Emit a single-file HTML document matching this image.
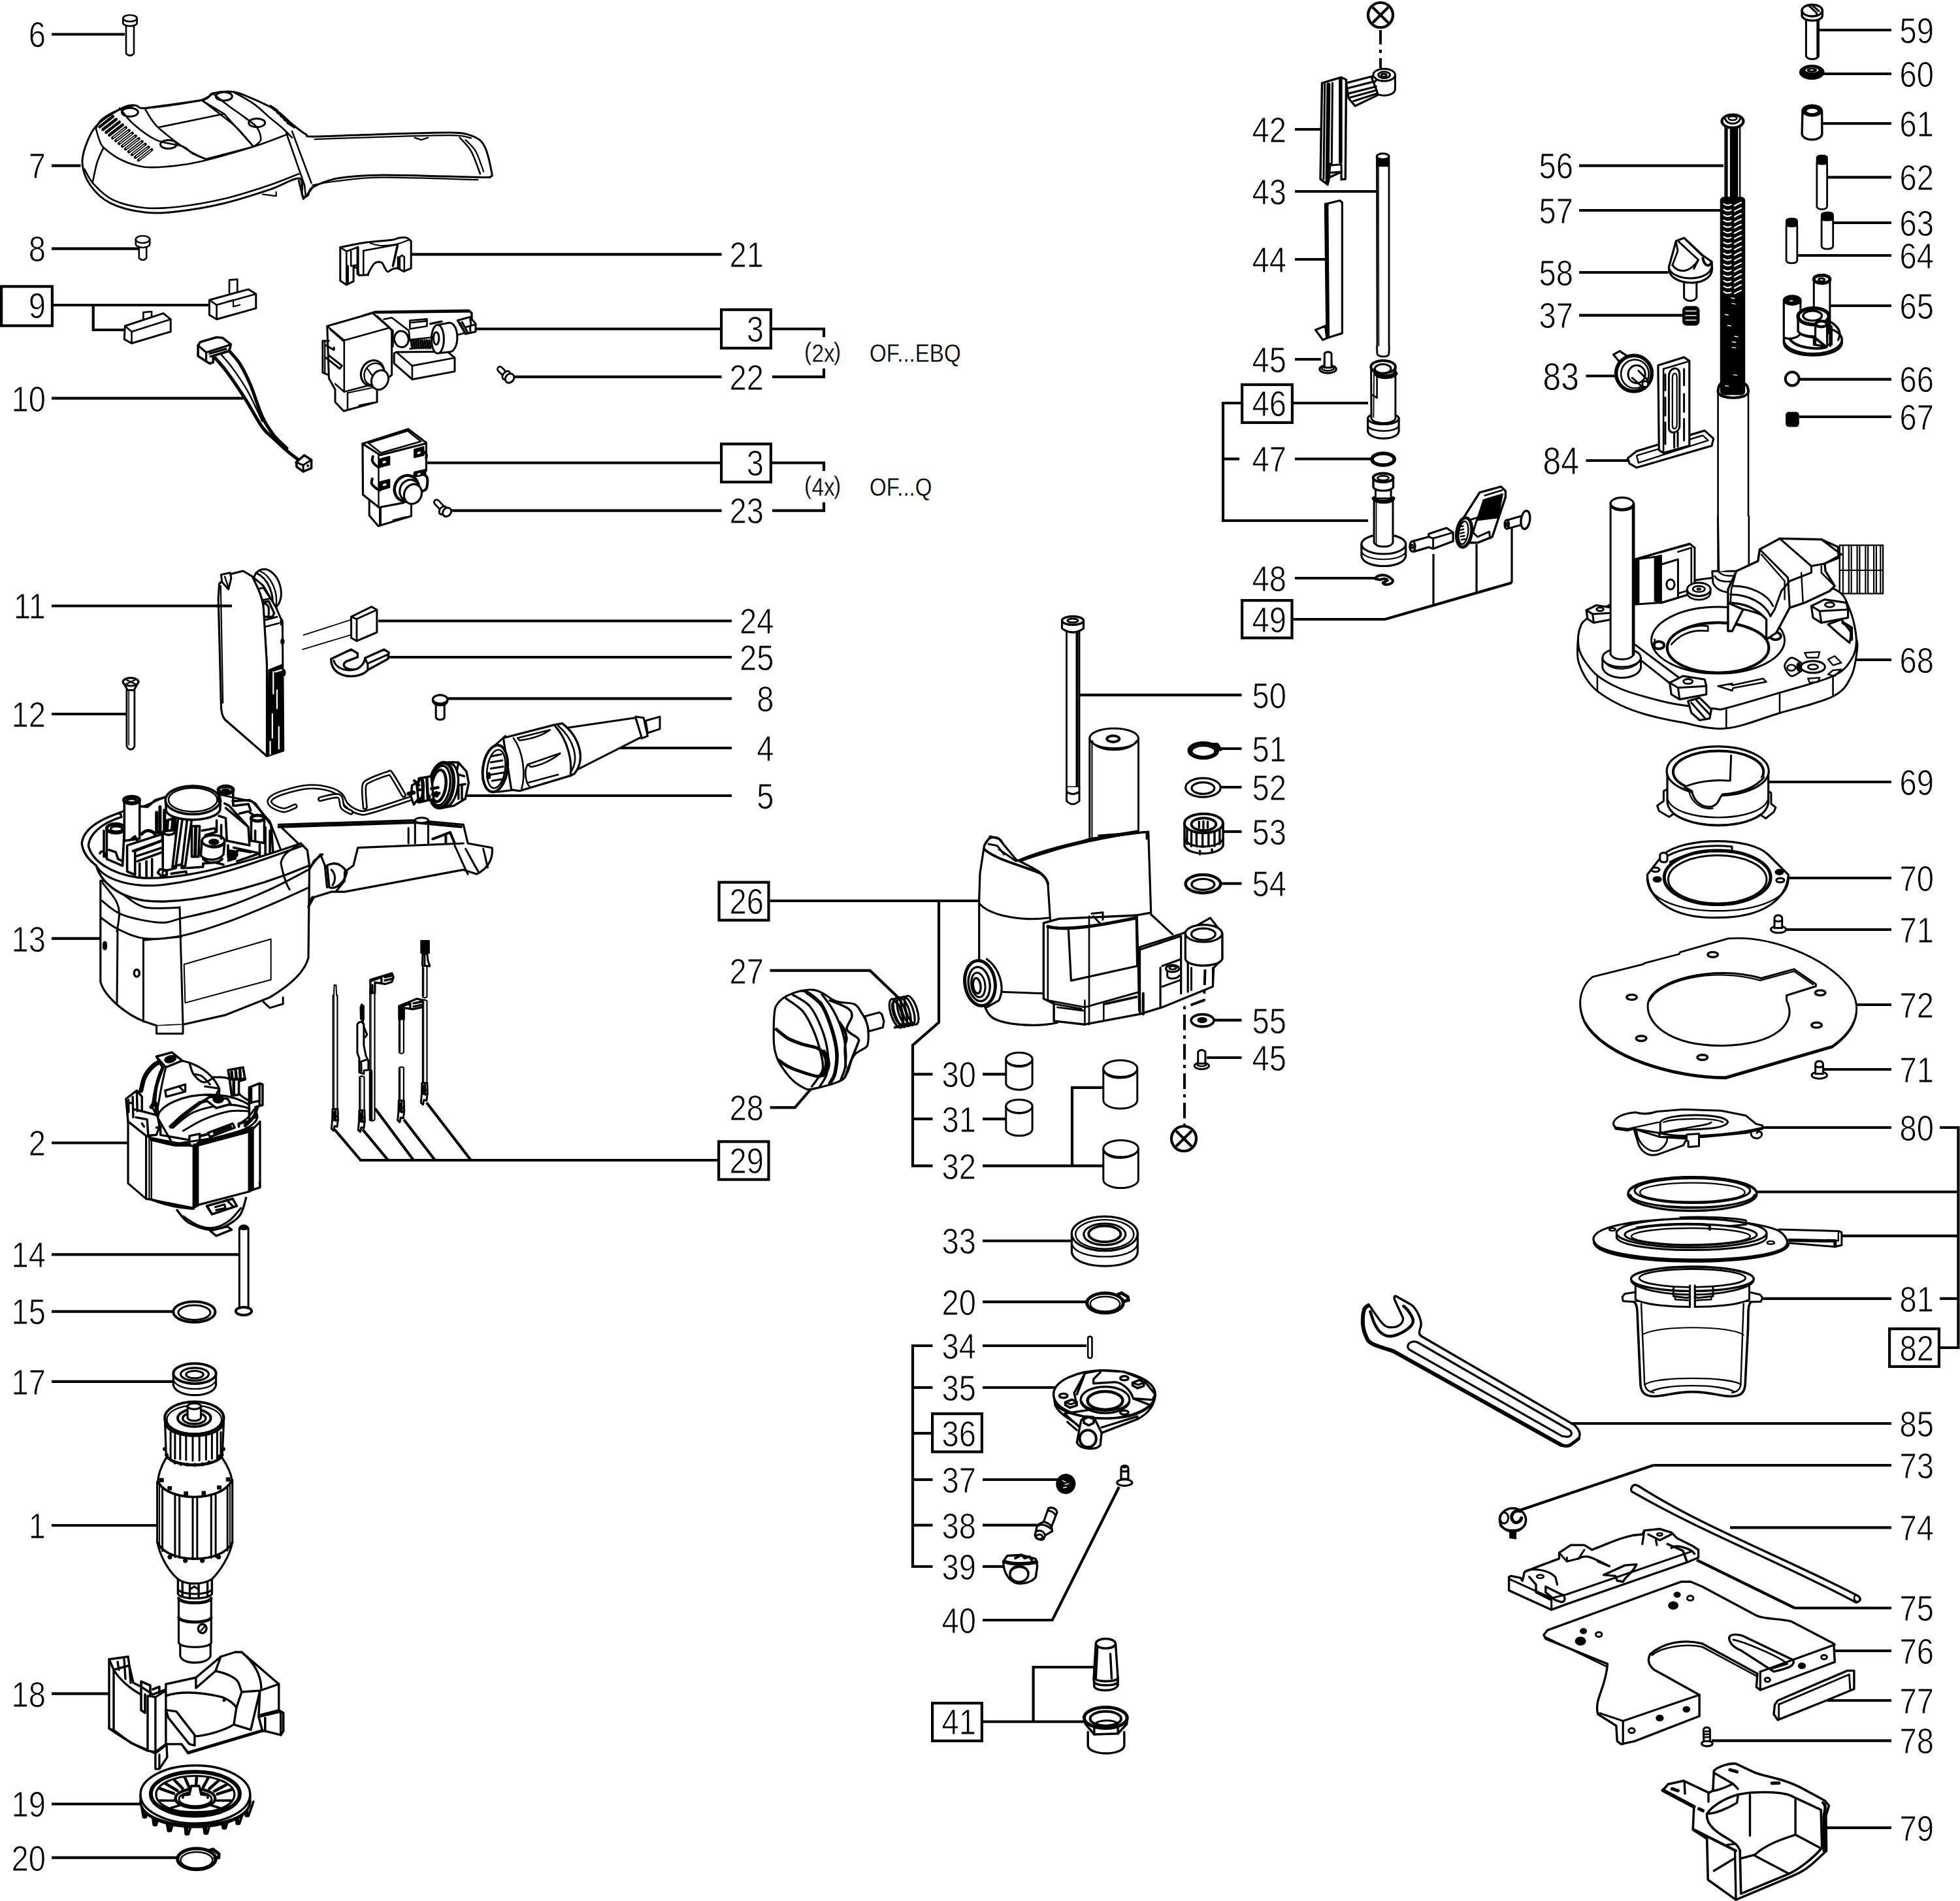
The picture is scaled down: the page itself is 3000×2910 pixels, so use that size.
<!DOCTYPE html>
<html lang="en"><head><meta charset="utf-8"><title>Exploded parts diagram</title>
<style>html,body{margin:0;padding:0;background:#fff}svg{display:block}</style></head>
<body><svg width="3000" height="2910" viewBox="0 0 3000 2910">
<rect width="3000" height="2910" fill="#fff"/>
<g id="leaders" stroke="#000" fill="none">
<line x1="79" y1="52.5" x2="191" y2="52.5" stroke-width="4.2" stroke-linecap="butt"/>
<line x1="79" y1="253.6" x2="123.5" y2="253.6" stroke-width="4.2" stroke-linecap="butt"/>
<line x1="79" y1="380.6" x2="212.8" y2="380.6" stroke-width="4.2" stroke-linecap="butt"/>
<line x1="79" y1="609.7" x2="372.4" y2="609.7" stroke-width="4.2" stroke-linecap="butt"/>
<line x1="79" y1="927.5" x2="354.6" y2="927.5" stroke-width="4.2" stroke-linecap="butt"/>
<line x1="79" y1="1093" x2="196" y2="1093" stroke-width="4.2" stroke-linecap="butt"/>
<line x1="79" y1="1436.7" x2="153" y2="1436.7" stroke-width="4.2" stroke-linecap="butt"/>
<line x1="79" y1="1749.5" x2="196" y2="1749.5" stroke-width="4.2" stroke-linecap="butt"/>
<line x1="79" y1="1920.4" x2="366" y2="1920.4" stroke-width="4.2" stroke-linecap="butt"/>
<line x1="79" y1="2007.6" x2="265" y2="2007.6" stroke-width="4.2" stroke-linecap="butt"/>
<line x1="79" y1="2114.8" x2="265" y2="2114.8" stroke-width="4.2" stroke-linecap="butt"/>
<line x1="79" y1="2335" x2="242" y2="2335" stroke-width="4.2" stroke-linecap="butt"/>
<line x1="79" y1="2592.7" x2="167" y2="2592.7" stroke-width="4.2" stroke-linecap="butt"/>
<line x1="79" y1="2761.5" x2="216.8" y2="2761.5" stroke-width="4.2" stroke-linecap="butt"/>
<line x1="79" y1="2843.7" x2="273" y2="2843.7" stroke-width="4.2" stroke-linecap="butt"/>
<rect x="2.1" y="438.5" width="77.8" height="60.1" stroke-width="4.2" fill="none" rx="0"/>
<line x1="82" y1="467" x2="319" y2="467" stroke-width="4.2" stroke-linecap="butt"/>
<path d="M142.7 467 L142.7 505 L190.6 505" stroke-width="4.2" fill="none" stroke-linejoin="miter"/>
<line x1="630" y1="389.3" x2="1104.6" y2="389.3" stroke-width="4.2" stroke-linecap="butt"/>
<rect x="1104.1" y="474.1" width="75.8" height="58.8" stroke-width="4.2" fill="none" rx="0"/>
<line x1="727" y1="503.5" x2="1102" y2="503.5" stroke-width="4.2" stroke-linecap="butt"/>
<path d="M1182 503.5 L1261 503.5 L1261 516" stroke-width="4.2" fill="none" stroke-linejoin="miter"/>
<path d="M1261 564 L1261 576.8 L1182 576.8" stroke-width="4.2" fill="none" stroke-linejoin="miter"/>
<line x1="788" y1="576.8" x2="1104.6" y2="576.8" stroke-width="4.2" stroke-linecap="butt"/>
<rect x="1104.1" y="679.6" width="75.8" height="58.3" stroke-width="4.2" fill="none" rx="0"/>
<line x1="653" y1="708.5" x2="1102" y2="708.5" stroke-width="4.2" stroke-linecap="butt"/>
<path d="M1182 708.5 L1261 708.5 L1261 721" stroke-width="4.2" fill="none" stroke-linejoin="miter"/>
<path d="M1261 769 L1261 781.6 L1182 781.6" stroke-width="4.2" fill="none" stroke-linejoin="miter"/>
<line x1="691" y1="781.6" x2="1104.6" y2="781.6" stroke-width="4.2" stroke-linecap="butt"/>
<line x1="579" y1="950.5" x2="1120" y2="950.5" stroke-width="4.2" stroke-linecap="butt"/>
<line x1="594" y1="1006" x2="1120" y2="1006" stroke-width="4.2" stroke-linecap="butt"/>
<line x1="683.7" y1="1069.4" x2="1120" y2="1069.4" stroke-width="4.2" stroke-linecap="butt"/>
<line x1="944" y1="1145" x2="1120" y2="1145" stroke-width="4.2" stroke-linecap="butt"/>
<line x1="711.7" y1="1218" x2="1120" y2="1218" stroke-width="4.2" stroke-linecap="butt"/>
<rect x="1100.6" y="1350.6" width="75.9" height="58" stroke-width="4.2" fill="none" rx="0"/>
<line x1="1178.6" y1="1379" x2="1497.4" y2="1379" stroke-width="4.2" stroke-linecap="butt"/>
<path d="M1437 1379 L1437 1565 L1397 1600 L1397 1784.7 L1427.5 1784.7" stroke-width="4.2" fill="none" stroke-linejoin="miter"/>
<line x1="1397" y1="1644.4" x2="1427.5" y2="1644.4" stroke-width="4.2" stroke-linecap="butt"/>
<line x1="1397" y1="1712.8" x2="1427.5" y2="1712.8" stroke-width="4.2" stroke-linecap="butt"/>
<path d="M1178.6 1485.7 L1331.6 1485.7 L1377.5 1529.6" stroke-width="4.2" fill="none" stroke-linejoin="miter"/>
<path d="M1178.6 1695.4 L1216.8 1695.4 L1242 1666" stroke-width="4.2" fill="none" stroke-linejoin="miter"/>
<rect x="1100.1" y="1747.5" width="76.4" height="58.1" stroke-width="4.2" fill="none" rx="0"/>
<line x1="550" y1="1776" x2="1098" y2="1776" stroke-width="4.2" stroke-linecap="butt"/>
<line x1="512" y1="1728.8" x2="552" y2="1776" stroke-width="4.2" stroke-linecap="butt"/>
<line x1="555" y1="1728.8" x2="594" y2="1776" stroke-width="4.2" stroke-linecap="butt"/>
<line x1="574" y1="1696.8" x2="633" y2="1776" stroke-width="4.2" stroke-linecap="butt"/>
<line x1="618" y1="1713.8" x2="665.9" y2="1776" stroke-width="4.2" stroke-linecap="butt"/>
<line x1="652.9" y1="1687.8" x2="720.8" y2="1776" stroke-width="4.2" stroke-linecap="butt"/>
<line x1="1504" y1="1644.4" x2="1540" y2="1644.4" stroke-width="4.2" stroke-linecap="butt"/>
<line x1="1504" y1="1712.8" x2="1540" y2="1712.8" stroke-width="4.2" stroke-linecap="butt"/>
<line x1="1504" y1="1784.7" x2="1688.8" y2="1784.7" stroke-width="4.2" stroke-linecap="butt"/>
<line x1="1504" y1="1899.5" x2="1640" y2="1899.5" stroke-width="4.2" stroke-linecap="butt"/>
<line x1="1504" y1="1992.8" x2="1663" y2="1992.8" stroke-width="4.2" stroke-linecap="butt"/>
<line x1="1504" y1="2060" x2="1663" y2="2060" stroke-width="4.2" stroke-linecap="butt"/>
<line x1="1504" y1="2124" x2="1614.8" y2="2124" stroke-width="4.2" stroke-linecap="butt"/>
<line x1="1504" y1="2265" x2="1620" y2="2265" stroke-width="4.2" stroke-linecap="butt"/>
<line x1="1504" y1="2334.7" x2="1586.7" y2="2334.7" stroke-width="4.2" stroke-linecap="butt"/>
<line x1="1504" y1="2398" x2="1535.7" y2="2398" stroke-width="4.2" stroke-linecap="butt"/>
<path d="M1688.8 1664.8 L1641 1664.8 L1641 1784.7" stroke-width="4.2" fill="none" stroke-linejoin="miter"/>
<path d="M1427.5 2060 L1397 2060 L1397 2398 L1427.5 2398" stroke-width="4.2" fill="none" stroke-linejoin="miter"/>
<line x1="1397" y1="2124" x2="1427.5" y2="2124" stroke-width="4.2" stroke-linecap="butt"/>
<line x1="1397" y1="2265" x2="1427.5" y2="2265" stroke-width="4.2" stroke-linecap="butt"/>
<line x1="1397" y1="2334.7" x2="1427.5" y2="2334.7" stroke-width="4.2" stroke-linecap="butt"/>
<line x1="1397" y1="2194" x2="1425" y2="2194" stroke-width="4.2" stroke-linecap="butt"/>
<rect x="1427.1" y="2164.1" width="75.8" height="58.3" stroke-width="4.2" fill="none" rx="0"/>
<path d="M1504 2480 L1610.7 2480 L1713 2276" stroke-width="4.2" fill="none" stroke-linejoin="miter"/>
<rect x="1427.1" y="2607.1" width="75.8" height="57.8" stroke-width="4.2" fill="none" rx="0"/>
<line x1="1505" y1="2635.5" x2="1660.7" y2="2635.5" stroke-width="4.2" stroke-linecap="butt"/>
<path d="M1581.6 2635.5 L1581.6 2552 L1676 2552" stroke-width="4.2" fill="none" stroke-linejoin="miter"/>
<line x1="1982" y1="198" x2="2022" y2="198" stroke-width="4.2" stroke-linecap="butt"/>
<line x1="1982" y1="293" x2="2107" y2="293" stroke-width="4.2" stroke-linecap="butt"/>
<line x1="1982" y1="397" x2="2028" y2="397" stroke-width="4.2" stroke-linecap="butt"/>
<line x1="1982" y1="550" x2="2022" y2="550" stroke-width="4.2" stroke-linecap="butt"/>
<line x1="1982" y1="702.5" x2="2099" y2="702.5" stroke-width="4.2" stroke-linecap="butt"/>
<line x1="1982" y1="885" x2="2104.6" y2="885" stroke-width="4.2" stroke-linecap="butt"/>
<rect x="1901.1" y="588.8" width="76.8" height="58.1" stroke-width="4.2" fill="none" rx="0"/>
<line x1="1980" y1="617" x2="2094" y2="617" stroke-width="4.2" stroke-linecap="butt"/>
<path d="M1899 617 L1872 617 L1872 797 L2094 797" stroke-width="4.2" fill="none" stroke-linejoin="miter"/>
<line x1="1872" y1="702.5" x2="1897" y2="702.5" stroke-width="4.2" stroke-linecap="butt"/>
<rect x="1901.1" y="919.1" width="76.4" height="57.4" stroke-width="4.2" fill="none" rx="0"/>
<path d="M1979.6 948 L2120 948 L2314 892" stroke-width="4.2" fill="none" stroke-linejoin="miter"/>
<line x1="2194" y1="848" x2="2194" y2="927" stroke-width="3.2" stroke-linecap="butt"/>
<line x1="2260" y1="833" x2="2260" y2="908" stroke-width="3.2" stroke-linecap="butt"/>
<line x1="2314" y1="808" x2="2314" y2="892" stroke-width="3.2" stroke-linecap="butt"/>
<line x1="1649" y1="1063.8" x2="1900.5" y2="1063.8" stroke-width="4.2" stroke-linecap="butt"/>
<line x1="1862" y1="1146" x2="1900.5" y2="1146" stroke-width="4.2" stroke-linecap="butt"/>
<line x1="1867" y1="1205" x2="1900.5" y2="1205" stroke-width="4.2" stroke-linecap="butt"/>
<line x1="1870" y1="1273" x2="1900.5" y2="1273" stroke-width="4.2" stroke-linecap="butt"/>
<line x1="1870" y1="1352.5" x2="1900.5" y2="1352.5" stroke-width="4.2" stroke-linecap="butt"/>
<line x1="1857" y1="1561.7" x2="1900.5" y2="1561.7" stroke-width="4.2" stroke-linecap="butt"/>
<line x1="1847" y1="1619" x2="1900.5" y2="1619" stroke-width="4.2" stroke-linecap="butt"/>
<line x1="2417" y1="253.6" x2="2638" y2="253.6" stroke-width="4.2" stroke-linecap="butt"/>
<line x1="2417" y1="322" x2="2633" y2="322" stroke-width="4.2" stroke-linecap="butt"/>
<line x1="2417" y1="417" x2="2553.6" y2="417" stroke-width="4.2" stroke-linecap="butt"/>
<line x1="2417" y1="482.6" x2="2576.5" y2="482.6" stroke-width="4.2" stroke-linecap="butt"/>
<line x1="2427.5" y1="575.5" x2="2474.5" y2="575.5" stroke-width="4.2" stroke-linecap="butt"/>
<line x1="2427.5" y1="705" x2="2492" y2="705" stroke-width="4.2" stroke-linecap="butt"/>
<line x1="2778" y1="46" x2="2895" y2="46" stroke-width="4.2" stroke-linecap="butt"/>
<line x1="2790" y1="113" x2="2895" y2="113" stroke-width="4.2" stroke-linecap="butt"/>
<line x1="2788" y1="189" x2="2895" y2="189" stroke-width="4.2" stroke-linecap="butt"/>
<line x1="2793" y1="271.4" x2="2895" y2="271.4" stroke-width="4.2" stroke-linecap="butt"/>
<line x1="2802" y1="341" x2="2895" y2="341" stroke-width="4.2" stroke-linecap="butt"/>
<line x1="2746" y1="391" x2="2895" y2="391" stroke-width="4.2" stroke-linecap="butt"/>
<line x1="2798" y1="468" x2="2895" y2="468" stroke-width="4.2" stroke-linecap="butt"/>
<line x1="2755" y1="580.6" x2="2895" y2="580.6" stroke-width="4.2" stroke-linecap="butt"/>
<line x1="2754" y1="638" x2="2895" y2="638" stroke-width="4.2" stroke-linecap="butt"/>
<line x1="2839" y1="1010" x2="2895" y2="1010" stroke-width="4.2" stroke-linecap="butt"/>
<line x1="2706.6" y1="1197" x2="2895" y2="1197" stroke-width="4.2" stroke-linecap="butt"/>
<line x1="2737" y1="1344" x2="2895" y2="1344" stroke-width="4.2" stroke-linecap="butt"/>
<line x1="2732" y1="1423" x2="2895" y2="1423" stroke-width="4.2" stroke-linecap="butt"/>
<line x1="2839" y1="1538" x2="2895" y2="1538" stroke-width="4.2" stroke-linecap="butt"/>
<line x1="2790.8" y1="1637" x2="2895" y2="1637" stroke-width="4.2" stroke-linecap="butt"/>
<line x1="2696" y1="1726" x2="2895" y2="1726" stroke-width="4.2" stroke-linecap="butt"/>
<line x1="2696" y1="1987.8" x2="2895" y2="1987.8" stroke-width="4.2" stroke-linecap="butt"/>
<line x1="2404" y1="2179" x2="2895" y2="2179" stroke-width="4.2" stroke-linecap="butt"/>
<line x1="2530.6" y1="2243" x2="2895" y2="2243" stroke-width="4.2" stroke-linecap="butt"/>
<line x1="2648" y1="2338.3" x2="2895" y2="2338.3" stroke-width="4.2" stroke-linecap="butt"/>
<line x1="2747" y1="2461.5" x2="2895" y2="2461.5" stroke-width="4.2" stroke-linecap="butt"/>
<line x1="2808.7" y1="2527" x2="2895" y2="2527" stroke-width="4.2" stroke-linecap="butt"/>
<line x1="2796" y1="2603" x2="2895" y2="2603" stroke-width="4.2" stroke-linecap="butt"/>
<line x1="2620" y1="2664.6" x2="2895" y2="2664.6" stroke-width="4.2" stroke-linecap="butt"/>
<line x1="2796" y1="2797.8" x2="2895" y2="2797.8" stroke-width="4.2" stroke-linecap="butt"/>
<line x1="2530.6" y1="2243" x2="2326.5" y2="2311.7" stroke-width="4.2" stroke-linecap="butt"/>
<line x1="2747" y1="2461.5" x2="2597" y2="2388" stroke-width="4.2" stroke-linecap="butt"/>
<path d="M2969 1726 L2997.4 1726 L2997.4 2063 L2970 2063" stroke-width="4.2" fill="none" stroke-linejoin="miter"/>
<line x1="2688.8" y1="1824.5" x2="2997.4" y2="1824.5" stroke-width="4.2" stroke-linecap="butt"/>
<line x1="2819" y1="1891.8" x2="2997.4" y2="1891.8" stroke-width="4.2" stroke-linecap="butt"/>
<line x1="2969" y1="1987.8" x2="2997.4" y2="1987.8" stroke-width="4.2" stroke-linecap="butt"/>
<rect x="2892.1" y="2034.1" width="75.8" height="57.8" stroke-width="4.2" fill="none" rx="0"/>
</g>
<g id="labels" fill="#000" stroke="#fff" stroke-width="0.9" font-family="&quot;Liberation Sans&quot;, sans-serif">
<text transform="translate(70 72.3) scale(0.84 1)" font-size="56.2" text-anchor="end">6</text>
<text transform="translate(70 273.4) scale(0.84 1)" font-size="56.2" text-anchor="end">7</text>
<text transform="translate(70 400.4) scale(0.84 1)" font-size="56.2" text-anchor="end">8</text>
<text transform="translate(70 486.8) scale(0.84 1)" font-size="56.2" text-anchor="end">9</text>
<text transform="translate(70 629.5) scale(0.84 1)" font-size="56.2" text-anchor="end">10</text>
<text transform="translate(70 947.3) scale(0.84 1)" font-size="56.2" text-anchor="end">11</text>
<text transform="translate(70 1112.8) scale(0.84 1)" font-size="56.2" text-anchor="end">12</text>
<text transform="translate(70 1456.5) scale(0.84 1)" font-size="56.2" text-anchor="end">13</text>
<text transform="translate(70 1769.3) scale(0.84 1)" font-size="56.2" text-anchor="end">2</text>
<text transform="translate(70 1940.2) scale(0.84 1)" font-size="56.2" text-anchor="end">14</text>
<text transform="translate(70 2027.4) scale(0.84 1)" font-size="56.2" text-anchor="end">15</text>
<text transform="translate(70 2134.6) scale(0.84 1)" font-size="56.2" text-anchor="end">17</text>
<text transform="translate(70 2354.8) scale(0.84 1)" font-size="56.2" text-anchor="end">1</text>
<text transform="translate(70 2612.5) scale(0.84 1)" font-size="56.2" text-anchor="end">18</text>
<text transform="translate(70 2781.3) scale(0.84 1)" font-size="56.2" text-anchor="end">19</text>
<text transform="translate(70 2863.5) scale(0.84 1)" font-size="56.2" text-anchor="end">20</text>
<text transform="translate(1169 409.1) scale(0.84 1)" font-size="56.2" text-anchor="end">21</text>
<text transform="translate(1169 523.3) scale(0.84 1)" font-size="56.2" text-anchor="end">3</text>
<text transform="translate(1169 596.6) scale(0.84 1)" font-size="56.2" text-anchor="end">22</text>
<text transform="translate(1169 728.3) scale(0.84 1)" font-size="56.2" text-anchor="end">3</text>
<text transform="translate(1169 801.4) scale(0.84 1)" font-size="56.2" text-anchor="end">23</text>
<text transform="translate(1169 1398.8) scale(0.84 1)" font-size="56.2" text-anchor="end">26</text>
<text transform="translate(1169 1505.5) scale(0.84 1)" font-size="56.2" text-anchor="end">27</text>
<text transform="translate(1169 1715.2) scale(0.84 1)" font-size="56.2" text-anchor="end">28</text>
<text transform="translate(1169 1795.8) scale(0.84 1)" font-size="56.2" text-anchor="end">29</text>
<text transform="translate(1184.6 970.3) scale(0.84 1)" font-size="56.2" text-anchor="end">24</text>
<text transform="translate(1184.6 1025.8) scale(0.84 1)" font-size="56.2" text-anchor="end">25</text>
<text transform="translate(1184.6 1089.2) scale(0.84 1)" font-size="56.2" text-anchor="end">8</text>
<text transform="translate(1184.6 1164.8) scale(0.84 1)" font-size="56.2" text-anchor="end">4</text>
<text transform="translate(1184.6 1237.8) scale(0.84 1)" font-size="56.2" text-anchor="end">5</text>
<text transform="translate(1494 1664.2) scale(0.84 1)" font-size="56.2" text-anchor="end">30</text>
<text transform="translate(1494 1732.6) scale(0.84 1)" font-size="56.2" text-anchor="end">31</text>
<text transform="translate(1494 1804.5) scale(0.84 1)" font-size="56.2" text-anchor="end">32</text>
<text transform="translate(1494 1919.3) scale(0.84 1)" font-size="56.2" text-anchor="end">33</text>
<text transform="translate(1494 2012.6) scale(0.84 1)" font-size="56.2" text-anchor="end">20</text>
<text transform="translate(1494 2079.8) scale(0.84 1)" font-size="56.2" text-anchor="end">34</text>
<text transform="translate(1494 2143.8) scale(0.84 1)" font-size="56.2" text-anchor="end">35</text>
<text transform="translate(1494 2213.8) scale(0.84 1)" font-size="56.2" text-anchor="end">36</text>
<text transform="translate(1494 2284.8) scale(0.84 1)" font-size="56.2" text-anchor="end">37</text>
<text transform="translate(1494 2354.5) scale(0.84 1)" font-size="56.2" text-anchor="end">38</text>
<text transform="translate(1494 2417.8) scale(0.84 1)" font-size="56.2" text-anchor="end">39</text>
<text transform="translate(1494 2499.8) scale(0.84 1)" font-size="56.2" text-anchor="end">40</text>
<text transform="translate(1494 2655.3) scale(0.84 1)" font-size="56.2" text-anchor="end">41</text>
<text transform="translate(1969 217.8) scale(0.84 1)" font-size="56.2" text-anchor="end">42</text>
<text transform="translate(1969 312.8) scale(0.84 1)" font-size="56.2" text-anchor="end">43</text>
<text transform="translate(1969 416.8) scale(0.84 1)" font-size="56.2" text-anchor="end">44</text>
<text transform="translate(1969 569.8) scale(0.84 1)" font-size="56.2" text-anchor="end">45</text>
<text transform="translate(1969 636.8) scale(0.84 1)" font-size="56.2" text-anchor="end">46</text>
<text transform="translate(1969 722.3) scale(0.84 1)" font-size="56.2" text-anchor="end">47</text>
<text transform="translate(1969 904.8) scale(0.84 1)" font-size="56.2" text-anchor="end">48</text>
<text transform="translate(1969 967.8) scale(0.84 1)" font-size="56.2" text-anchor="end">49</text>
<text transform="translate(1969 1083.6) scale(0.84 1)" font-size="56.2" text-anchor="end">50</text>
<text transform="translate(1969 1165.8) scale(0.84 1)" font-size="56.2" text-anchor="end">51</text>
<text transform="translate(1969 1224.8) scale(0.84 1)" font-size="56.2" text-anchor="end">52</text>
<text transform="translate(1969 1292.8) scale(0.84 1)" font-size="56.2" text-anchor="end">53</text>
<text transform="translate(1969 1372.3) scale(0.84 1)" font-size="56.2" text-anchor="end">54</text>
<text transform="translate(1969 1581.5) scale(0.84 1)" font-size="56.2" text-anchor="end">55</text>
<text transform="translate(1969 1638.8) scale(0.84 1)" font-size="56.2" text-anchor="end">45</text>
<text transform="translate(2408 273.4) scale(0.84 1)" font-size="56.2" text-anchor="end">56</text>
<text transform="translate(2408 341.8) scale(0.84 1)" font-size="56.2" text-anchor="end">57</text>
<text transform="translate(2408 436.8) scale(0.84 1)" font-size="56.2" text-anchor="end">58</text>
<text transform="translate(2408 502.4) scale(0.84 1)" font-size="56.2" text-anchor="end">37</text>
<text transform="translate(2417 596.5) scale(0.83 1)" font-size="60" text-anchor="end">83</text>
<text transform="translate(2417 726) scale(0.83 1)" font-size="60" text-anchor="end">84</text>
<text transform="translate(2960 65.8) scale(0.84 1)" font-size="56.2" text-anchor="end">59</text>
<text transform="translate(2960 132.8) scale(0.84 1)" font-size="56.2" text-anchor="end">60</text>
<text transform="translate(2960 208.8) scale(0.84 1)" font-size="56.2" text-anchor="end">61</text>
<text transform="translate(2960 291.2) scale(0.84 1)" font-size="56.2" text-anchor="end">62</text>
<text transform="translate(2960 360.8) scale(0.84 1)" font-size="56.2" text-anchor="end">63</text>
<text transform="translate(2960 410.8) scale(0.84 1)" font-size="56.2" text-anchor="end">64</text>
<text transform="translate(2960 487.8) scale(0.84 1)" font-size="56.2" text-anchor="end">65</text>
<text transform="translate(2960 600.4) scale(0.84 1)" font-size="56.2" text-anchor="end">66</text>
<text transform="translate(2960 657.8) scale(0.84 1)" font-size="56.2" text-anchor="end">67</text>
<text transform="translate(2960 1029.8) scale(0.84 1)" font-size="56.2" text-anchor="end">68</text>
<text transform="translate(2960 1216.8) scale(0.84 1)" font-size="56.2" text-anchor="end">69</text>
<text transform="translate(2960 1363.8) scale(0.84 1)" font-size="56.2" text-anchor="end">70</text>
<text transform="translate(2960 1442.8) scale(0.84 1)" font-size="56.2" text-anchor="end">71</text>
<text transform="translate(2960 1557.8) scale(0.84 1)" font-size="56.2" text-anchor="end">72</text>
<text transform="translate(2960 1656.8) scale(0.84 1)" font-size="56.2" text-anchor="end">71</text>
<text transform="translate(2960 1745.8) scale(0.84 1)" font-size="56.2" text-anchor="end">80</text>
<text transform="translate(2960 2007.6) scale(0.84 1)" font-size="56.2" text-anchor="end">81</text>
<text transform="translate(2960 2082.8) scale(0.84 1)" font-size="56.2" text-anchor="end">82</text>
<text transform="translate(2960 2198.8) scale(0.84 1)" font-size="56.2" text-anchor="end">85</text>
<text transform="translate(2960 2262.8) scale(0.84 1)" font-size="56.2" text-anchor="end">73</text>
<text transform="translate(2960 2358.1) scale(0.84 1)" font-size="56.2" text-anchor="end">74</text>
<text transform="translate(2960 2481.3) scale(0.84 1)" font-size="56.2" text-anchor="end">75</text>
<text transform="translate(2960 2546.8) scale(0.84 1)" font-size="56.2" text-anchor="end">76</text>
<text transform="translate(2960 2622.8) scale(0.84 1)" font-size="56.2" text-anchor="end">77</text>
<text transform="translate(2960 2684.4) scale(0.84 1)" font-size="56.2" text-anchor="end">78</text>
<text transform="translate(2960 2817.6) scale(0.84 1)" font-size="56.2" text-anchor="end">79</text>
<text transform="translate(1231 550.6) scale(0.88 1)" font-size="38" text-anchor="start" stroke-width="0.3">(</text>
<text transform="translate(1242.5 553.6) scale(0.88 1)" font-size="38" text-anchor="start" stroke-width="0.3">2x</text>
<text transform="translate(1276 550.6) scale(0.88 1)" font-size="38" text-anchor="start" stroke-width="0.3">)</text>
<text transform="translate(1331 553.6) scale(0.87 1)" font-size="38" text-anchor="start" stroke-width="0.3">OF...EBQ</text>
<text transform="translate(1231 755.6) scale(0.88 1)" font-size="38" text-anchor="start" stroke-width="0.3">(</text>
<text transform="translate(1242.5 758.6) scale(0.88 1)" font-size="38" text-anchor="start" stroke-width="0.3">4x</text>
<text transform="translate(1276 755.6) scale(0.88 1)" font-size="38" text-anchor="start" stroke-width="0.3">)</text>
<text transform="translate(1331 758.6) scale(0.87 1)" font-size="38" text-anchor="start" stroke-width="0.3">OF...Q</text>
</g>
<g id="01_topleft" stroke="#000" fill="none" stroke-linejoin="round" stroke-linecap="round">
<path d="M193 35 L193 82 Q199 88 205 82 L205 35" stroke-width="2.6" fill="#fff" />
<path d="M188.3 28 L188.3 35 A10.7 5 0 0 0 209.7 35 L209.7 28" stroke-width="2.6" fill="#fff" />
<ellipse cx="199" cy="28" rx="10.7" ry="5" stroke-width="2.6" fill="#fff"/>
<path d="M212.8 373.5 L212.8 395 Q218.5 401 224.2 395 L224.2 373.5" stroke-width="2.6" fill="#fff" />
<path d="M207.8 366.5 L207.8 373.5 A10.7 5.5 0 0 0 229.2 373.5 L229.2 366.5" stroke-width="2.6" fill="#fff" />
<ellipse cx="218.5" cy="366.5" rx="10.7" ry="5.5" stroke-width="2.6" fill="#fff"/>
<path d="M126 248.8 C125.4 237.2 130.4 224.2 134.7 214.1 C139 204 142.8 196.5 152 188.1 C161.3 179.7 181 168.2 190.2 163.8 C199.5 159.3 201.8 161.1 207.6 161.4 C213.3 161.6 208.1 166.8 224.9 165.5 C241.7 164.2 291.4 157.1 308.2 153.4 C325 149.6 317.4 145.1 325.5 143 C333.6 140.8 346.4 139.1 356.8 140.5 C367.2 142 377 146.9 388 151.6 C399 156.4 412.9 162.6 422.7 169 C432.5 175.3 439.5 183.7 447 189.8 C454.5 195.9 462 202.2 467.8 205.4 C473.6 208.6 462 208.9 481.7 208.9 C501.3 208.9 551.1 206.4 585.8 205.4 C620.5 204.4 666.7 202.4 689.9 203 C713 203.6 715.9 205.3 724.6 208.9 C733.2 212.5 737.3 215.5 741.9 224.5 C746.5 233.5 750.9 255 752.3 262.7 C753.8 270.3 754.1 268.9 750.6 270.3 C747.1 271.8 759 271.8 731.5 271.3 C704 270.9 621.6 267.6 585.8 267.9 C549.9 268.2 534.3 269.9 516.4 273.1 C498.5 276.3 485.7 282.6 478.2 287 C470.7 291.3 473.9 297.1 471.3 299.1 C468.7 301.1 464.8 303.4 462.6 299.1 C460.4 294.8 466.5 274.5 458.1 273.1 C449.7 271.6 431.5 284.1 412.3 290.4 C393.1 296.8 366 305.8 342.9 311.2 C319.8 316.7 293.7 321.1 273.5 323.4 C253.3 325.7 238.8 327.2 221.4 325.1 C204.1 323.1 183.3 318.2 169.4 311.2 C155.5 304.3 145.4 293.9 138.2 283.5 C130.9 273.1 126.6 260.4 126 248.8 Z" stroke-width="3" fill="#fff" />
<path d="M129.5 259.2 C131.8 263 136.1 273.9 143.4 281.8 C150.6 289.6 159.9 300 172.9 306 C185.9 312.1 204.7 316.5 221.4 318.2 C238.2 319.9 253.3 318.8 273.5 316.5 C293.7 314.1 319.8 309.8 342.9 304.3 C366 298.8 393.2 289.9 412.3 283.5 C431.4 277.1 449.9 269 457.4 266.1" stroke-width="2.6" fill="none" />
<path d="M146.8 196.7 C147.7 199.6 150 209.2 152 214.1 C154.1 219 153.2 221 159 226.2 C164.8 231.4 176.3 240.4 186.7 245.3 C197.2 250.2 208.1 254.3 221.4 255.7 C234.7 257.2 252.1 255.4 266.6 254 C281 252.6 287.9 252 308.2 247.1 C328.4 242.1 366 231.4 388 224.5 C410 217.6 431.4 208.6 440 205.4" stroke-width="2.6" fill="none" />
<path d="M158.3 226.2 C156.7 230 151.4 239.8 148.6 248.8 C145.8 257.8 142.8 274.8 141.6 280" stroke-width="2.6" fill="none" />
<path d="M146.8 196.7 C148.3 194.4 149.4 187.8 155.5 182.9 C161.6 178 175.2 170.7 183.3 167.3 C191.4 163.8 200.6 162.9 204.1 162" stroke-width="2.6" fill="none" />
<line x1="152.5" y1="194.2" x2="172.9" y2="178.3" stroke-width="4.6" stroke-linecap="round"/>
<line x1="157.4" y1="198.4" x2="177.8" y2="182.6" stroke-width="4.6" stroke-linecap="round"/>
<line x1="162.4" y1="202.7" x2="182.8" y2="186.8" stroke-width="4.6" stroke-linecap="round"/>
<line x1="167.3" y1="206.9" x2="187.7" y2="191.1" stroke-width="4.6" stroke-linecap="round"/>
<line x1="172.3" y1="211.2" x2="192.7" y2="195.3" stroke-width="4.6" stroke-linecap="round"/>
<line x1="177.3" y1="215.4" x2="197.6" y2="199.6" stroke-width="4.6" stroke-linecap="round"/>
<line x1="182.2" y1="219.7" x2="202.6" y2="203.8" stroke-width="4.6" stroke-linecap="round"/>
<line x1="187.2" y1="223.9" x2="207.6" y2="208.1" stroke-width="4.6" stroke-linecap="round"/>
<line x1="192.1" y1="228.2" x2="212.5" y2="212.3" stroke-width="4.6" stroke-linecap="round"/>
<line x1="197.1" y1="232.4" x2="217.5" y2="216.6" stroke-width="4.6" stroke-linecap="round"/>
<line x1="202" y1="236.7" x2="222.4" y2="220.8" stroke-width="4.6" stroke-linecap="round"/>
<line x1="207" y1="240.9" x2="227.4" y2="225.1" stroke-width="4.6" stroke-linecap="round"/>
<line x1="211.9" y1="245.2" x2="232.3" y2="229.3" stroke-width="4.6" stroke-linecap="round"/>
<g stroke="#fff">
<line x1="173.8" y1="210" x2="191.2" y2="196.5" stroke-width="1.3" stroke-linecap="round"/>
<line x1="178.8" y1="214.3" x2="196.1" y2="200.7" stroke-width="1.3" stroke-linecap="round"/>
<line x1="183.7" y1="218.5" x2="201.1" y2="204.9" stroke-width="1.3" stroke-linecap="round"/>
<line x1="188.7" y1="222.8" x2="206" y2="209.2" stroke-width="1.3" stroke-linecap="round"/>
<line x1="193.6" y1="227" x2="211" y2="213.4" stroke-width="1.3" stroke-linecap="round"/>
<line x1="198.6" y1="231.3" x2="216" y2="217.7" stroke-width="1.3" stroke-linecap="round"/>
<line x1="203.5" y1="235.5" x2="220.9" y2="221.9" stroke-width="1.3" stroke-linecap="round"/>
<line x1="208.5" y1="239.8" x2="225.9" y2="226.2" stroke-width="1.3" stroke-linecap="round"/>
<line x1="213.5" y1="244" x2="230.8" y2="230.4" stroke-width="1.3" stroke-linecap="round"/>
</g>
<path d="M221.4 165.5 C223.2 168.4 227.8 177.4 231.9 182.9 C235.9 188.4 236.5 190.7 245.7 198.5 C255 206.3 275.8 222.2 287.4 229.7 C298.9 237.2 310.5 241.3 315.1 243.6" stroke-width="2.6" fill="none" />
<path d="M221.4 165.5 L308.2 153.4 L342.9 174.2 L388 224.5 L315.1 243.6" stroke-width="2.6" fill="none" stroke-linejoin="round"/>
<line x1="242.3" y1="195" x2="342.9" y2="174.2" stroke-width="2.6" stroke-linecap="round"/>
<path d="M183.3 165.5 C186.7 169.6 194.8 181.7 204.1 189.8 C213.3 197.9 226.1 208.3 238.8 214.1 C251.5 219.9 271.2 221 280.4 224.5 C289.7 228 288.5 231.7 294.3 234.9 C300.1 238.1 311.7 242.1 315.1 243.6" stroke-width="2.6" fill="none" />
<path d="M325.5 143 C329.6 146.1 341.7 156 349.8 162 C357.9 168.1 366.9 173.9 374.1 179.4 C381.3 184.9 389 189.2 393.2 195 C397.4 200.8 400 209.2 399.1 214.1 C398.2 219 389.8 222.8 388 224.5" stroke-width="2.6" fill="none" />
<path d="M356.8 140.5 C362 143.5 378.7 152.1 388 158.6 C397.2 165.1 404.8 173 412.3 179.4 C419.8 185.8 427.3 191.5 433.1 196.7 C438.9 202 444.7 208.3 447 210.6" stroke-width="2.6" fill="none" />
<path d="M308.2 153.4 C310.5 152.2 319.2 148.2 322.1 146.4 C325 144.7 325 143.5 325.5 143" stroke-width="2.6" fill="none" />
<path d="M311.7 155.1 C316.9 159.2 334.2 172.5 342.9 179.4 C351.6 186.3 356.2 189.2 363.7 196.7 C371.2 204.3 383.9 219.9 388 224.5" stroke-width="2.6" fill="none" />
<ellipse cx="198.9" cy="171.8" rx="12.5" ry="6.6" stroke-width="3" fill="none"/>
<ellipse cx="342.9" cy="147.5" rx="12.5" ry="6.6" stroke-width="3" fill="none"/>
<ellipse cx="257.9" cy="221" rx="12.5" ry="6.6" stroke-width="3" fill="none"/>
<ellipse cx="393.2" cy="188.1" rx="12.5" ry="6.6" stroke-width="3" fill="none"/>
<line x1="414" y1="162" x2="424.4" y2="169" stroke-width="3.2" stroke-linecap="round"/>
<line x1="419.2" y1="167.3" x2="429.6" y2="174.2" stroke-width="3.2" stroke-linecap="round"/>
<line x1="424.4" y1="172.5" x2="434.8" y2="179.4" stroke-width="3.2" stroke-linecap="round"/>
<line x1="429.6" y1="177.7" x2="440" y2="184.6" stroke-width="3.2" stroke-linecap="round"/>
<line x1="434.8" y1="182.9" x2="445.2" y2="189.8" stroke-width="3.2" stroke-linecap="round"/>
<line x1="440" y1="188.1" x2="450.5" y2="195" stroke-width="3.2" stroke-linecap="round"/>
<path d="M438.3 203.7 L466.1 283.5 L467.8 299.1" stroke-width="2.6" fill="none" stroke-linejoin="round"/>
<path d="M447 200.9 L476.5 280" stroke-width="2.6" fill="none" stroke-linejoin="round"/>
<path d="M481.7 213.1 C499 212.5 551.1 210.6 585.8 209.6 C620.5 208.6 667.3 206.9 689.9 207.2 C712.4 207.4 715.9 210.6 721.1 211.3" stroke-width="2.2" fill="none" />
<path d="M478.2 283.5 C484.6 282.4 498.5 279.2 516.4 277.2 C534.3 275.3 549.9 272 585.8 271.7 C621.6 271.3 707.2 274.6 731.5 275.2" stroke-width="2.2" fill="none" />
<path d="M703.7 210.6 C706.6 214.1 715.9 222.2 721.1 231.4 C726.3 240.7 732.7 260.4 735 266.1" stroke-width="2.6" fill="none" />
<path d="M712.4 214.1 C715 217 723.4 223.3 728 231.4 C732.7 239.5 738.2 257.5 740.2 262.7" stroke-width="2.2" fill="none" />
<path d="M634.4 210.6 L644.8 214.1 L655.2 210.6" stroke-width="2.2" fill="none" stroke-linejoin="round"/>
<path d="M401.9 297.4 L422.7 300.1 L422.7 293.9" stroke-width="2.2" fill="none" stroke-linejoin="round"/>
<path d="M457.4 276.6 L464.3 304.3 L469.5 299.1 L478.2 287" stroke-width="3.2" fill="none" stroke-linejoin="round"/>
<path d="M351 449 L351 428.6 L363.3 427.6 L363.3 449" stroke-width="2.6" fill="#fff" stroke-linejoin="round"/>
<path d="M320.4 459.2 L380.1 442.9 L391.8 450 L391.8 471.9 L331.6 488.8 L320.4 482.1 Z" stroke-width="3" fill="#fff" stroke-linejoin="round"/>
<path d="M320.4 459.2 L331.6 466.8 L391.8 450" stroke-width="2.6" fill="none" stroke-linejoin="round"/>
<line x1="331.6" y1="466.8" x2="331.6" y2="488.8" stroke-width="2.6" stroke-linecap="round"/>
<path d="M346.9 461.7 L357.1 459.2 L357.1 469.4 L367.3 466.8" stroke-width="2.2" fill="none" stroke-linejoin="round"/>
<path d="M219.4 497.4 L219.4 478.1 L232.1 477 L232.1 493.9" stroke-width="2.6" fill="#fff" stroke-linejoin="round"/>
<path d="M191.3 499 L250 479.6 L261.2 488.8 L261.2 507.7 L201.5 525.5 L190.3 519.4 Z" stroke-width="3" fill="#fff" stroke-linejoin="round"/>
<path d="M191.3 499 L201.5 507.7 L261.2 488.8" stroke-width="2.6" fill="none" stroke-linejoin="round"/>
<line x1="201.5" y1="507.7" x2="201.5" y2="525.5" stroke-width="2.6" stroke-linecap="round"/>
<path d="M329.9 548.5 C332.9 552 340.3 559.8 347.8 569.9 C355.3 580.1 365.7 595.3 374.6 609.3 C383.6 623.3 394 643.5 401.5 654 C408.9 664.4 413.1 665.9 419.3 671.9 C425.6 677.8 432.8 684.4 439 689.8 C445.3 695.1 453.9 701.7 456.9 704.1" stroke-width="5" fill="none" />
<path d="M351.4 537.7 C354.1 541 362.1 548.8 367.5 557.4 C372.8 566 377.9 576.2 383.6 589.6 C389.2 603 395.5 625.1 401.5 637.9 C407.4 650.7 413.1 658.5 419.3 666.5 C425.6 674.5 435.7 682.9 439 686.2" stroke-width="5" fill="none" />
<path d="M338.9 543.1 C341.8 546.7 349.9 555 356.7 564.6 C363.6 574.1 372.5 586.9 380 600.3 C387.4 613.7 397.9 637.6 401.5 645" stroke-width="2.4" fill="none" />
<path d="M303.1 528.8 L306.7 523.4 L331.7 516.3 L340.6 517.2 L353.2 527 L352.3 532.4 L349.6 537.7 L326.3 544.9 L326.3 554.7 L321 556.5 L313.8 552 L303.1 544.9 Z" stroke-width="3.6" fill="#fff" />
<path d="M303.1 528.8 L315.6 539.5 L352.3 527.9 M315.6 539.5 L315.6 552 M321 541.3 L346 534.1 M321.9 545.8 L347.8 537.7" stroke-width="3.2" fill="none" />
<path d="M453.3 707.6 L465.8 696.9 L476.6 704.1 L476.6 716.6 L464.1 721.9 L454.2 714.8 Z" stroke-width="3.6" fill="#fff" />
<path d="M453.3 707.6 L464.1 712.1 L476.6 704.1 M464.1 712.1 L464.1 721.9" stroke-width="3" fill="none" />
<ellipse cx="471.2" cy="713" rx="1.4" ry="1.8" stroke-width="1" fill="#000"/>
<path d="M520.8 378.6 C526.7 377.5 543.2 373.6 556.3 371.7 C569.5 369.8 590.7 368.6 599.7 367.3 C608.6 366.1 606.3 364.8 610.1 364.2 C613.9 363.6 619.1 363.1 622.2 363.9 C625.4 364.7 628 368.2 629.2 369.1" stroke-width="3" fill="none" />
<path d="M629.2 369.1 L629.2 410.7 L617.9 415.6 L609.2 410.7 L609.2 393.4" stroke-width="3" fill="none" stroke-linejoin="round"/>
<path d="M609.2 410.7 C607.9 410.9 604 410.7 601.4 411.6 C598.8 412.4 595.6 416.1 593.6 415.9 C591.6 415.8 590.9 413 589.3 410.7 C587.7 408.4 586.7 403.3 584.1 402 C581.5 400.7 576.8 400.6 573.7 402.9 C570.5 405.2 566.7 412.9 565 415.9 C563.3 418.9 563.6 420 563.3 420.8" stroke-width="3" fill="none" />
<path d="M563.3 420.8 L549.4 421.5 L546.8 410.7 L541.1 408.1 L541.1 430.7 L530.3 435.9 L520.8 429.8 L520.8 378.6" stroke-width="3" fill="none" stroke-linejoin="round"/>
<path d="M520.8 378.6 L530.3 384.7 L530.3 435.9" stroke-width="2.6" fill="none" stroke-linejoin="round"/>
<line x1="530.3" y1="384.7" x2="547.6" y2="378.6" stroke-width="2.6" stroke-linecap="round"/>
<path d="M537.2 384.7 L537.2 407.2 L546.8 405.5" stroke-width="2.6" fill="none" stroke-linejoin="round"/>
<line x1="547.6" y1="378.6" x2="547.6" y2="419.4" stroke-width="4" stroke-linecap="round"/>
<line x1="556.3" y1="383.8" x2="556.3" y2="419.4" stroke-width="2.6" stroke-linecap="round"/>
<line x1="556.3" y1="383.8" x2="608.4" y2="374.3" stroke-width="2.6" stroke-linecap="round"/>
<line x1="608.4" y1="376" x2="601.4" y2="407.2" stroke-width="3.5" stroke-linecap="round"/>
<path d="M611.8 410.7 L611.8 393.4 L615.3 390.8 L618.8 393.4 L618.8 414.2" stroke-width="2.6" fill="none" stroke-linejoin="round"/>
<path d="M566.7 372.5 C569.6 373.1 577.1 375.9 584.1 376 C591 376.2 601.4 374.9 608.4 373.4 C615.3 372 622.8 368.4 625.7 367.3" stroke-width="2.2" fill="none" />
<line x1="532" y1="407.2" x2="532" y2="433.3" stroke-width="4" stroke-linecap="round"/>
<path d="M554.6 483.6 L573.7 477.5 L717.6 475.2 L722 479.2 L722 487" stroke-width="3.4" fill="none" stroke-linejoin="round"/>
<line x1="573.7" y1="479.2" x2="719.4" y2="477.5" stroke-width="2.2" stroke-linecap="round"/>
<path d="M700.3 490.5 L719.4 485.3 L728 495.7 L728 507.8 L712.4 511.3 Z" stroke-width="3" fill="#fff" stroke-linejoin="round"/>
<path d="M703.8 494 L712.4 509.6 M707.2 493.1 L715.9 508.7 M719.4 485.3 L721.1 499.2 M712.4 500.9 L728 496.6 M719.4 499.2 L720.2 509.6" stroke-width="3" fill="none" />
<line x1="698.6" y1="513.1" x2="712.4" y2="509.6" stroke-width="2.6" stroke-linecap="round"/>
<path d="M606.6 539.1 L684.7 538.2 L696 547.7 L696 568.6 L630.9 580.7 L603.2 556.4 L603.2 540.8 Z" stroke-width="3" fill="#fff" stroke-linejoin="round"/>
<path d="M606.6 539.1 L630.9 559.9 L696 547.7" stroke-width="2.6" fill="none" stroke-linejoin="round"/>
<line x1="630.9" y1="559.9" x2="630.9" y2="580.7" stroke-width="2.6" stroke-linecap="round"/>
<path d="M577.1 483.6 L601.4 506.1 L601.4 530.4" stroke-width="2.6" fill="none" stroke-linejoin="round"/>
<path d="M587.5 488.8 L599.7 486.2 L625.7 506.1 L627.4 521.7" stroke-width="2.6" fill="none" stroke-linejoin="round"/>
<path d="M627.4 490.5 L653.5 488.4 L653.5 499.2 L627.4 503.5 Z" stroke-width="2.6" fill="#fff" stroke-linejoin="round"/>
<line x1="627.4" y1="494" x2="653.5" y2="491.4" stroke-width="2.6" stroke-linecap="round"/>
<line x1="629.2" y1="520.9" x2="630.9" y2="533" stroke-width="3.4" stroke-linecap="round"/>
<line x1="632.6" y1="520.9" x2="634.4" y2="533" stroke-width="3.4" stroke-linecap="round"/>
<line x1="636.1" y1="520.9" x2="637.8" y2="533" stroke-width="3.4" stroke-linecap="round"/>
<line x1="639.6" y1="520.9" x2="641.3" y2="533" stroke-width="3.4" stroke-linecap="round"/>
<line x1="643.1" y1="520.9" x2="644.8" y2="533" stroke-width="3.4" stroke-linecap="round"/>
<line x1="646.5" y1="520.9" x2="648.3" y2="533" stroke-width="3.4" stroke-linecap="round"/>
<line x1="650" y1="520.9" x2="651.7" y2="533" stroke-width="3.4" stroke-linecap="round"/>
<line x1="653.5" y1="520.9" x2="655.2" y2="533" stroke-width="3.4" stroke-linecap="round"/>
<line x1="656.9" y1="520.9" x2="658.7" y2="533" stroke-width="3.4" stroke-linecap="round"/>
<line x1="627.4" y1="520" x2="660.4" y2="516.5" stroke-width="2.6" stroke-linecap="round"/>
<line x1="627.4" y1="533.9" x2="660.4" y2="530.4" stroke-width="2.6" stroke-linecap="round"/>
<ellipse cx="614.4" cy="519.1" rx="10.8" ry="12.5" stroke-width="3" fill="#fff" transform="rotate(-10 614.4 519.1)"/>
<path d="M669.9 497.4 L688.2 494 C703.8 495.7 703.8 537.3 688.2 538.7 L669.9 540.8" stroke-width="3" fill="#fff" />
<ellipse cx="669.9" cy="519.1" rx="9.5" ry="21.9" stroke-width="3" fill="#fff"/>
<ellipse cx="667.7" cy="517.9" rx="4.2" ry="9.5" stroke-width="3" fill="none"/>
<line x1="658.7" y1="495.7" x2="676" y2="492.2" stroke-width="3.4" stroke-linecap="round"/>
<path d="M500.8 499.2 L570.2 479.2 L596.2 501.8 L599.7 506.1 L599.7 573.8 L577.1 592.8 L577.1 615.4 L526 629.3 L513 615.4 L513 596.3 L503.4 579 Z" stroke-width="3" fill="#fff" stroke-linejoin="round"/>
<path d="M500.8 499.2 L526.8 520.9 L596.2 501.8" stroke-width="2.6" fill="none" stroke-linejoin="round"/>
<path d="M526.8 520.9 L526.8 599.8 L513 587.6" stroke-width="2.6" fill="none" stroke-linejoin="round"/>
<path d="M526.8 599.8 L563.3 590.2" stroke-width="2.6" fill="none" stroke-linejoin="round"/>
<path d="M532 601.5 L532 627.5" stroke-width="2.6" fill="none" stroke-linejoin="round"/>
<line x1="505.2" y1="504.4" x2="526.8" y2="523.5" stroke-width="2.2" stroke-linecap="round"/>
<line x1="532" y1="601.5" x2="577.1" y2="592" stroke-width="2.2" stroke-linecap="round"/>
<line x1="549.4" y1="620.6" x2="570.2" y2="616.3" stroke-width="2.2" stroke-linecap="round"/>
<path d="M503.4 521.7 L493.9 521.7 L493.9 570.3 L502.5 573.8" stroke-width="3" fill="none" stroke-linejoin="round"/>
<line x1="497.3" y1="523.5" x2="497.3" y2="571.2" stroke-width="2.2" stroke-linecap="round"/>
<path d="M499.1 547.7 L519.9 564.2 L523.4 559.9 L502.5 543.4" stroke-width="3" fill="none" stroke-linejoin="round"/>
<path d="M499.1 528.7 L511.2 535.6 L511.2 532.1" stroke-width="3" fill="none" stroke-linejoin="round"/>
<ellipse cx="570.2" cy="571.2" rx="17.3" ry="19.9" stroke-width="3.2" fill="#fff" transform="rotate(25 570.2 571.2)"/>
<ellipse cx="572.8" cy="572.9" rx="14.9" ry="17.3" stroke-width="2.4" fill="none" transform="rotate(25 572.8 572.9)"/>
<ellipse cx="581.5" cy="581.6" rx="12.5" ry="15.3" stroke-width="3" fill="#fff" transform="rotate(25 581.5 581.6)"/>
<line x1="561.5" y1="563.4" x2="570.2" y2="575.5" stroke-width="2.2" stroke-linecap="round"/>
<path d="M765.3 565.1 L773.1 572.9" stroke-width="10.5" stroke-linecap="round"/>
<path d="M765.3 565.1 L773.1 572.9" stroke="#fff" stroke-width="5" stroke-linecap="round"/>
<ellipse cx="774.9" cy="574.6" rx="4.9" ry="7.3" stroke-width="2.8" fill="#fff" transform="rotate(40 774.9 574.6)"/>
<ellipse cx="780.1" cy="579" rx="6.2" ry="7.6" stroke-width="3" fill="#fff" transform="rotate(40 780.1 579)"/>
</g>
<g id="02_switchB" stroke="#000" fill="none" stroke-linejoin="round" stroke-linecap="round">
<path d="M565.2 765 L565.2 789 L579 805.3 L629.5 790 L629.5 772.7" stroke-width="3" fill="#fff" stroke-linejoin="round"/>
<line x1="582" y1="777.8" x2="582" y2="803.3" stroke-width="4" stroke-linecap="round"/>
<line x1="601.4" y1="796.1" x2="621.8" y2="791" stroke-width="2" stroke-linecap="round"/>
<path d="M555 679.3 L624.9 656.8 L652.4 677.8 L652.4 720.6 L634.1 724.7 L634.1 731.8 L617.8 769.6 L580 776.7 L555.5 757.3 Z" stroke-width="3.2" fill="#fff" stroke-linejoin="round"/>
<path d="M555 679.3 L582 696.6 L652.4 678.8" stroke-width="3.2" fill="none" stroke-linejoin="round"/>
<path d="M563.7 678.3 L623.9 659.6 L644.3 675.7 L583.1 693.3 Z" stroke-width="2.6" fill="none" stroke-linejoin="round"/>
<line x1="579.5" y1="697.1" x2="579.5" y2="776.2" stroke-width="2.4" stroke-linecap="round"/>
<path d="M580 703.3 L596.3 698.7 L596.3 711.4 L580 715.5 Z" stroke-width="2" fill="#000" stroke-linejoin="round"/>
<path d="M570.8 698.7 C570.6 699.8 569.3 703.2 569.8 705.3 C570.3 707.4 572.2 709.7 573.9 711.4 C575.6 713.1 579 714.8 580 715.5" stroke-width="4" fill="none" />
<path d="M581 738 L596.3 733.9 L596.3 746.1 L581 750.7 Z" stroke-width="2" fill="#000" stroke-linejoin="round"/>
<path d="M569.8 732.9 C569.6 734 568.1 737.8 568.8 740 C569.5 742.2 571.8 744.3 573.9 746.1 C575.9 747.9 579.8 749.9 581 750.7" stroke-width="4" fill="none" />
<path d="M634.1 688 L648.4 683.9 L648.4 697.1 L634.1 700.2 Z" stroke-width="2" fill="#000" stroke-linejoin="round"/>
<path d="M645.3 689 C646.5 690 651.3 693.1 652.4 695.1 C653.6 697.1 652.4 700.2 652.4 701.2" stroke-width="4" fill="none" />
<path d="M634.1 722.7 L651.4 718.6 L651.4 726.7 L635.1 729.8 Z" stroke-width="2" fill="#000" stroke-linejoin="round"/>
<path d="M647.3 724.7 C648.5 725.9 653 728.1 654 731.8 C654.9 735.6 654.1 743.8 653 747.1 C651.9 750.5 648.3 751 647.3 751.7" stroke-width="4" fill="none" />
<ellipse cx="588.2" cy="707.3" rx="3.1" ry="1.8" stroke-width="0.1" fill="#fff" transform="rotate(-20 588.2 707.3)"/>
<ellipse cx="588.7" cy="742" rx="3.1" ry="1.8" stroke-width="0.1" fill="#fff" transform="rotate(-20 588.7 742)"/>
<ellipse cx="641.2" cy="693.1" rx="2.9" ry="1.8" stroke-width="0.1" fill="#fff" transform="rotate(-20 641.2 693.1)"/>
<ellipse cx="641.2" cy="725.7" rx="2.9" ry="1.4" stroke-width="0.1" fill="#fff" transform="rotate(-20 641.2 725.7)"/>
<ellipse cx="622.3" cy="747.7" rx="18.2" ry="20.2" stroke-width="4.5" fill="#fff" transform="rotate(25 622.3 747.7)"/>
<ellipse cx="626.9" cy="750.7" rx="14.8" ry="16.5" stroke-width="3.2" fill="#fff" transform="rotate(25 626.9 750.7)"/>
<ellipse cx="632" cy="756.3" rx="13.1" ry="15.5" stroke-width="3.2" fill="#fff" transform="rotate(25 632 756.3)"/>
<path d="M668.3 768.8 L675.9 776.7" stroke-width="10.5" stroke-linecap="round"/>
<path d="M668.3 768.8 L675.9 776.7" stroke="#fff" stroke-width="5" stroke-linecap="round"/>
<ellipse cx="678" cy="781.3" rx="4.9" ry="6.9" stroke-width="3" fill="#fff" transform="rotate(40 678 781.3)"/>
<ellipse cx="684.1" cy="783.9" rx="5.9" ry="7.3" stroke-width="3" fill="#fff" transform="rotate(40 684.1 783.9)"/>
</g>
<g id="03_col42" stroke="#000" fill="none" stroke-linejoin="round" stroke-linecap="round">
<ellipse cx="2113" cy="23" rx="19" ry="19" stroke-width="4.2" fill="#fff"/>
<line x1="2101.2" y1="11.2" x2="2124.8" y2="34.8" stroke-width="4.2" stroke-linecap="butt"/>
<line x1="2101.2" y1="34.8" x2="2124.8" y2="11.2" stroke-width="4.2" stroke-linecap="butt"/>
<path d="M2113 46 L2113 104" stroke-width="4" stroke-dasharray="22 8 5 8" stroke-linecap="butt"/>
<path d="M2101.8 114.7 L2101.8 136.9 C2103.8 149.3 2133.4 149.3 2135.4 136.9 L2135.4 114.7" stroke-width="3" fill="#fff" />
<ellipse cx="2118.6" cy="114.7" rx="16.8" ry="9.4" stroke-width="3" fill="#fff"/>
<ellipse cx="2118.6" cy="114.7" rx="8.9" ry="4.9" stroke-width="3" fill="none"/>
<ellipse cx="2118.1" cy="115.2" rx="4" ry="2.2" stroke-width="3" fill="none"/>
<ellipse cx="2100.1" cy="122.1" rx="6.4" ry="4.4" stroke-width="3" fill="#fff"/>
<path d="M2060.5 127.1 L2098.8 117.2 L2107.5 139.4 L2108.7 145.6 L2074.1 162.2 L2064.2 150.5 Z" stroke-width="3.2" fill="#fff" stroke-linejoin="round"/>
<path d="M2063 135 L2103.8 124.6 M2064.2 143.1 L2106.3 132.5 M2071.7 154.7 L2108.2 143.1 M2066.7 149.3 L2106.3 138.2" stroke-width="3.2" fill="none" />
<path d="M2023.5 127.1 L2053.1 118.4 L2060.5 122.1 L2059.3 274.1 L2053.1 274.8 L2053.1 263 L2034.6 271.6 L2032.1 282.7 L2021 274.1 Z" stroke-width="3.4" fill="#fff" stroke-linejoin="round"/>
<line x1="2033.4" y1="129.5" x2="2031.6" y2="277.8" stroke-width="6" stroke-linecap="round"/>
<line x1="2039.5" y1="127.1" x2="2038.3" y2="250.6" stroke-width="3" stroke-linecap="round"/>
<line x1="2051.9" y1="120.9" x2="2051.9" y2="248.1" stroke-width="5.5" stroke-linecap="round"/>
<line x1="2027.7" y1="127.1" x2="2025.9" y2="274.1" stroke-width="3" stroke-linecap="round"/>
<path d="M2037.1 253.1 L2053.1 251.8 L2053.1 263 L2037.1 264.2" stroke-width="3" fill="none" stroke-linejoin="round"/>
<line x1="2034.6" y1="271.6" x2="2035.8" y2="250.6" stroke-width="3" stroke-linecap="round"/>
<path d="M2107.5 240.7 L2108 541 C2110 547.1 2124.8 547.1 2126 541 L2126 240.7" stroke-width="2.8" fill="#fff" />
<path d="M2107.5 241.2 L2126 241.2 L2126 254.3 L2107.5 254.3 Z" stroke-width="2" fill="#000" stroke-linejoin="round"/>
<ellipse cx="2116.6" cy="239.5" rx="9.4" ry="4.4" stroke-width="3" fill="#fff"/>
<line x1="2110" y1="255.6" x2="2110.5" y2="539.7" stroke-width="1.6" stroke-linecap="round"/>
<path d="M2028.4 498.9 L2013.6 505.1 L2024.7 520.4 L2030.9 517.5 Z" stroke-width="3.2" fill="#fff" stroke-linejoin="round"/>
<path d="M2028.4 312.4 L2050.7 307 L2054.4 309.9 L2054.4 510.1 L2030.9 517.5 Z" stroke-width="3.2" fill="#fff" stroke-linejoin="round"/>
<line x1="2030.9" y1="313.6" x2="2032.6" y2="516.2" stroke-width="5" stroke-linecap="round"/>
<line x1="2028.4" y1="312.4" x2="2032.1" y2="314.4" stroke-width="3" stroke-linecap="round"/>
<path d="M2027.3 541.3 L2027.3 561.7 L2038 561.7 L2038 541.3 C2036.4 537.9 2028.9 537.9 2027.3 541.3 Z" stroke-width="3" fill="#fff" />
<ellipse cx="2032.5" cy="565.1" rx="12.7" ry="6.1" stroke-width="3.2" fill="#fff"/>
<ellipse cx="2032.5" cy="563.9" rx="9" ry="3.6" stroke-width="2.6" fill="none"/>
<path d="M2027.3 552.6 L2027.3 562.8 L2038 562.8 L2038 552.6" stroke-width="3" fill="#fff" />
<path d="M2107.6 530 L2108.1 542.4 C2112.1 547 2123.5 547 2125.7 542.4 L2126.2 530" stroke-width="2.6" fill="#fff" />
<path d="M2093.6 640.8 L2093.6 660.1 C2096.3 674.8 2139.3 674.8 2141.1 660.1 L2141.1 640.8" stroke-width="3.2" fill="#fff" />
<ellipse cx="2117.3" cy="640.8" rx="23.8" ry="8.6" stroke-width="3.2" fill="#fff"/>
<path d="M2093.6 652.1 C2098.6 662.3 2137 662.3 2141.1 652.1" stroke-width="2.6" fill="none" />
<path d="M2098.6 561.7 L2099 640.8 C2103.1 649.9 2132.5 649.9 2135.9 640.8 L2135.9 561.7" stroke-width="3" fill="#fff" />
<ellipse cx="2117.1" cy="561.7" rx="18.8" ry="9.7" stroke-width="4" fill="#fff"/>
<ellipse cx="2116.7" cy="564.4" rx="12.4" ry="6.8" stroke-width="3" fill="#fff"/>
<path d="M2105.4 570.7 C2109.9 578.6 2130.2 578.6 2135.9 571.8" stroke-width="7" fill="none" />
<path d="M2107.6 569.6 L2107.6 609.2 L2100.8 604.6" stroke-width="2.6" fill="none" stroke-linejoin="round"/>
<line x1="2103.1" y1="563.9" x2="2102.4" y2="638.6" stroke-width="1.8" stroke-linecap="round"/>
<ellipse cx="2117.1" cy="703" rx="17.2" ry="9" stroke-width="5.5" fill="none"/>
<path d="M2083.9 833.1 L2083.9 851.2 C2087.3 871.6 2148.3 871.6 2151.7 851.2 L2151.7 833.1" stroke-width="3.2" fill="#fff" />
<ellipse cx="2117.8" cy="833.1" rx="33.9" ry="14.9" stroke-width="3.2" fill="#fff"/>
<path d="M2083.9 844.4 C2089.5 860.2 2146.1 860.2 2151.7 844.4" stroke-width="2.2" fill="none" />
<path d="M2103.1 765.2 L2103.1 830.8 C2107.6 838.8 2128 838.8 2132 830.8 L2132 765.2" stroke-width="3" fill="#fff" />
<line x1="2106.5" y1="767.5" x2="2106.5" y2="832" stroke-width="1.8" stroke-linecap="round"/>
<path d="M2102.6 763 C2107.6 769.8 2128 769.8 2132.5 763" stroke-width="6" fill="none" />
<path d="M2105.4 747.1 L2105.4 763 L2129.1 763 L2129.1 747.1" stroke-width="3" fill="#fff" />
<path d="M2102 731.3 L2102 746 C2105.4 752.8 2129.1 752.8 2132.5 746 L2132.5 731.3" stroke-width="3.4" fill="#fff" />
<ellipse cx="2117.1" cy="731.3" rx="15.4" ry="6.8" stroke-width="4" fill="#fff"/>
<ellipse cx="2117.1" cy="731.8" rx="8.6" ry="3.4" stroke-width="2.6" fill="none"/>
<path d="M2125.7 882.9 C2116.7 877.2 2105.4 881.7 2105.4 886.3 L2113.3 887.4 C2116.7 885.1 2122.3 885.6 2123.9 888.5 L2116.7 891.9 C2117.8 897.6 2134.8 894.2 2131.4 887.4 Z" stroke-width="4" fill="#fff" />
<path d="M2161.9 828.6 L2186.8 821.8 L2186.8 817.3 L2213.9 808.2 L2224.1 815 L2224.1 828.6 L2193.6 839.9 L2186.8 837.6 L2164.2 844.4 Z" stroke-width="3.2" fill="#fff" stroke-linejoin="round"/>
<ellipse cx="2161.9" cy="836.5" rx="4.1" ry="7.9" stroke-width="3.2" fill="#fff"/>
<ellipse cx="2161.5" cy="836.5" rx="1.6" ry="2.7" stroke-width="2.4" fill="none"/>
<path d="M2186.8 821.8 L2193.6 824.1 L2193.6 839.9" stroke-width="2.8" fill="none" stroke-linejoin="round"/>
<line x1="2193.6" y1="824.1" x2="2223" y2="815.5" stroke-width="2.8" stroke-linecap="round"/>
<path d="M2238.8 794.6 L2264.8 753.9 L2297.6 744.9 L2304.4 751.7 L2304.4 760.7 L2284.1 821.8 L2261.4 830.8 L2250.1 830.8 Z" stroke-width="3.4" fill="#fff" stroke-linejoin="round"/>
<path d="M2270.5 765.2 L2299.9 756.2 L2293.1 792.4 L2260.3 796.5 Z" stroke-width="2" fill="#000" stroke-linejoin="round"/>
<path d="M2272.7 758.5 L2298.8 750.5" stroke-width="2.6" fill="none" stroke-linejoin="round"/>
<path d="M2260.3 796.5 L2254.6 815 L2261.4 821.8 L2279.5 813.9 L2280.7 824.1" stroke-width="3" fill="none" stroke-linejoin="round"/>
<path d="M2245.6 796.9 L2261.4 792.4" stroke-width="3" fill="none" stroke-linejoin="round"/>
<ellipse cx="2241.1" cy="815" rx="11.3" ry="22.6" stroke-width="5" fill="#fff" transform="rotate(8 2241.1 815)"/>
<ellipse cx="2239.9" cy="815.5" rx="7.2" ry="17.6" stroke-width="2.4" fill="none" transform="rotate(8 2239.9 815.5)"/>
<line x1="2233.2" y1="801.4" x2="2238.8" y2="800.3" stroke-width="2.4" stroke-linecap="round"/>
<line x1="2233.8" y1="806.4" x2="2239.5" y2="805.3" stroke-width="2.4" stroke-linecap="round"/>
<line x1="2234.5" y1="811.4" x2="2240.2" y2="810.3" stroke-width="2.4" stroke-linecap="round"/>
<line x1="2235.2" y1="816.4" x2="2240.8" y2="815.2" stroke-width="2.4" stroke-linecap="round"/>
<line x1="2235.9" y1="821.3" x2="2241.5" y2="820.2" stroke-width="2.4" stroke-linecap="round"/>
<line x1="2236.6" y1="826.3" x2="2242.2" y2="825.2" stroke-width="2.4" stroke-linecap="round"/>
<path d="M2305.5 796.5 L2329.3 789.7 L2331.6 802.6 L2307.1 809.3 Z" stroke-width="3" fill="#fff" stroke-linejoin="round"/>
<ellipse cx="2306.2" cy="802.8" rx="3.2" ry="6.8" stroke-width="3.2" fill="#fff"/>
<ellipse cx="2306.2" cy="802.8" rx="1.1" ry="2.7" stroke-width="2" fill="none"/>
<ellipse cx="2334.9" cy="795.8" rx="6.8" ry="14" stroke-width="3.4" fill="#fff" transform="rotate(8 2334.9 795.8)"/>
</g>
<g id="04_topright" stroke="#000" fill="none" stroke-linejoin="round" stroke-linecap="round">
<path d="M2764.4 26.8 L2764.4 85.9 C2767.1 92.1 2780.5 92.1 2783.2 85.9 L2783.2 26.8" stroke-width="3" fill="#fff" />
<line x1="2782.6" y1="28.6" x2="2782.6" y2="85.9" stroke-width="4.5" stroke-linecap="round"/>
<path d="M2758.1 16.1 L2758.1 24.2 C2760.8 34 2787.7 34 2789.4 24.2 L2789.4 16.1" stroke-width="3.4" fill="#fff" />
<ellipse cx="2773.7" cy="16.1" rx="15.6" ry="8.9" stroke-width="3.4" fill="#fff"/>
<path d="M2768 8.1 L2780.5 19.7 L2780.5 24.2" stroke-width="3" fill="none" stroke-linejoin="round"/>
<path d="M2772.5 7.2 L2784.1 17" stroke-width="3" fill="none" stroke-linejoin="round"/>
<ellipse cx="2773.3" cy="110.6" rx="17.9" ry="10" stroke-width="3" fill="#000"/>
<ellipse cx="2773.3" cy="107.3" rx="11.1" ry="4.7" stroke-width="2" fill="#fff"/>
<ellipse cx="2773.3" cy="107.3" rx="6.8" ry="2.5" stroke-width="2" fill="#000"/>
<ellipse cx="2773.3" cy="107" rx="3.9" ry="1.3" stroke-width="1" fill="#fff"/>
<path d="M2759 169.1 L2758.1 205.7 C2760.8 216.5 2785.9 216.5 2788.9 205.7 L2788.6 169.1" stroke-width="3.4" fill="#fff" />
<ellipse cx="2773.7" cy="169.1" rx="14.7" ry="8.1" stroke-width="3" fill="#000"/>
<ellipse cx="2773.7" cy="169.9" rx="9.3" ry="4.3" stroke-width="2" fill="#fff"/>
<path d="M2780.9 249.6 L2780.9 316.6 C2782.6 321.6 2794.8 321.6 2796.6 316.6 L2796.6 249.6" stroke-width="2.8" fill="#fff" />
<path d="M2780.9 241.5 C2780.9 236.7 2796.6 236.7 2796.6 241.5 L2796.6 249.6 C2794.8 251.7 2782.6 251.7 2780.9 249.6 Z" stroke-width="2.4" fill="#000" />
<path d="M2788.1 335.6 L2788.1 377.2 C2790 382.5 2803.8 382.5 2805.7 377.2 L2805.7 335.6" stroke-width="2.8" fill="#fff" />
<path d="M2788.1 328.9 C2788.1 323.8 2805.7 323.8 2805.7 328.9 L2805.7 335.6 C2803.8 337.8 2790 337.8 2788.1 335.6 Z" stroke-width="2.4" fill="#000" />
<path d="M2734.1 345 L2734.1 399 C2736 404.3 2748.9 404.3 2750.8 399 L2750.8 345" stroke-width="2.8" fill="#fff" />
<path d="M2734.1 338.4 C2734.1 333.3 2750.8 333.3 2750.8 338.4 L2750.8 345 C2748.9 347.3 2736 347.3 2734.1 345 Z" stroke-width="2.4" fill="#000" />
<path d="M2730.3 520.2 L2730.3 525 C2732.2 550.5 2817.4 550.5 2819.3 525 L2819.3 520.2" stroke-width="3.2" fill="#fff" />
<ellipse cx="2774.8" cy="520.2" rx="44.5" ry="21.2" stroke-width="3.4" fill="#fff"/>
<path d="M2738.8 518.3 C2749.2 533.5 2781.4 535.4 2794.7 531.6" stroke-width="4" fill="none" />
<path d="M2776.3 427.4 L2776.3 527.8 L2800.9 527.8 L2800.9 427.4" stroke-width="3" fill="#fff" />
<ellipse cx="2788.6" cy="427.4" rx="12.3" ry="6.2" stroke-width="5" fill="#fff"/>
<ellipse cx="2788.1" cy="428.4" rx="4.5" ry="2.3" stroke-width="3" fill="none"/>
<path d="M2730.3 459.6 L2730.3 516.4 C2736 520.2 2751.1 518.3 2755.9 510.8 L2755.9 459.6" stroke-width="3.2" fill="#fff" />
<ellipse cx="2743.2" cy="459.6" rx="12.9" ry="6.8" stroke-width="3" fill="#000"/>
<ellipse cx="2742" cy="460.6" rx="3.4" ry="1.5" stroke-width="1" fill="#fff"/>
<path d="M2752.1 484.2 L2752.1 507 C2756.8 516.4 2790.9 518.3 2799.4 508.9 L2799.4 484.2" stroke-width="3.4" fill="#fff" />
<ellipse cx="2775.8" cy="484.2" rx="23.7" ry="12.5" stroke-width="5.5" fill="#fff"/>
<ellipse cx="2774.2" cy="483.3" rx="14.4" ry="7.6" stroke-width="3.4" fill="#fff"/>
<path d="M2754 510.8 C2762.5 516.4 2775.8 517.4 2779.5 516.4" stroke-width="2.4" fill="none" />
<path d="M2778.6 496.6 L2778.6 527.8 L2796.6 530.6 L2796.6 496.6" stroke-width="3.2" fill="#fff" />
<path d="M2778.6 496.6 C2781.4 501.3 2794.7 501.3 2796.6 496.6 C2794.7 489.9 2781.4 489.9 2778.6 496.6 Z" stroke-width="4.5" fill="#fff" />
<path d="M2800.4 491.8 C2813.6 499.4 2819.3 508.9 2813.6 520.2" stroke-width="3.4" fill="none" />
<line x1="2801.3" y1="497.5" x2="2801.3" y2="529.7" stroke-width="3" stroke-linecap="round"/>
<line x1="2803.8" y1="499.4" x2="2803.8" y2="527.8" stroke-width="2.4" stroke-linecap="round"/>
<path d="M2779.5 518.3 L2794.7 530.6" stroke-width="4" fill="none" />
<ellipse cx="2743.2" cy="579.9" rx="10.4" ry="10.4" stroke-width="4" fill="#fff"/>
<rect x="2733.7" y="631" width="19.5" height="22" rx="4" fill="#000" stroke="#000" stroke-width="1"/>
<path d="M2629.6 598 L2629.6 880 L2676 880 L2676 598" fill="#fff" stroke-width="2.6"/>
<rect x="2640.2" y="192" width="23.7" height="112" fill="#000" stroke-width="1"/>
<path d="M2646.2 196 L2646.2 304" stroke="#fff" stroke-width="3.2" stroke-linecap="butt"/>
<path d="M2661.2 196 L2661.2 304" stroke="#fff" stroke-width="1.6" stroke-linecap="butt"/>
<ellipse cx="2652" cy="185.6" rx="16.5" ry="10" stroke-width="4.2" fill="#fff"/>
<ellipse cx="2652" cy="181" rx="6.5" ry="3" stroke-width="2.6" fill="none"/>
<path d="M2640 181 C2644 192 2660 192 2664 181" stroke-width="3"/>
<rect x="2633.5" y="302" width="37" height="302" rx="5" fill="#000" stroke-width="1.5"/>
<g stroke="#fff" stroke-width="2.2" stroke-linecap="round">
<path d="M2638.5 312 q5 4 11 1 M2655 315 q5 -3 10 -5"/>
<path d="M2638.5 320.4 q5 4 11 1 M2655 323.4 q5 -3 10 -5"/>
<path d="M2638.5 328.8 q5 4 11 1 M2655 331.8 q5 -3 10 -5"/>
<path d="M2638.5 337.2 q5 4 11 1 M2655 340.2 q5 -3 10 -5"/>
<path d="M2638.5 345.6 q5 4 11 1 M2655 348.6 q5 -3 10 -5"/>
<path d="M2638.5 354 q5 4 11 1 M2655 357 q5 -3 10 -5"/>
<path d="M2638.5 362.4 q5 4 11 1 M2655 365.4 q5 -3 10 -5"/>
<path d="M2638.5 370.8 q5 4 11 1 M2655 373.8 q5 -3 10 -5"/>
<path d="M2638.5 379.2 q5 4 11 1 M2655 382.2 q5 -3 10 -5"/>
<path d="M2638.5 387.6 q5 4 11 1 M2655 390.6 q5 -3 10 -5"/>
<path d="M2638.5 396 q5 4 11 1 M2655 399 q5 -3 10 -5"/>
<path d="M2638.5 404.4 q5 4 11 1 M2655 407.4 q5 -3 10 -5"/>
<path d="M2638.5 412.8 q5 4 11 1 M2655 415.8 q5 -3 10 -5"/>
<path d="M2638.5 421.2 q5 4 11 1 M2655 424.2 q5 -3 10 -5"/>
<path d="M2638.5 429.6 q5 4 11 1 M2655 432.6 q5 -3 10 -5"/>
<path d="M2638.5 438 q5 4 11 1 M2655 441 q5 -3 10 -5"/>
<path d="M2638.5 446.4 q5 4 11 1 M2655 449.4 q5 -3 10 -5"/>
<path d="M2649.8 456 l5 1" stroke-width="1.4"/>
<path d="M2650.9 464.4 l5 1" stroke-width="1.4"/>
<path d="M2640.2 481.2 l5 1" stroke-width="1.4"/>
<path d="M2644.2 498 l5 1" stroke-width="1.4"/>
<path d="M2655.1 514.8 l5 1" stroke-width="1.4"/>
<path d="M2651.5 523.2 l5 1" stroke-width="1.4"/>
<path d="M2651.4 531.6 l5 1" stroke-width="1.4"/>
<path d="M2653.6 573.6 l5 1" stroke-width="1.4"/>
<path d="M2640.6 590.4 l5 1" stroke-width="1.4"/>
</g>
<path d="M2629.6 600 C2632 612 2674 612 2676 600 C2676 590 2672 588 2670 587 M2629.6 600 C2629.6 590 2633 588 2634 587" stroke-width="4" />
<path d="M2577.6 433.4 L2577.6 455.3 C2580.3 462.1 2594 462.1 2596.8 455.3 L2596.8 433.4" stroke-width="3" fill="#fff" />
<path d="M2554.4 408.8 C2551.6 438.9 2620 441.6 2620.6 411.5 L2620 400.6 L2606.3 391 L2577.6 364.2 L2565.3 369.1 Z" stroke-width="3.2" fill="#fff" />
<path d="M2554.9 411.5 C2562.6 430.7 2614.5 432 2620 408.8" stroke-width="3" fill="none" />
<path d="M2565.3 369.1 L2568 384.2 L2559.8 406" stroke-width="2.8" fill="none" stroke-linejoin="round"/>
<path d="M2569.4 369.9 L2599.5 397.8 L2592.7 411.5" stroke-width="2.8" fill="none" stroke-linejoin="round"/>
<line x1="2577.6" y1="364.2" x2="2605" y2="391" stroke-width="2.6" stroke-linecap="round"/>
<path d="M2559.8 406 C2570.8 419.7 2587.2 417 2599.5 397.8" stroke-width="3" fill="none" />
<path d="M2606.3 395.1 C2609.1 408.8 2617.3 408.8 2619.5 401.1" stroke-width="4" fill="none" />
<rect x="2575.5" y="469" width="25.5" height="29" rx="6" fill="#000" stroke-width="1"/>
<path d="M2580 476 h16 M2580 483 h16 M2580 490 h16" stroke="#fff" stroke-width="1.4"/>
<path d="M2469.5 542.8 L2479.1 537.4 L2495.5 548.3 L2483.2 559.3 Z" stroke-width="3.2" fill="#fff" />
<ellipse cx="2501" cy="571.6" rx="27.4" ry="27.4" stroke-width="5.5" fill="#fff"/>
<ellipse cx="2502.4" cy="572.4" rx="21.3" ry="21.9" stroke-width="2.6" fill="none"/>
<ellipse cx="2505.1" cy="572.9" rx="13.1" ry="13.7" stroke-width="3" fill="#fff"/>
<path d="M2498.3 578.4 L2511.9 590.7" stroke-width="3" fill="none" stroke-linejoin="round"/>
<path d="M2507.8 567.5 L2521.5 581.1" stroke-width="3" fill="none" stroke-linejoin="round"/>
<ellipse cx="2518.2" cy="588" rx="4.4" ry="4.4" stroke-width="3" fill="#fff"/>
<path d="M2491.4 701.5 L2505.1 690.6 L2609.1 659.1 L2622.7 671.4 L2620 682.4 L2505.1 715.8 L2494.2 709.7 Z" stroke-width="3.2" fill="#fff" stroke-linejoin="round"/>
<path d="M2505.1 697.4 L2606.3 666.5 L2614.5 674.2 L2507.8 708.4 Z" stroke-width="2.4" fill="none" stroke-linejoin="round"/>
<path d="M2537.9 559.3 L2577.6 546.9 L2585.8 552.4 L2585.8 682.4 L2546.1 693.3 L2539.3 689.2 Z" stroke-width="3.2" fill="#fff" stroke-linejoin="round"/>
<path d="M2546.1 564.7 L2546.1 692" stroke-width="2.6" fill="none" stroke-linejoin="round"/>
<line x1="2546.1" y1="564.7" x2="2584.4" y2="553.2" stroke-width="2.6" stroke-linecap="round"/>
<path d="M2554.4 575.7 C2554.4 562 2570.8 559.3 2570.8 572.9 L2570.8 652.3 C2570.8 663.2 2554.4 666 2554.4 655 Z" stroke-width="3" fill="#fff" />
<path d="M2559.8 578.4 C2559.8 570.2 2566.7 568.8 2566.7 577 L2566.7 649.5 C2566.7 657.8 2559.8 657.8 2559.8 652.3 Z" stroke-width="2.2" fill="none" />
<path d="M2548.9 572.9 L2548.9 597.6 M2548.9 608.5 L2548.9 635.9 M2548.9 646.8 L2548.9 679.6 M2577.6 564.7 L2577.6 589.4 M2577.6 603 L2577.6 630.4 M2577.6 641.3 L2577.6 674.2 M2562.6 663.2 L2562.6 685.1 M2568 661.9 L2568 683.7" stroke-width="3" fill="none" />
</g>
<g id="05_base68" stroke="#000" fill="none" stroke-linejoin="round" stroke-linecap="round">
<path d="M2815.8 834.6 L2882.1 834.6 L2882.1 908.6 L2815.8 908.6 Z" stroke-width="2.4" fill="#fff" stroke-linejoin="round"/>
<line x1="2820.9" y1="835.4" x2="2820.9" y2="907.9" stroke-width="2.2" stroke-linecap="round"/>
<line x1="2829.8" y1="835.4" x2="2829.8" y2="907.9" stroke-width="2.2" stroke-linecap="round"/>
<line x1="2833.7" y1="835.4" x2="2833.7" y2="907.9" stroke-width="2.2" stroke-linecap="round"/>
<line x1="2842.6" y1="835.4" x2="2842.6" y2="907.9" stroke-width="2.2" stroke-linecap="round"/>
<line x1="2846.4" y1="835.4" x2="2846.4" y2="907.9" stroke-width="2.2" stroke-linecap="round"/>
<line x1="2855.4" y1="835.4" x2="2855.4" y2="907.9" stroke-width="2.2" stroke-linecap="round"/>
<line x1="2859.2" y1="835.4" x2="2859.2" y2="907.9" stroke-width="2.2" stroke-linecap="round"/>
<line x1="2868.1" y1="835.4" x2="2868.1" y2="907.9" stroke-width="2.2" stroke-linecap="round"/>
<line x1="2871.9" y1="835.4" x2="2871.9" y2="907.9" stroke-width="2.2" stroke-linecap="round"/>
<line x1="2878.3" y1="835.4" x2="2878.3" y2="907.9" stroke-width="2.2" stroke-linecap="round"/>
<line x1="2815.8" y1="872.9" x2="2882.1" y2="872.9" stroke-width="2" stroke-linecap="round"/>
<path d="M2415.8 972.9 C2415.6 976.4 2414.5 987.4 2414.5 994.1 C2414.6 1000.8 2414.1 1005.9 2416.1 1013 C2418.1 1020.1 2421.7 1029.2 2426.5 1036.7 C2431.3 1044.2 2436.1 1050.8 2444.9 1057.9 C2453.7 1064.9 2467.2 1073 2479.6 1079 C2492 1085 2503.9 1089.4 2519.4 1093.8 C2534.9 1098.2 2552.1 1102 2572.4 1105.6 C2592.8 1109.1 2616.1 1117.3 2641.3 1115 C2666.6 1112.7 2696.6 1099.7 2724 1091.5 C2751.4 1083.4 2787.3 1075.5 2805.6 1066 C2823.9 1056.6 2827.5 1046.9 2833.7 1034.9 C2839.8 1022.9 2841.2 1003.4 2842.6 994.1 C2844 984.7 2842 981.3 2841.8 978.8" stroke-width="3" fill="#fff" />
<path d="M2415.8 972.9 C2416.3 966.7 2418.1 961.1 2419.9 957.1 C2421.7 953.1 2421.3 953 2426.5 948.9 C2431.7 944.9 2438.4 939.4 2451 932.9 C2463.6 926.4 2473.6 918 2502 909.9 C2530.5 901.8 2583.7 888.2 2621.9 884.4 C2660.2 880.6 2700.6 884 2731.6 886.9 C2762.7 889.9 2791.6 894.6 2808.2 902.2 C2824.7 909.9 2825.6 920.1 2831.1 932.9 C2836.6 945.6 2840.9 966 2841.3 978.8 C2841.8 991.5 2839.6 1000 2833.7 1009.4 C2827.7 1018.7 2823.9 1026.4 2805.6 1034.9 C2787.3 1043.4 2751.2 1052.2 2724 1060.4 C2696.8 1068.6 2658.8 1079.8 2642.3 1083.9 C2625.9 1088 2638.3 1085.9 2625.5 1084.9 C2612.8 1083.9 2583.5 1081 2565.8 1078 C2548.1 1075 2533.8 1071 2519.4 1067 C2505 1063 2492 1059.5 2479.6 1054 C2467.2 1048.5 2453.7 1041 2444.9 1034.1 C2436.1 1027.3 2431.2 1019.6 2426.5 1013 C2421.9 1006.3 2418.9 1000.8 2417.1 994.1 C2415.3 987.4 2415.3 979.1 2415.8 972.9 Z" stroke-width="3" fill="#fff" />
<path d="M2444.9 1034.1 L2444.9 1057.9 M2642.3 1083.9 L2642.3 1114.5 M2724 1060.4 L2724 1091 M2805.6 1034.9 L2805.6 1065.5" stroke-width="2.6" fill="none" />
<ellipse cx="2629.6" cy="980.1" rx="102" ry="51" stroke-width="3" fill="#fff"/>
<ellipse cx="2629.6" cy="991.5" rx="77.8" ry="38.3" stroke-width="4.2" fill="#fff"/>
<path d="M2553.1 983.9 C2563.3 963.5 2593.9 955.8 2614.3 958.4 L2614.3 966 C2593.9 963.5 2573.5 968.6 2558.2 986.4" stroke-width="2.6" fill="none" />
<ellipse cx="2539" cy="987.7" rx="8.2" ry="5.6" stroke-width="4" fill="none"/>
<ellipse cx="2717.6" cy="973.7" rx="8.2" ry="5.6" stroke-width="4" fill="none"/>
<path d="M2502 986.4 L2573.5 1040" stroke-width="3" fill="none" stroke-linejoin="round"/>
<path d="M2509.7 1009.4 L2558.2 1047.7" stroke-width="3" fill="none" stroke-linejoin="round"/>
<path d="M2532.7 978.8 L2532.7 994.1" stroke-width="2.6" fill="none" stroke-linejoin="round"/>
<path d="M2502 856.3 L2586.2 832.1 L2593.9 838.5 L2593.9 907.3 L2542.9 922.7 L2537.8 922.7 L2502 925.2 Z" stroke-width="3" fill="#fff" stroke-linejoin="round"/>
<path d="M2500.8 858.4 L2508.4 856.3 L2508.4 924.7 L2500.8 925.2 Z" stroke-width="2" fill="#000" stroke-linejoin="round"/>
<path d="M2532.7 852.5 L2542.9 849.9 L2542.9 922.7 L2532.7 920.1 Z" stroke-width="2" fill="#000" stroke-linejoin="round"/>
<path d="M2542.9 864 L2568.4 856.3 L2568.4 915 L2542.9 922.7" stroke-width="3" fill="none" stroke-linejoin="round"/>
<ellipse cx="2556.9" cy="894.6" rx="6.1" ry="7.7" stroke-width="3" fill="none"/>
<path d="M2568.4 844.8 L2588.8 838.5 L2588.8 902.2 L2568.4 908.6" stroke-width="2.6" fill="none" stroke-linejoin="round"/>
<line x1="2502" y1="856.3" x2="2532.7" y2="852.5" stroke-width="3" stroke-linecap="round"/>
<line x1="2512.2" y1="853.8" x2="2586.2" y2="833.4" stroke-width="2.4" stroke-linecap="round"/>
<path d="M2582.4 902.2 L2582.4 908.6 C2586.2 921.4 2614.3 921.4 2618.1 908.6 L2618.1 902.2" stroke-width="2.8" fill="#fff" />
<ellipse cx="2600.3" cy="902.2" rx="17.9" ry="10.2" stroke-width="3" fill="#fff"/>
<ellipse cx="2600.3" cy="901.7" rx="9.2" ry="4.6" stroke-width="2.6" fill="none"/>
<ellipse cx="2600.3" cy="901.7" rx="2.6" ry="1.3" stroke-width="2" fill="none"/>
<path d="M2620.7 874.2 L2621.9 892 C2629.6 909.9 2657.7 909.9 2670.4 902.2 L2680.6 874.2 Z" stroke-width="3" fill="#fff" />
<path d="M2624.5 881.8 C2629.6 892 2650 892 2657.7 886.9" stroke-width="2.6" fill="none" />
<path d="M2629.6 790 L2630.9 875.5" stroke-width="2.6" fill="none" stroke-linejoin="round"/>
<path d="M2676.8 790 L2676.8 866.5" stroke-width="2.6" fill="none" stroke-linejoin="round"/>
<path d="M2630.9 875.5 C2637.2 883.1 2655.1 883.1 2662.8 878" stroke-width="2.6" fill="none" />
<path d="M2630.5 790 L2631 875 L2676 868 L2676 790 Z" fill="#fff" stroke="none"/>
<path d="M2629.6 790 L2630.9 875.5" stroke-width="2.6" fill="none" stroke-linejoin="round"/>
<path d="M2676.8 790 L2676.8 866.5" stroke-width="2.6" fill="none" stroke-linejoin="round"/>
<path d="M2644.9 902.2 L2657.7 874.2 L2690.8 858.9 L2693.4 841 L2724 824.4 L2787.8 825.7 L2813.3 837.2 L2814.5 853.8 L2792.9 862.7 L2794.1 874.2 L2808.2 897.1 L2800.5 904.8 L2762.2 922.7 L2739.3 930.3 L2718.9 968.6 L2703.6 978.8 L2703.6 948.2 C2685.7 927.8 2665.3 922.7 2644.9 922.7 L2644.9 966 L2651.3 966 L2667.9 932.9 L2644.9 922.7 Z" stroke-width="3.4" fill="#fff" />
<path d="M2648.7 909.9 C2675.5 909.9 2701 922.7 2709.9 943.1" stroke-width="3" fill="none" />
<path d="M2652.6 897.1 C2680.6 897.1 2706.1 909.9 2713.8 927.8" stroke-width="3" fill="none" />
<path d="M2724 824.4 L2772.4 866.5 L2772.4 876.7 L2739.3 889.5 L2726.5 904.8 L2716.3 932.9 L2709.9 943.1" stroke-width="3" fill="none" stroke-linejoin="round"/>
<path d="M2693.4 841 L2736.7 884.4 L2739.3 930.3" stroke-width="3" fill="none" stroke-linejoin="round"/>
<path d="M2695.9 848.7 L2731.6 889.5 L2731.6 917.6" stroke-width="2.4" fill="none" stroke-linejoin="round"/>
<path d="M2787.8 825.7 L2818.4 848.7 L2792.9 862.7" stroke-width="3" fill="none" stroke-linejoin="round"/>
<path d="M2772.4 866.5 L2792.9 862.7" stroke-width="3" fill="none" stroke-linejoin="round"/>
<path d="M2757.1 876.7 L2759.7 922.7" stroke-width="2.4" fill="none" stroke-linejoin="round"/>
<path d="M2787.8 866.5 L2787.8 876.7 L2808.2 897.1" stroke-width="2.6" fill="none" stroke-linejoin="round"/>
<path d="M2657.7 874.2 L2650 902.2 L2648.7 922.7" stroke-width="2.6" fill="none" stroke-linejoin="round"/>
<path d="M2428.1 934.1 L2443.4 926.5 L2468.2 930.3 L2470.2 938 L2470.2 947.5 L2439.5 953.3 L2430 947.5 Z" stroke-width="3.2" fill="#fff" stroke-linejoin="round"/>
<path d="M2428.1 934.1 L2437.6 939.9 L2470.2 938" stroke-width="3" fill="none" stroke-linejoin="round"/>
<path d="M2437.6 939.9 L2439.5 953.3" stroke-width="3" fill="none" stroke-linejoin="round"/>
<ellipse cx="2449.1" cy="932.6" rx="5.4" ry="2.7" stroke-width="2.8" fill="none"/>
<path d="M2772.4 927.8 L2792.9 917.6 L2826 922.7 L2828.6 932.9 L2828.6 945.6 L2787.8 953.3 L2775 945.6 Z" stroke-width="3.2" fill="#fff" stroke-linejoin="round"/>
<path d="M2772.4 927.8 L2785.2 935.4 L2828.6 932.9" stroke-width="3" fill="none" stroke-linejoin="round"/>
<path d="M2785.2 935.4 L2787.8 953.3" stroke-width="3" fill="none" stroke-linejoin="round"/>
<ellipse cx="2800.5" cy="925.7" rx="7.1" ry="3.6" stroke-width="2.8" fill="none"/>
<path d="M2798 955.8 L2818.4 948.2 L2833.7 968.6 L2831.1 983.9 L2818.4 973.7 Z" stroke-width="3.2" fill="#fff" stroke-linejoin="round"/>
<path d="M2820.9 953.3 L2833.7 960.9 L2833.7 978.8" stroke-width="5" fill="none" stroke-linejoin="round"/>
<path d="M2555.6 1045.1 L2576 1034.9 L2609.2 1040 L2611.7 1050.2 L2611.7 1063 L2570.9 1070.6 L2558.2 1063 Z" stroke-width="3.2" fill="#fff" stroke-linejoin="round"/>
<path d="M2555.6 1045.1 L2568.4 1052.8 L2611.7 1050.2" stroke-width="3" fill="none" stroke-linejoin="round"/>
<path d="M2568.4 1052.8 L2570.9 1070.6" stroke-width="3" fill="none" stroke-linejoin="round"/>
<ellipse cx="2583.7" cy="1043.1" rx="7.1" ry="3.6" stroke-width="2.8" fill="none"/>
<path d="M2583.7 1073.2 L2601.5 1068.1 L2619.4 1085.9 L2616.8 1099.9 L2601.5 1102.5 L2588.8 1091 Z" stroke-width="3.2" fill="#fff" stroke-linejoin="round"/>
<path d="M2588.8 1075.7 L2609.2 1098.7" stroke-width="3" fill="none" stroke-linejoin="round"/>
<path d="M2596.4 1071.9 L2616.8 1093.6" stroke-width="3" fill="none" stroke-linejoin="round"/>
<path d="M2452.8 1006.8 L2452.8 1022.1 C2458.7 1042.6 2507.1 1042.6 2511.5 1022.1 L2511.5 1006.8" stroke-width="3" fill="#fff" />
<ellipse cx="2482.1" cy="1006.8" rx="29.3" ry="14.3" stroke-width="3" fill="#fff"/>
<path d="M2457.4 1014.5 C2466.3 1027.2 2499.5 1027.2 2508.4 1013.2" stroke-width="2.2" fill="none" />
<path d="M2465.1 770.6 L2465.1 1001.7 C2471.4 1011.9 2494.4 1011.9 2500.8 1001.7 L2500.8 770.6" stroke-width="3" fill="#fff" />
<line x1="2500" y1="772.1" x2="2500" y2="1001.7" stroke-width="4.5" stroke-linecap="round"/>
<ellipse cx="2482.7" cy="770.6" rx="17.6" ry="8.9" stroke-width="3.2" fill="#fff"/>
<path d="M2465.8 774.7 C2471.4 783.6 2494.4 783.6 2500 774.7" stroke-width="2.6" fill="none" />
<path d="M2629.6 1050.2 L2651.3 1046.4 L2651.3 1048.9 L2698.5 1038.7 L2703.6 1043.8 L2652.6 1053.3 L2651.3 1057.3 Z" stroke-width="2.6" fill="none" stroke-linejoin="round"/>
<ellipse cx="2775" cy="1020.9" rx="18.4" ry="9.2" stroke-width="3" fill="none"/>
<ellipse cx="2775" cy="1020.9" rx="7.7" ry="3.8" stroke-width="2.8" fill="none"/>
<path d="M2757.1 1014.5 C2754.6 1013.2 2746.1 1006 2741.8 1006.8 C2737.6 1007.7 2731.6 1014.9 2731.6 1019.6 C2731.6 1024.3 2737.6 1033.6 2741.8 1034.9 C2746.1 1036.2 2754.6 1028.5 2757.1 1027.2" stroke-width="2.8" fill="none" />
<ellipse cx="2741.8" cy="1022.1" rx="6.4" ry="4.6" stroke-width="2.6" fill="none"/>
<path d="M2762.2 999.2 L2785.2 997.9 L2782.7 1006.8 L2766.1 1006.8 Z" stroke-width="2.4" fill="none" stroke-linejoin="round"/>
<path d="M2798 1009.4 L2808.2 1004.3 L2818.4 1014.5 L2805.6 1018.3 Z" stroke-width="2.4" fill="none" stroke-linejoin="round"/>
<path d="M2805.6 1026 L2818.4 1024.7 L2808.2 1034.9 L2798 1032.3 Z" stroke-width="2.4" fill="none" stroke-linejoin="round"/>
<path d="M2767.3 1038.7 L2785.2 1037.4 L2782.7 1043.8 L2769.9 1045.1 Z" stroke-width="2.4" fill="none" stroke-linejoin="round"/>
<ellipse cx="2753.3" cy="1020.9" rx="3.1" ry="6.4" stroke-width="2" fill="#000"/>
</g>
<g id="06_rings" stroke="#000" fill="none" stroke-linejoin="round" stroke-linecap="round">
<path d="M2552 1208.1 L2546.4 1210.9 L2546.4 1226.2 L2536.6 1233.2 L2539.4 1241.5 L2554.8 1250.5 L2561.7 1245.7" stroke-width="3" fill="none" stroke-linejoin="round"/>
<path d="M2706.7 1210.9 L2710.9 1213.7 L2710.9 1230.4 L2717.9 1236 L2715.1 1242.9 L2702.6 1252.7 L2694.2 1247.1" stroke-width="3" fill="none" stroke-linejoin="round"/>
<path d="M2552 1180.2 L2552 1227.6 C2556.2 1275 2704 1275 2706.7 1227.6 L2706.7 1180.2" stroke-width="3.2" fill="#fff" />
<path d="M2561.7 1245.7 C2595.2 1269.4 2664.9 1269.4 2694.2 1247.1" stroke-width="3" fill="none" />
<path d="M2552 1222 C2561.7 1261.1 2698.4 1261.1 2706.7 1222" stroke-width="2.4" fill="none" />
<ellipse cx="2629.2" cy="1180.2" rx="78.1" ry="37.6" stroke-width="3.2" fill="#fff"/>
<ellipse cx="2630.1" cy="1181.6" rx="69.2" ry="32.1" stroke-width="4" fill="#fff"/>
<path d="M2578.5 1204.7 C2595.2 1196.9 2623.1 1192.7 2648.2 1195.5 L2649.6 1156.5" stroke-width="3" fill="none" />
<path d="M2578.5 1204.7 L2589.6 1210.9 C2592.4 1227.6 2606.4 1237.4 2620.3 1234.6 C2631.5 1231.8 2631.5 1219.2 2637 1215.9 C2664.9 1213.7 2687.2 1205.3 2699.8 1190" stroke-width="3.2" fill="#fff" />
<path d="M2585.4 1212.3 C2589.6 1230.4 2606.4 1240.2 2621.7 1237.4" stroke-width="2.2" fill="none" />
<path d="M2521.3 1344.7 C2522.7 1417.2 2734.6 1417.2 2737.4 1344.7" stroke-width="3" fill="#fff" />
<path d="M2521.3 1339.1 C2522.7 1375.4 2556.2 1406.1 2628.7 1404.7 C2701.2 1404.7 2734.6 1375.4 2737.4 1339.1 L2706.7 1308.5 C2678.9 1280.6 2578.5 1280.6 2545 1308.5 Z" stroke-width="3.2" fill="#fff" />
<path d="M2522.7 1350.3 C2528.3 1408.9 2729.1 1408.9 2736.9 1350.3" stroke-width="2.4" fill="none" />
<ellipse cx="2628.7" cy="1343.3" rx="81.4" ry="41.3" stroke-width="5" fill="#fff"/>
<ellipse cx="2628.7" cy="1346.1" rx="75.3" ry="36.8" stroke-width="3" fill="none"/>
<path d="M2550.6 1311.3 C2578.5 1294.5 2623.1 1293.1 2651 1295.9 L2651 1304.3 C2623.1 1301.5 2584 1302.9 2556.2 1319.6" stroke-width="3" fill="none" />
<ellipse cx="2533.9" cy="1331.3" rx="6.1" ry="3.3" stroke-width="3" fill="none"/>
<ellipse cx="2536.6" cy="1346.1" rx="6.1" ry="3.9" stroke-width="2" fill="#000"/>
<ellipse cx="2723.5" cy="1335" rx="6.1" ry="3.9" stroke-width="2" fill="#000"/>
<ellipse cx="2724.9" cy="1347.5" rx="6.1" ry="3.3" stroke-width="3" fill="none"/>
<path d="M2540.8 1308.5 L2540.8 1316.8 C2543.6 1321 2550.6 1321 2552 1316.8 L2552 1308.5 C2549.2 1304.3 2543.6 1304.3 2540.8 1308.5 Z" stroke-width="3" fill="#fff" />
<ellipse cx="2722.1" cy="1422.8" rx="11.7" ry="5.3" stroke-width="3" fill="#fff"/>
<path d="M2716 1404.7 L2716 1420.6 L2727.7 1420.6 L2727.7 1404.7 C2725.4 1399.9 2718.2 1399.9 2716 1404.7 Z" stroke-width="3" fill="#fff" />
<path d="M2716 1408.9 C2719.3 1411.1 2724.9 1411.1 2727.7 1408.9" stroke-width="3" fill="none" />
<ellipse cx="2784.8" cy="1645.9" rx="11.7" ry="5.3" stroke-width="3" fill="#fff"/>
<path d="M2778.7 1627.8 L2778.7 1643.7 L2790.4 1643.7 L2790.4 1627.8 C2788.2 1623 2780.9 1623 2778.7 1627.8 Z" stroke-width="3" fill="#fff" />
<path d="M2778.7 1632 C2782 1634.2 2787.6 1634.2 2790.4 1632" stroke-width="3" fill="none" />
<path d="M2437.6 1497.5 L2515.7 1478 L2517.1 1476.6 L2570.1 1462.7 L2571.5 1459.9 L2645.4 1439 C2706.7 1434 2790.4 1464.6 2829.4 1512 C2851.8 1542.7 2843.4 1576.2 2804.4 1603.5 L2641.2 1650.9 C2567.3 1651.5 2455.8 1620.8 2425.1 1565 C2411.2 1534.4 2422.3 1509.3 2437.6 1497.5 Z" stroke-width="2.6" fill="#fff" />
<path d="M2437.6 1495.3 L2515.7 1475.8 L2517.1 1474.4 L2570.1 1460.5 L2571.5 1457.7 L2645.4 1436.7 C2706.7 1431.7 2790.4 1462.4 2829.4 1509.8 C2851.8 1540.5 2843.4 1573.9 2804.4 1601.3 L2641.2 1648.7 C2567.3 1649.2 2455.8 1618.6 2425.1 1562.8 C2411.2 1532.1 2422.3 1507 2437.6 1495.3 Z" stroke-width="2.8" fill="#fff" />
<path d="M2695.6 1497.5 L2745.8 1483.6 L2779.3 1506.5 L2779.3 1509.8 L2734.6 1523.8 L2734.6 1531.6 C2751.4 1565 2720.7 1598.5 2637 1600.7 C2553.4 1601.3 2517.1 1565 2522.7 1534.4 C2531.1 1500.9 2623.1 1475.8 2695.6 1497.5 Z" stroke-width="3" fill="#fff" />
<path d="M2525.5 1531.6 C2539.4 1500.9 2623.1 1480 2694.2 1500.9 L2745.8 1486.9 L2775.1 1507" stroke-width="2.2" fill="none" />
<ellipse cx="2621.7" cy="1461.3" rx="7.8" ry="3.9" stroke-width="3.4" fill="none"/>
<ellipse cx="2497.6" cy="1526.5" rx="7.8" ry="3.9" stroke-width="3.4" fill="none"/>
<ellipse cx="2786.2" cy="1519.8" rx="7.8" ry="3.9" stroke-width="3.4" fill="none"/>
<ellipse cx="2780.6" cy="1569.2" rx="7.8" ry="3.9" stroke-width="3.4" fill="none"/>
<ellipse cx="2512.1" cy="1589.6" rx="7.8" ry="3.9" stroke-width="3.4" fill="none"/>
<ellipse cx="2605.8" cy="1618.6" rx="7.8" ry="3.9" stroke-width="3.4" fill="none"/>
</g>
<g id="07_cup" stroke="#000" fill="none" stroke-linejoin="round" stroke-linecap="round">
<path d="M2500.8 1728 L2508.4 1753.2 C2515.9 1768.4 2528.6 1770.9 2541.2 1765.8 L2576.5 1753.2 L2581.6 1743.1 L2541.2 1740.6 Z" stroke-width="3" fill="#fff" />
<path d="M2504.6 1730.5 C2507.1 1753.2 2526 1765.8 2538.7 1760.8 C2548.8 1755.7 2553.8 1745.6 2551.3 1739.3" stroke-width="2.6" fill="none" />
<path d="M2469.2 1720.4 C2470.5 1710.3 2485.6 1704 2503.3 1702.7 C2515.9 1706.5 2526 1705.2 2536.1 1701.5 L2576.5 1698.2 L2634.6 1700.2 L2672.5 1707.8 L2687.6 1720.4 L2697.7 1722.9 L2697.7 1728 L2672.5 1734.3 L2606.8 1740.6 L2541.2 1740.6 L2538.7 1734.3 L2500.8 1728 L2490.7 1730.5 L2473 1728 Z" stroke-width="3" fill="#fff" />
<path d="M2470.5 1722.9 L2474.3 1725.9 L2492 1728 L2538.7 1717.9" stroke-width="2.4" fill="none" />
<path d="M2541.2 1717.9 C2546.2 1704 2642.2 1702.7 2644.7 1717.9 C2639.6 1726.7 2616.9 1728 2581.6 1729.2 L2541.2 1734.3 Z" stroke-width="3" fill="#fff" />
<path d="M2546.2 1717.9 C2561.4 1711.6 2622 1710.3 2637.1 1717.9" stroke-width="2.4" fill="none" />
<path d="M2541.2 1734.3 C2571.5 1726.7 2616.9 1722.9 2619.4 1717.9" stroke-width="2.4" fill="none" />
<path d="M2538.7 1734.3 C2571.5 1743.1 2647.2 1738.1 2696.4 1726.7" stroke-width="3" fill="none" />
<path d="M2581.6 1736.8 L2600.5 1735.5 L2600.5 1754.5 L2584.1 1755.7 L2584.1 1746.9 L2581.6 1746.1 Z" stroke-width="3" fill="#fff" stroke-linejoin="round"/>
<path d="M2680 1734.3 C2680 1743.1 2692.7 1745.6 2696.4 1738.1 C2697.7 1731.8 2691.4 1730.5 2688.9 1734.3" stroke-width="3" fill="none" />
<ellipse cx="2590.4" cy="1827.7" rx="98.5" ry="25.8" stroke-width="3.4" fill="#fff"/>
<ellipse cx="2590.4" cy="1825.2" rx="98" ry="24" stroke-width="2.6" fill="none"/>
<ellipse cx="2590.4" cy="1822.6" rx="88.4" ry="18.9" stroke-width="3.2" fill="none"/>
<ellipse cx="2590.4" cy="1825.2" rx="80.3" ry="14.6" stroke-width="2.4" fill="none"/>
<path d="M2495.7 1829 C2503.3 1854.2 2677.5 1854.2 2685.1 1829" stroke-width="2.6" fill="none" />
<path d="M2723 1882 L2813.8 1884.5 L2818.9 1886.5 L2818.9 1906 L2808.8 1908.5 L2738.1 1902.7 L2728 1908.5" stroke-width="3" fill="#fff" />
<path d="M2738.6 1898.4 L2808.8 1899.6 L2808.8 1907.2" stroke-width="5" fill="none" stroke-linejoin="round"/>
<line x1="2813.8" y1="1885" x2="2813.8" y2="1899.1" stroke-width="2.4" stroke-linecap="round"/>
<line x1="2738.6" y1="1897.6" x2="2813.8" y2="1899.1" stroke-width="2.6" stroke-linecap="round"/>
<path d="M2438.9 1897.1 C2438.9 1937.5 2735.6 1937.5 2735.6 1902.2 C2735.6 1897.1 2730.5 1887 2717.9 1882 C2647.2 1856.7 2438.9 1861.8 2438.9 1897.1 Z" stroke-width="3.2" fill="#fff" />
<path d="M2440.2 1902.2 C2450.3 1940 2723 1938.8 2736.8 1906" stroke-width="4.5" fill="none" />
<ellipse cx="2589.1" cy="1887.5" rx="114.9" ry="22.2" stroke-width="3.2" fill="#fff"/>
<path d="M2474.3 1889.5 L2474.3 1894.6 C2485.6 1919.8 2697.7 1919.8 2704 1894.6 L2704 1888.3" stroke-width="3" fill="none" />
<ellipse cx="2587.9" cy="1890" rx="101" ry="16.2" stroke-width="3.2" fill="#fff"/>
<ellipse cx="2587.9" cy="1892.6" rx="90.9" ry="12.6" stroke-width="2.4" fill="none"/>
<path d="M2505.8 1879.4 C2546.2 1873.1 2596.7 1872.4 2616.9 1875.7 L2616.9 1882" stroke-width="4" fill="none" />
<path d="M2644.7 1876.9 L2672.5 1874.4 L2672.5 1868.1 C2647.2 1863 2596.7 1862.3 2571.5 1863.8" stroke-width="3" fill="none" />
<ellipse cx="2710.3" cy="1902.2" rx="5.6" ry="2.3" stroke-width="2.4" fill="none"/>
<ellipse cx="2468" cy="1882" rx="5" ry="2" stroke-width="2.4" fill="none"/>
<path d="M2503.3 1977.9 L2486.9 1980.4 L2483.1 1985.5 L2484.4 1991.8 L2503.3 1993.1 L2677.5 1993.1 L2695.2 1992.5 L2697.7 1986.7 L2693.9 1981.7 L2677.5 1977.9 Z" stroke-width="3" fill="#fff" />
<path d="M2501.3 1993.1 C2507.1 1998.1 2505.8 2008.2 2507.1 2033.4 L2510.9 2119.3 C2512.1 2134.4 2521 2137 2531.1 2137.5 C2551.3 2137 2561.4 2130.6 2590.4 2130.6 C2619.4 2130.6 2629.5 2137 2649.7 2137.5 C2662.4 2137 2669.9 2134.4 2671.2 2119.3 L2675.5 2033.4 C2676.2 2008.2 2675 1998.1 2680 1993.1" stroke-width="3.6" fill="#fff" />
<path d="M2512.1 1995.6 L2517.2 2119.3 C2518.5 2126.9 2523.5 2130.6 2531.1 2131.9" stroke-width="2.4" fill="none" />
<path d="M2668.7 1995.6 L2664.4 2119.3 C2663.6 2126.9 2658.6 2130.6 2651 2131.9" stroke-width="2.4" fill="none" />
<path d="M2513.4 2043.5 C2533.6 2028.4 2647.2 2028.4 2668.7 2043.5" stroke-width="2" fill="none" />
<path d="M2518 2119.3 C2533.6 2106.7 2647.2 2106.7 2664.4 2119.3" stroke-width="2.4" fill="none" />
<path d="M2526 2130.6 C2546.2 2118 2634.6 2118 2654.8 2130.6" stroke-width="2.4" fill="none" />
<path d="M2503.3 1957.7 L2503.3 1989.3 C2521 1998.1 2561.4 2000.6 2586.6 2000.6 L2586.6 1967.8 M2594.2 1967.8 L2594.2 2000.6 C2619.4 2000.6 2659.8 1998.1 2677.5 1989.3 L2677.5 1957.7" stroke-width="3" fill="#fff" />
<ellipse cx="2590.4" cy="1957.7" rx="93.9" ry="18.7" stroke-width="3.4" fill="#fff"/>
<ellipse cx="2590.4" cy="1956.4" rx="81.3" ry="13.9" stroke-width="2.8" fill="#fff"/>
<path d="M2497 1961.5 C2503.3 1972.9 2546.2 1981.7 2586.6 1981.7 M2594.2 1981.7 C2634.6 1981.7 2677.5 1972.9 2683.8 1961.5" stroke-width="3" fill="none" />
<path d="M2586.5 1945 L2594.5 1945 L2594.5 2001 L2586.5 2001 Z" fill="#fff" stroke="none"/>
<path d="M2586.6 1967.8 L2586.6 2000.6" stroke-width="3" fill="none" stroke-linejoin="round"/>
<path d="M2594.2 1967.8 L2594.2 2000.6" stroke-width="3" fill="none" stroke-linejoin="round"/>
<path d="M2561.4 1970.3 L2561.4 1984.2 L2581.6 1986.7 L2586.6 1985.5" stroke-width="3" fill="none" stroke-linejoin="round"/>
<path d="M2622 1970.3 L2622 1984.2 L2599.2 1986.7 L2594.2 1985.5" stroke-width="3" fill="none" stroke-linejoin="round"/>
<path d="M2563.9 1984.2 L2563.9 1989.3 L2584.1 1990.5" stroke-width="2.4" fill="none" stroke-linejoin="round"/>
<path d="M2619.4 1984.2 L2619.4 1989.3 L2596.7 1990.5" stroke-width="2.4" fill="none" stroke-linejoin="round"/>
</g>
<g id="08_botright" stroke="#000" fill="none" stroke-linejoin="round" stroke-linecap="round">
<path d="M2094.5 1998.3 C2093.4 1999.4 2089.4 2000.2 2087.9 2004.9 C2086.5 2009.6 2085.6 2019.9 2086 2026.6 C2086.5 2033.4 2088.4 2040.5 2090.8 2045.5 C2093.1 2050.5 2093.3 2053.1 2100.2 2056.8 C2107.1 2060.6 2127 2066.3 2132.3 2068.2" stroke-width="6" fill="none" />
<path d="M2132.3 2068.2 L2389 2211.6 C2394.7 2213.5 2400.4 2213.5 2404.2 2211.6 L2416.4 2202.2 C2419.3 2196.5 2418.3 2189 2409.8 2181.4 L2175.7 2045.5 C2171 2042.7 2171.9 2038 2174.8 2030.4 C2176.7 2021 2168.2 2002.1 2158.7 1996.4 L2137 1984.2 C2134.2 1983.2 2133.2 1986 2135.1 1990.8 L2147.4 2017.2 C2148.3 2024.7 2141.7 2031.4 2130.4 2031.9 C2121 2032.3 2117.2 2027.6 2113.4 2022.9 L2101.1 2005.9 C2098.3 2001.1 2096.4 1998.3 2094.5 1998.3" stroke-width="3.4" fill="none" />
<line x1="2132.3" y1="2068.2" x2="2389" y2="2211.6" stroke-width="6" stroke-linecap="round"/>
<path d="M2389 2211.6 C2394.7 2213.9 2400.4 2213.9 2404.2 2211.6 L2416.4 2202.2" stroke-width="5" fill="none" />
<path d="M2097.4 2007.8 C2098.5 2010.9 2101.3 2021.3 2104 2026.6 C2106.7 2032 2109.6 2036.7 2113.4 2039.9 C2117.2 2043 2121.3 2045.5 2126.6 2045.5 C2132 2045.5 2139.9 2042.7 2145.5 2039.9 C2151.2 2037 2157.8 2032 2160.6 2028.5 C2163.4 2025.1 2163.4 2022.9 2162.5 2019.1 C2161.6 2015.3 2157.3 2009.2 2155 2005.9 C2152.6 2002.6 2149.4 2000.4 2148.3 1999.3" stroke-width="4.5" fill="none" />
<path d="M2158.7 2055 C2162.5 2053.1 2166.3 2053.1 2170.1 2055 L2402.3 2189 C2407.9 2193.7 2405.1 2199.4 2398.5 2199.4 L2390.9 2198.4 L2157.8 2066.3 C2153.1 2063.4 2154 2057.8 2158.7 2055 Z" stroke-width="3.2" fill="none" />
<ellipse cx="2315.5" cy="2326.6" rx="20.1" ry="17.8" stroke-width="3.6" fill="#fff"/>
<ellipse cx="2302.2" cy="2323.6" rx="6.5" ry="8.3" stroke-width="3" fill="none"/>
<path d="M2327.4 2313.3 C2315.5 2310.3 2309.6 2322.1 2317 2329.5 C2321.4 2332.5 2327.4 2329.5 2328.8 2323.6" stroke-width="5" fill="none" />
<path d="M2296.3 2335.5 C2306.6 2345.8 2327.4 2344.3 2334.7 2334" stroke-width="3" fill="none" />
<path d="M2311.1 2344.3 L2311.1 2354.1 L2320 2355.3 L2320 2345.2" stroke-width="2" fill="#000" stroke-linejoin="round"/>
<path d="M2499 2274.8 C2500.5 2272.4 2503.4 2272.4 2507.9 2274.8 C2605.5 2336.9 2723.9 2381.3 2839.3 2440.5 C2849.7 2445 2849.7 2450.9 2840.8 2453 C2723.9 2390.2 2605.5 2345.8 2497.5 2283.1 C2496 2280.7 2496.6 2277.2 2499 2274.8 Z" stroke-width="3.4" fill="#fff" />
<ellipse cx="2842.3" cy="2447" rx="4.1" ry="5.3" stroke-width="2.8" fill="none" transform="rotate(-20 2842.3 2447)"/>
<path d="M2309.6 2413.9 L2309.6 2434.6 L2374.7 2464.2 L2398.4 2455.3 L2581.9 2391.7 L2599.6 2384.3 L2599.6 2372.5 L2590.7 2366.5 L2567.1 2354.7 L2558.2 2345.8 L2540.4 2340.5 L2516.8 2342.9 L2513.8 2348.8 L2499 2350.3 C2475.3 2354.7 2457.6 2365.1 2439.8 2371 L2436.9 2372.5 L2425 2365.1 L2404.3 2365.1 L2386.5 2376.9 L2386.5 2385.8 L2351 2399.1 L2333.3 2406.5 L2330.3 2419.8 L2327.4 2415.4 L2312.6 2412.4 Z" stroke-width="3.4" fill="#fff" />
<path d="M2309.6 2416.9 L2374.7 2446.4 L2398.4 2440.5 L2587.8 2375.4" stroke-width="3" fill="none" stroke-linejoin="round"/>
<line x1="2374.7" y1="2446.4" x2="2374.7" y2="2464.2" stroke-width="3" stroke-linecap="round"/>
<path d="M2386.5 2376.9 L2398.4 2390.2 L2416.1 2385.8 L2425 2372.5 M2398.4 2390.2 L2398.4 2384.3" stroke-width="3" fill="none" />
<path d="M2416.1 2385.8 C2428 2378.4 2436.9 2384.3 2463.5 2397.6 L2445.7 2390.2" stroke-width="3.4" fill="none" />
<path d="M2333.3 2406.5 C2342.1 2399.1 2368.8 2402.1 2380.6 2413.9 L2383.6 2425.7" stroke-width="3.2" fill="none" />
<ellipse cx="2357.5" cy="2413.3" rx="5.3" ry="2.7" stroke-width="2.6" fill="none"/>
<path d="M2340.7 2413.9 L2351 2425.7 L2351 2437.6 L2374.7 2449.4 M2365.8 2428.7 L2389.5 2440.5 C2396.9 2442 2396.9 2452.4 2389.5 2452.4 L2380.6 2449.4 L2365.8 2437.6 Z" stroke-width="3.4" fill="none" />
<path d="M2454.6 2410.9 L2487.2 2396.1 L2504.9 2394.7 C2499 2408 2487.2 2413.9 2484.2 2421.3 L2475.3 2419.8 L2472.4 2412.4 Z" stroke-width="3.4" fill="none" />
<path d="M2516.8 2342.9 L2513.8 2363.6 M2522.7 2348.8 L2540.4 2357.7 L2558.2 2348.8 M2534.5 2357.7 L2536 2365.1" stroke-width="3.2" fill="none" />
<ellipse cx="2540.4" cy="2348.8" rx="4.1" ry="2.1" stroke-width="2.6" fill="none"/>
<path d="M2552.3 2363.6 L2575.9 2373.9 L2581.9 2390.2 M2558.2 2369.5 C2564.1 2363.6 2587.8 2369.5 2593.7 2378.4" stroke-width="3.6" fill="none" />
<path d="M2362.9 2502.7 L2368.8 2495.3 L2573 2421.3 L2587.8 2421.3 L2605.5 2428.7 L2688.4 2473.1 C2700.2 2479 2723.9 2477.5 2741.7 2482 L2806.8 2516 L2808.3 2544.1 L2694.3 2587 L2688.4 2582.6 L2689.9 2561.9 L2605.5 2516 C2575.9 2508.6 2546.4 2514.5 2525.6 2532.3 C2521.2 2541.1 2522.7 2548.5 2531.6 2555.9 L2601.1 2594.4 L2601.1 2627 L2502 2665.4 L2481.2 2669.9 L2475.3 2665.4 L2473.8 2641.8 L2445.7 2624 C2439.8 2600.3 2457.6 2585.5 2460.5 2547.1 L2365.8 2508.6 Z" stroke-width="3.4" fill="#fff" />
<path d="M2365.8 2506.2 L2459.9 2551.5" stroke-width="2.6" fill="none" stroke-linejoin="round"/>
<path d="M2484.2 2634.4 L2601.1 2594.4" stroke-width="3.2" fill="none" stroke-linejoin="round"/>
<line x1="2484.2" y1="2634.4" x2="2484.2" y2="2669.9" stroke-width="3.2" stroke-linecap="round"/>
<path d="M2448.7 2622.5 L2484.2 2634.4" stroke-width="3" fill="none" stroke-linejoin="round"/>
<path d="M2694.3 2558.9 L2808.3 2517.5" stroke-width="3.2" fill="none" stroke-linejoin="round"/>
<line x1="2694.3" y1="2558.9" x2="2694.3" y2="2587" stroke-width="3.2" stroke-linecap="round"/>
<path d="M2528.6 2533.7 C2540.4 2523.4 2575.9 2514.5 2605.5 2521 L2689.9 2566.3" stroke-width="2.6" fill="none" />
<path d="M2647 2505.6 C2649.9 2501.2 2658.8 2501.2 2667.7 2504.2 L2744.6 2541.1 C2747.6 2548.5 2741.7 2553 2715 2558.9 L2664.7 2526.4 C2649.9 2520.4 2645.5 2511.6 2647 2505.6 Z" stroke-width="3.4" fill="none" />
<path d="M2652.9 2510.1 C2664.7 2511.6 2723.9 2535.2 2735.8 2547.1 M2712.1 2554.5 L2735.8 2547.1" stroke-width="2.6" fill="none" />
<ellipse cx="2423.5" cy="2496.8" rx="4.1" ry="3.1" stroke-width="3" fill="#000"/>
<ellipse cx="2447.2" cy="2502.1" rx="4.7" ry="3.6" stroke-width="3" fill="none"/>
<ellipse cx="2419.1" cy="2512.1" rx="7.1" ry="5.3" stroke-width="3" fill="#000"/>
<ellipse cx="2567.1" cy="2441.1" rx="4.1" ry="3.1" stroke-width="3" fill="#000"/>
<ellipse cx="2587.2" cy="2446.4" rx="4.7" ry="3.6" stroke-width="3" fill="none"/>
<ellipse cx="2561.1" cy="2457.7" rx="6.5" ry="4.9" stroke-width="3" fill="#000"/>
<ellipse cx="2497.5" cy="2649.2" rx="4.7" ry="3.6" stroke-width="3" fill="none"/>
<ellipse cx="2540.4" cy="2629.9" rx="4.7" ry="3.6" stroke-width="3" fill="#000"/>
<ellipse cx="2581.3" cy="2616.6" rx="4.4" ry="3.3" stroke-width="3" fill="#000"/>
<ellipse cx="2705.3" cy="2571.3" rx="4.1" ry="3.1" stroke-width="3" fill="none"/>
<ellipse cx="2758" cy="2550" rx="4.7" ry="3.6" stroke-width="3" fill="#000"/>
<ellipse cx="2792" cy="2536.7" rx="4.4" ry="3.3" stroke-width="3" fill="none"/>
<path d="M2716.5 2609.2 L2721 2603.3 L2827.5 2557.4 L2837.9 2557.4 L2837.9 2585.5 L2794.9 2603.3 L2721 2632.9 L2715 2624 Z" stroke-width="3.4" fill="#fff" />
<path d="M2723.9 2608.6 L2830.5 2563.3 L2831.9 2587" stroke-width="2.8" fill="none" stroke-linejoin="round"/>
<line x1="2722.7" y1="2608.6" x2="2722.7" y2="2631.4" stroke-width="2.8" stroke-linecap="round"/>
<ellipse cx="2612.9" cy="2669" rx="8.3" ry="4.1" stroke-width="3.2" fill="#fff"/>
<path d="M2607.3 2647.7 L2607.9 2665.4 L2617.4 2665.4 L2617.4 2647.7 C2615.9 2643.2 2609.1 2643.2 2607.3 2647.7 Z" stroke-width="3" fill="#fff" />
<path d="M2607.3 2650.6 L2617.4 2650.1 M2607.3 2655.1 L2617.4 2654.5 M2607.3 2659.5 L2617.4 2658.9" stroke-width="2.6" fill="none" />
<path d="M2545.3 2740.5 L2553 2731.3 L2576.7 2725.9 L2615.7 2744.3 L2621.8 2741.2 L2623.4 2710.6 C2629.5 2704.5 2646.3 2698.4 2657 2699.9 L2683.1 2712.1 C2698.4 2719.8 2729 2721.3 2759.6 2738.2 L2793.3 2756.5 L2799.4 2764.2 L2794.8 2779.5 L2795.6 2833.1 L2782.6 2845.3 C2768.8 2859.1 2756.5 2866.7 2744.3 2871.3 L2657 2908.1 L2614.2 2877.5 L2612.7 2814.7 L2591.2 2800.9 L2592.8 2765.7 Z" stroke-width="3.6" fill="#fff" />
<path d="M2612.7 2776.4 C2621.8 2762.7 2646.3 2748.9 2667.8 2745.8 C2683.1 2742.8 2729 2741.2 2744.3 2750.4 L2787.2 2770.3 L2788.7 2828.5 C2774.9 2845.3 2752 2862.2 2738.2 2868.3 L2664.7 2898.9 L2663.2 2833.1 C2660.1 2822.4 2649.4 2817.8 2637.1 2810.1 C2621.8 2800.9 2611.1 2790.2 2612.7 2776.4 Z" stroke-width="3.6" fill="#fff" />
<path d="M2678.5 2747.4 L2678.5 2810.1 M2748.1 2753.5 L2748.1 2808.6 M2748.1 2808.6 L2785.6 2828.5 M2666.2 2844.5 L2686.1 2839.2 M2686.1 2840.7 L2738.2 2868.3 M2654 2845.3 L2623.4 2863.7 M2655.5 2833.1 L2657 2906.5 M2578.2 2727.5 L2579 2745.8 M2615 2744.3 L2615 2758.1" stroke-width="3.4" fill="none" />
<path d="M2748.1 2808.6 C2729 2814.7 2701.4 2823.9 2686.1 2839.2" stroke-width="3.4" fill="none" />
<path d="M2623.4 2713.7 L2652.5 2730.5 L2660.1 2738.2 M2652.5 2730.5 C2643.3 2735.1 2634.1 2739.7 2623.4 2741.2" stroke-width="3.4" fill="none" />
<path d="M2612.7 2776.4 C2624.9 2776.4 2643.3 2768.8 2658.6 2759.6 L2660.1 2748.9" stroke-width="3.4" fill="none" />
<path d="M2545.3 2740.5 L2592.8 2765.7" stroke-width="5.5" fill="none" stroke-linejoin="round"/>
<path d="M2592.8 2800.9 L2657 2833.1" stroke-width="4" fill="none" stroke-linejoin="round"/>
<path d="M2643.3 2823.9 L2657 2822.4" stroke-width="3" fill="none" stroke-linejoin="round"/>
<path d="M2790.2 2759.6 C2797.9 2765.7 2790.2 2774.9 2791.7 2787.1 L2791.7 2833.1" stroke-width="4.5" fill="none" />
<path d="M2647.9 2709.1 L2658.6 2712.1 M2559.1 2738.2 L2568.3 2741.2 M2712.2 2729.7 L2722.9 2729.3 M2600.4 2768.8 L2606.5 2771.8" stroke-width="5" fill="none" />
</g>
<g id="09_left_mid" stroke="#000" fill="none" stroke-linejoin="round" stroke-linecap="round">
<ellipse cx="408.5" cy="902.1" rx="21" ry="31.4" stroke-width="3" fill="#fff" transform="rotate(-15 408.5 902.1)"/>
<path d="M391.7 876.8 C411.3 885.3 419.7 910.5 416.9 930.2" stroke-width="3" fill="none" />
<path d="M397.3 874 C416.9 882.4 425.4 907.7 422.6 927.3" stroke-width="2.4" fill="none" />
<path d="M386.1 885.3 C402.9 890.9 411.3 910.5 409.9 927.3" stroke-width="3" fill="none" />
<path d="M386.1 882.4 L402.9 896.5 L422.6 930.2 L432.4 952.6 L433.8 1149 L408.5 1157.5 L408.5 1017.1 L402.9 933 Z" stroke-width="3" fill="#fff" />
<path d="M411.3 1025.6 L432.4 1017.1 L433.2 1149 L409.9 1156.9 Z" stroke-width="2" fill="#000" stroke-linejoin="round"/>
<g stroke="#fff">
<path d="M418.3 1028.4 L418.3 1062 M424 1056.4 L424 1084.5 M416.9 1092.9 L416.9 1129.4 M426.8 1112.6 L426.8 1146.2 M413.6 1135 L413.6 1154.6 M421.2 1028.4 L431 1025.6" stroke-width="2.2" fill="none" />
</g>
<path d="M391.7 924.5 L411.3 920.3 L419.7 938.6 L416.9 944.2 L397.3 944.2 L391.7 938.6 Z" stroke-width="3.4" fill="#fff" stroke-linejoin="round"/>
<path d="M394.5 944.2 L394.5 930.2 C397.3 921.7 408.5 921.7 411.3 930.2 L411.3 941.4" stroke-width="3.2" fill="none" />
<path d="M402.9 949.8 L424 944.2" stroke-width="3" fill="none" stroke-linejoin="round"/>
<path d="M405.7 959.6 L426.8 954" stroke-width="2.6" fill="none" stroke-linejoin="round"/>
<ellipse cx="432.4" cy="982.1" rx="2.2" ry="3.9" stroke-width="2" fill="#000"/>
<ellipse cx="434.3" cy="1029.8" rx="2.2" ry="4.5" stroke-width="2" fill="#000"/>
<ellipse cx="431" cy="952.6" rx="1.7" ry="4.5" stroke-width="2" fill="#000"/>
<path d="M386.1 904.9 L402.9 899.3 L414.1 916.1 L394.5 920.3" stroke-width="3" fill="none" stroke-linejoin="round"/>
<path d="M335.6 893.7 L349.6 879.6 L372 874 L386.1 882.4 C394.5 899.3 402.9 916.1 403.5 933 L408.5 1017.1 L408.5 1157.5 L344 1101.3 C339.8 1095.7 338.4 1090.1 338.4 1078.9 L334.2 916.1 Z" stroke-width="3.2" fill="#fff" />
<line x1="337.8" y1="896.5" x2="341.2" y2="1076.1" stroke-width="2.2" stroke-linecap="round"/>
<path d="M338.4 879.6 L352.4 876.8 L353.8 885.3 L349.6 902.1 L339.8 890.9 Z" stroke-width="3" fill="#fff" stroke-linejoin="round"/>
<path d="M344 882.4 L349.6 899.3" stroke-width="2.4" fill="none" stroke-linejoin="round"/>
<path d="M193.9 1056.4 L193.9 1142 C196.7 1149 203.7 1149 205.9 1142 L205.9 1056.4" stroke-width="2.8" fill="#fff" />
<path d="M188.2 1043.8 L195.3 1056.4 L205.1 1056.4 L212.1 1043.8" stroke-width="3" fill="#fff" />
<ellipse cx="200" cy="1043.8" rx="11.8" ry="6.2" stroke-width="3.2" fill="#fff"/>
<path d="M193.9 1041 L206.5 1046.6 M193.9 1046.6 L206.5 1041" stroke-width="2.4" fill="none" />
<line x1="197.2" y1="1057.8" x2="197.2" y2="1140.6" stroke-width="1.6" stroke-linecap="round"/>
<path d="M464.6 972.2 L540.4 947.6 M463.2 994.1 L540.4 970.8" stroke-width="1.8" fill="none" />
<path d="M537.6 944.2 L568.5 928.8 L576.9 933.5 L576.9 968 L546 981.2 L537.6 976.5 Z" stroke-width="3" fill="#fff" stroke-linejoin="round"/>
<path d="M537.6 944.2 L546 947.6 L576.9 933.5" stroke-width="2.8" fill="none" stroke-linejoin="round"/>
<line x1="546" y1="947.6" x2="546" y2="981.2" stroke-width="2.8" stroke-linecap="round"/>
<path d="M506.7 1008.7 L537.6 994.1 L547.4 1000.3 L547.4 1005.9 L529.2 1012.9 C520.8 1020 532 1027 546 1024.2 C554.4 1020 558.7 1012.9 558.7 1007.3 L588.1 994.1 L595.1 998.9 L593.7 1008.7 L562.9 1025.6 C557.2 1032.6 543.2 1036.8 529.2 1034.5 C515.2 1031.2 506.7 1022.8 506.7 1008.7 Z" stroke-width="3.4" fill="#fff" />
<path d="M510.9 1011.5 C515.2 1025.6 534.8 1028.4 546 1024.2 M558.7 1007.3 L562.9 1017.1 L562.9 1025.6 M562.9 1015.7 L594.3 1001.7" stroke-width="3" fill="none" />
<path d="M667.2 1076.1 L667.2 1098.5 C669.5 1102.7 677.9 1102.7 680.2 1098.5 L680.2 1076.1" stroke-width="3" fill="#fff" />
<path d="M662.5 1070.5 L662.5 1073.8 C665.3 1081.7 682.1 1081.7 684.9 1073.8 L684.9 1070.5" stroke-width="3" fill="#fff" />
<ellipse cx="673.7" cy="1070.5" rx="11.2" ry="6.7" stroke-width="3.2" fill="#fff"/>
<path d="M988.2 1103.3 L1010 1097.1 L1010 1115.8 L991.3 1122 Z" stroke-width="3" fill="#fff" />
<path d="M972.7 1097.1 L985.1 1098.7 L991.3 1126.7 L982 1130.4 Z" stroke-width="3" fill="#fff" />
<path d="M866.9 1114.2 L972.7 1098.7 L982 1128.2 L885.5 1177.1 Z" stroke-width="3" fill="#fff" />
<path d="M848.2 1109.6 L860.6 1107.4 C885.5 1126.7 898 1160.9 879.3 1184.3 L873.1 1187.4" stroke-width="3.4" fill="#fff" />
<path d="M854.4 1111.1 C876.2 1129.8 888.6 1160.9 873.1 1182.7" stroke-width="2.6" fill="none" />
<path d="M770.4 1129.8 L848.2 1109.6 C870 1132.9 876.2 1167.1 873.1 1187.4 L795.3 1210.7 L782.8 1209.2 Z" stroke-width="3.2" fill="#fff" />
<path d="M792.2 1129.8 L842 1117.3 C829.5 1126.7 810.8 1131.4 795.3 1133.5 Z" stroke-width="2.6" fill="none" />
<path d="M807.7 1170.3 L857.5 1153.1 C845.1 1164 826.4 1171.8 812.4 1174 Z" stroke-width="2.6" fill="none" />
<path d="M807.7 1198.3 L854.4 1185.8 M807.7 1170.3 C801.5 1179.6 804.6 1198.3 810.8 1204.5 M785.9 1129.8 C801.5 1151.6 804.6 1185.8 798.4 1207.6" stroke-width="2.6" fill="none" />
<ellipse cx="757.9" cy="1176.5" rx="18.7" ry="36.1" stroke-width="4" fill="#fff" transform="rotate(8 757.9 1176.5)"/>
<ellipse cx="759.5" cy="1177.1" rx="13.7" ry="29.6" stroke-width="2.6" fill="none" transform="rotate(8 759.5 1177.1)"/>
<path d="M757.9 1140.7 L773.5 1126.7 M761 1212.3 L785.9 1209.2" stroke-width="3" fill="none" />
<path d="M751.7 1157.8 L767.3 1154.7 M751.1 1167.1 L768.8 1164 M751.1 1176.5 L770.4 1173.4 M751.7 1185.8 L770.4 1182.7 M753.3 1195.2 L768.8 1192.7" stroke-width="3" fill="none" />
<ellipse cx="748" cy="1187.4" rx="2.5" ry="4.4" stroke-width="2" fill="#000"/>
<path d="M451.4 1234.1 C448.5 1235.1 440.2 1240.5 434.2 1240.3 C428.3 1240 418.9 1235.4 415.6 1232.5 C412.2 1229.7 411.4 1226.3 414 1223.2 C416.6 1220.1 421.5 1216.9 431.1 1213.8 C440.7 1210.7 459.7 1205.5 471.6 1204.5 C483.5 1203.5 494.4 1205.5 502.7 1207.6 C511 1209.7 516.7 1212.8 521.4 1216.9 C526.1 1221.1 526.1 1228.1 530.7 1232.5 C535.4 1236.9 543.2 1241.8 549.4 1243.4 C555.6 1245 554.6 1245.5 568.1 1241.8 C581.6 1238.2 619.9 1225 630.3 1221.6" stroke-width="8.2" fill="none" />
<g stroke="#fff">
<path d="M451.4 1234.1 C448.5 1235.1 440.2 1240.5 434.2 1240.3 C428.3 1240 418.9 1235.4 415.6 1232.5 C412.2 1229.7 411.4 1226.3 414 1223.2 C416.6 1220.1 421.5 1216.9 431.1 1213.8 C440.7 1210.7 459.7 1205.5 471.6 1204.5 C483.5 1203.5 494.4 1205.5 502.7 1207.6 C511 1209.7 516.7 1212.8 521.4 1216.9 C526.1 1221.1 526.1 1228.1 530.7 1232.5 C535.4 1236.9 543.2 1241.8 549.4 1243.4 C555.6 1245 554.6 1245.5 568.1 1241.8 C581.6 1238.2 619.9 1225 630.3 1221.6" stroke-width="2.999999999999999" fill="none" />
</g>
<path d="M558.7 1235.6 C558.5 1230.4 556.1 1211.2 557.2 1204.5 C558.2 1197.8 559 1198.5 565 1195.2 C570.9 1191.8 587.3 1185.8 593 1184.3 C598.7 1182.7 595 1180.4 599.2 1185.8 C603.3 1191.3 614.8 1211.8 617.9 1216.9" stroke-width="8.2" fill="none" />
<g stroke="#fff">
<path d="M558.7 1235.6 C558.5 1230.4 556.1 1211.2 557.2 1204.5 C558.2 1197.8 559 1198.5 565 1195.2 C570.9 1191.8 587.3 1185.8 593 1184.3 C598.7 1182.7 595 1180.4 599.2 1185.8 C603.3 1191.3 614.8 1211.8 617.9 1216.9" stroke-width="2.999999999999999" fill="none" />
</g>
<path d="M490.3 1223.2 C494.9 1222.4 512.6 1216.4 518.3 1218.5 C524 1220.6 521.4 1231.5 524.5 1235.6 C527.6 1239.8 534.9 1242.1 536.9 1243.4" stroke-width="8.2" fill="none" />
<g stroke="#fff">
<path d="M490.3 1223.2 C494.9 1222.4 512.6 1216.4 518.3 1218.5 C524 1220.6 521.4 1231.5 524.5 1235.6 C527.6 1239.8 534.9 1242.1 536.9 1243.4" stroke-width="2.999999999999999" fill="none" />
</g>
<path d="M674.1 1169.1 C684.5 1166.5 694.9 1166.5 701.8 1167.3 L714 1181.2 L717.4 1198.6 L712.2 1222.9 L694.9 1233.3 L677.5 1236.7 Z" stroke-width="3.4" fill="#fff" />
<path d="M701.8 1167.3 L698.4 1184.7 L710.5 1188.2 M698.4 1184.7 L701.8 1202 L701.8 1222.9 M707 1202 L707 1224.6 L712.2 1222.9 M701.8 1202 L712.2 1200.3" stroke-width="3.4" fill="none" />
<ellipse cx="684.5" cy="1202" rx="16.5" ry="33.8" stroke-width="3.4" fill="#fff" transform="rotate(8 684.5 1202)"/>
<ellipse cx="675.8" cy="1202" rx="18.2" ry="34.7" stroke-width="5.5" fill="#fff" transform="rotate(8 675.8 1202)"/>
<ellipse cx="674.1" cy="1202.4" rx="14.7" ry="30.4" stroke-width="3.4" fill="none" transform="rotate(8 674.1 1202.4)"/>
<ellipse cx="671.5" cy="1202.9" rx="10.8" ry="24.3" stroke-width="4.5" fill="none" transform="rotate(8 671.5 1202.9)"/>
<path d="M641.1 1191.6 L660.2 1188.2 L663.7 1222.9 L642.8 1228.1 Z" stroke-width="3.6" fill="#fff" />
<ellipse cx="642.8" cy="1209.8" rx="4.9" ry="18.2" stroke-width="4.5" fill="#fff" transform="rotate(5 642.8 1209.8)"/>
<path d="M646.3 1193.4 L648 1226.3 M653.3 1190.8 L655 1224.6 M634.2 1195.1 L641.1 1202 M632.4 1207.2 L642.8 1209 M634.2 1226.3 L642.8 1222.9 M660.2 1207.2 L670.6 1205.5 M661.9 1215.9 L672.3 1214.2" stroke-width="4.5" fill="none" />
<path d="M630.7 1202 L637.6 1198.6 L640.2 1222.9 L633.3 1231.5 L629 1219.4 Z" stroke-width="3.6" fill="#fff" stroke-linejoin="round"/>
<ellipse cx="668" cy="1215.9" rx="3.8" ry="4.5" stroke-width="1" fill="#000"/>
<ellipse cx="656.7" cy="1219.4" rx="2.4" ry="3.1" stroke-width="1" fill="#000"/>
<line x1="625.5" y1="1215" x2="633.3" y2="1213.3" stroke-width="6" stroke-linecap="round"/>
</g>
<g id="10_housing" stroke="#000" fill="none" stroke-linejoin="round" stroke-linecap="round">
<path d="M426.5 1262.4 L635.3 1255.7 L709.3 1262.4 L716.1 1291 L753.1 1297.7 C754.8 1311.2 749.7 1328 729.5 1338.1 L709.3 1331.4 L527.5 1365.1 L507.3 1365.1 L480.4 1373.5 L472 1388.7 L466.9 1301.1 Z" stroke-width="3.2" fill="#fff" />
<path d="M426.5 1265.8 L635.3 1259 L706 1265.8" stroke-width="4" fill="none" />
<path d="M547.7 1297.7 L709.3 1291 M547.7 1297.7 L541 1324.7 L527.5 1334.8 L527.5 1348.2 L514 1365.1 M472 1331.4 L490.5 1307.8 L497.2 1324.7 L500.6 1358.4" stroke-width="3.2" fill="none" />
<path d="M695.9 1294.4 C702.6 1307.8 709.3 1324.7 716.1 1338.1 M712.7 1299.4 C719.4 1311.2 726.2 1324.7 732.9 1335.5 M739.6 1299.4 C743 1311.2 744.7 1321.3 746.4 1328" stroke-width="3" fill="none" />
<path d="M500.6 1324.7 C514 1317.9 524.1 1324.7 530.9 1334.8 C527.5 1351.6 514 1361.7 503.9 1358.4 Z" stroke-width="3.4" fill="none" />
<path d="M507.3 1331.4 C514 1338.1 514 1348.2 509 1355" stroke-width="3" fill="none" />
<path d="M635.3 1255.7 L635.3 1291 M655.5 1255.7 L655.5 1291 M625.2 1267.4 L625.2 1291" stroke-width="3" fill="none" />
<ellipse cx="645.4" cy="1255.7" rx="10.1" ry="4" stroke-width="3" fill="#fff"/>
<path d="M662.2 1284.3 L689.1 1274.2 L695.9 1291 M682.4 1277.5 L682.4 1291" stroke-width="4" fill="none" />
<path d="M130.2 1291 C133.6 1264.1 177.3 1240.5 221.1 1233.8 L251.4 1220.3 L339 1216.9 L386.1 1227 L413 1257.3 L429.9 1301.1 L312 1344.9 L194.2 1348.2 L147 1324.7 Z" stroke-width="3" fill="#fff" />
<path d="M213.7 1234.2 L225.8 1235.1 L238 1224.7 L255.3 1219.5 M355.9 1226.4 L381.9 1224.7 L390.6 1229.9 L414.9 1262.9 L418.4 1311.4 M343.8 1229.9 L350.7 1233.4 L380.2 1266.3 L381.9 1294.1 L347.2 1287.1" stroke-width="3.6" fill="none" />
<path d="M345.5 1236.8 L376.7 1262.9 M366.3 1245.5 L380.2 1242 L387.1 1247.2 M359.4 1233.4 L380.2 1230.8 L383.7 1240.3" stroke-width="3.6" fill="none" />
<path d="M163.4 1268.1 L163.4 1314.9 L187.6 1325.3 L190.3 1269.8" stroke-width="3.6" fill="#fff" />
<ellipse cx="177.2" cy="1268.1" rx="13.9" ry="6.9" stroke-width="5" fill="#fff"/>
<ellipse cx="178.1" cy="1268.9" rx="8.7" ry="3.8" stroke-width="3" fill="none"/>
<path d="M166.8 1301 L177.2 1304.5 L180.7 1314.9 L187.6 1318.4 M159 1271.5 L159 1311.4 M153 1306.2 C154.7 1301 161.6 1302.7 161.6 1311.4" stroke-width="3.6" fill="none" />
<path d="M190.3 1224.7 L190.3 1287.1 L213.7 1283.7 L213.7 1224.7" stroke-width="3.6" fill="#fff" />
<ellipse cx="201.5" cy="1224.7" rx="11.8" ry="5.2" stroke-width="5.5" fill="#fff"/>
<ellipse cx="201.5" cy="1225.6" rx="6.9" ry="2.6" stroke-width="3" fill="none"/>
<path d="M194.6 1294.1 L248.4 1276.7 L248.4 1287.1 L206.7 1302.7 L206.7 1339.2 L194.6 1334 Z" stroke-width="3.6" fill="#fff" />
<path d="M203.3 1302.7 L248.4 1286.3 M206.7 1311.4 L248.4 1297.5 M210.2 1318.4 L248.4 1304.5 M213.7 1321.8 L213.7 1342.6 M224.1 1318.4 L224.1 1344.4 M232.7 1314.9 L232.7 1344.4 M201.5 1283.7 L206.7 1280.2 M206.7 1280.2 L210.2 1287.1" stroke-width="3.6" fill="none" />
<path d="M217.1 1276.7 C224.1 1268.1 234.5 1271.5 238 1278.5" stroke-width="5" fill="none" />
<path d="M249.2 1273.3 L249.2 1334 L269.2 1328.8 L269.2 1271.5" stroke-width="3.6" fill="#fff" />
<path d="M249.2 1273.3 C253.6 1280.2 265.7 1279.3 269.2 1271.5" stroke-width="3.6" fill="none" />
<path d="M239.7 1243.8 L239.7 1273.3 L249.2 1276.7 M244.9 1235.1 L244.9 1271.5 M251.8 1240.3 L251.8 1271.5" stroke-width="5" fill="none" />
<path d="M251.8 1255.9 L269.2 1250.7 L269.2 1271.5 L251.8 1273.3 Z" stroke-width="2" fill="#000" stroke-linejoin="round"/>
<g stroke="#fff">
<line x1="260.5" y1="1257.6" x2="259.6" y2="1268.1" stroke-width="3" stroke-linecap="round"/>
</g>
<path d="M272.6 1252.4 L279.6 1250.7 L269.2 1325.3 L264 1327 Z" stroke-width="3.6" fill="#fff" />
<path d="M286.5 1254.2 L293.5 1254.2 L283.1 1328.8 L277.8 1328.8 Z" stroke-width="3.6" fill="#fff" />
<path d="M293.5 1264.6 L305.6 1264.6 L303.9 1311.4 L293.5 1311.4 Z" stroke-width="3.6" fill="#fff" />
<line x1="299.5" y1="1266.3" x2="298.7" y2="1309.7" stroke-width="5" stroke-linecap="round"/>
<path d="M309.1 1287.1 C310.8 1297.5 335.1 1301 343.8 1290.6 L342 1308 C335.1 1318.4 314.3 1318.4 307.3 1309.7 Z" stroke-width="3.6" fill="#fff" />
<ellipse cx="326.4" cy="1287.1" rx="17.3" ry="8.7" stroke-width="3.6" fill="#fff"/>
<ellipse cx="327.3" cy="1288.9" rx="7.3" ry="3.8" stroke-width="2" fill="#000"/>
<path d="M309.1 1271.5 L328.2 1268.1 L331.6 1273.3 L314.3 1278.5 M335.1 1249 L345.5 1252.4 L347.2 1287.1 M338.6 1262.9 L338.6 1283.7 M331.6 1255.9 L331.6 1271.5" stroke-width="3.6" fill="none" />
<path d="M310.8 1314.9 C319.5 1323.6 333.4 1321.8 340.3 1314.9 M312.5 1321.8 L328.2 1320.1 L342 1323.6 M349 1294.1 L349 1311.4 L362.8 1309.7 L362.8 1301 L383.7 1304.5 M357.6 1297.5 L397.5 1306.2 L362.8 1318.4" stroke-width="3.6" fill="none" />
<path d="M349 1301 L361.1 1302.7 L361.1 1314.9 L349 1318.4 Z" stroke-width="2" fill="#000" />
<path d="M384.5 1252.4 L384.5 1287.1 L404.5 1290.6 L404.5 1252.4" stroke-width="3.6" fill="#fff" />
<ellipse cx="394.4" cy="1252.4" rx="9.9" ry="4.5" stroke-width="5" fill="#fff"/>
<path d="M390.6 1271.5 L390.6 1287.1 M397.5 1292.3 L397.5 1311.4 M406.2 1266.3 L406.2 1314.9 M413.1 1271.5 L413.1 1311.4" stroke-width="3.6" fill="none" />
<path d="M241.4 1335.7 L244.9 1330.5 L255.3 1332.2 L255.3 1339.2 L248.4 1342.6 Z" stroke-width="3.6" fill="#fff" />
<path d="M262.2 1337.4 L284.8 1334 L286.5 1342.6 M264 1327 L276.1 1323.6 L283.1 1327 M286.5 1328.8 L310.8 1327 L310.8 1321.8" stroke-width="3.6" fill="none" />
<ellipse cx="251.8" cy="1336.6" rx="3.1" ry="3.8" stroke-width="3" fill="none"/>
<path d="M253.6 1226.4 L254.4 1242 C264 1259.4 328.2 1259.4 336.8 1240.3 L337.7 1224.7" stroke-width="3.6" fill="#fff" />
<ellipse cx="295.2" cy="1224.7" rx="42" ry="21.7" stroke-width="3.6" fill="#fff"/>
<ellipse cx="295.2" cy="1224.3" rx="37.3" ry="18.2" stroke-width="2.6" fill="none"/>
<path d="M334.2 1209.1 L334.7 1227.3 M356.8 1209.1 L356.8 1233.4" stroke-width="3.6" fill="none" />
<ellipse cx="345.5" cy="1209.1" rx="11.3" ry="5.6" stroke-width="5.5" fill="#fff"/>
<ellipse cx="345.5" cy="1209.9" rx="6.6" ry="2.8" stroke-width="1" fill="#000"/>
<path d="M153.8 1348.2 L153.8 1503.1 C160.5 1526.7 194.2 1553.6 221.1 1563.7 L241.3 1570.5 L278.4 1568.8 L345.7 1553.6 L413 1526.7 C446.7 1506.5 466.9 1486.3 472 1466.1 L473.6 1324.7 L463.5 1294.4 L312 1344.9 L194.2 1351.6 Z" stroke-width="3.2" fill="#fff" />
<path d="M239.6 1570.5 L239.6 1582.3 L280 1582.3 L280 1568.8" stroke-width="3" fill="#fff" stroke-linejoin="round"/>
<path d="M402.9 1533.4 L413 1542.9 L433.2 1536.8 L433.2 1526.7" stroke-width="3" fill="none" stroke-linejoin="round"/>
<path d="M125.2 1291 C126.8 1274.2 143.7 1257.3 184.1 1243.9 L185.8 1250.6 C153.8 1260.7 136.9 1277.5 135.3 1294.4 C140.3 1317.9 170.6 1338.1 211 1343.2 C261.5 1348.2 345.7 1331.4 460.2 1291 L470.3 1301.1 L473.6 1324.7 C379.4 1365.1 278.4 1385.3 221.1 1378.6 C177.3 1371.8 153.8 1348.2 147 1324.7 C133.6 1314.6 126.8 1304.5 125.2 1291 Z" stroke-width="3.4" fill="#fff" />
<path d="M147 1324.7 C160.5 1348.2 204.3 1358.4 244.7 1355 C312 1348.2 379.4 1324.7 463.5 1294.4" stroke-width="3.2" fill="none" />
<path d="M429.9 1321.3 C433.2 1338.1 436.6 1351.6 443.3 1361.7 M460.2 1291 C446.7 1301.1 433.2 1304.5 429.9 1321.3" stroke-width="3" fill="none" />
<path d="M155.5 1378.6 C160.8 1382.2 172.6 1394.8 187.4 1400.4 C202.3 1406 229.5 1411.4 244.7 1412.2 C259.8 1413.1 261.5 1409.4 278.4 1405.5 C295.2 1401.6 323.2 1395.9 345.7 1388.7 C368.1 1381.4 392 1371.3 413 1361.7 C434.1 1352.2 462.1 1336.5 472 1331.4" stroke-width="3" fill="none" />
<path d="M155.5 1405.5 C159.7 1408.3 169.8 1417.2 180.7 1422.3 C191.6 1427.5 204.8 1434.8 221.1 1436.5 C237.4 1438.1 257.6 1436.5 278.4 1432.4 C299.1 1428.4 323.2 1420.1 345.7 1412.2 C368.1 1404.4 391.8 1394.3 413 1385.3 C434.2 1376.3 463 1362.8 473 1358.4" stroke-width="3" fill="none" />
<path d="M187.4 1368.5 C193.1 1371.8 206.5 1385.2 221.1 1388.7 C235.7 1392.1 266 1389.2 275 1389.3" stroke-width="3" fill="none" />
<path d="M157.1 1351.6 C160.5 1356.1 173.1 1370.7 177.3 1378.6 C181.5 1386.4 182.1 1390.9 182.4 1398.8 C182.7 1406.6 179.6 1421.2 179 1425.7" stroke-width="3" fill="none" />
<path d="M275 1388.7 L280 1568.8 M180 1422.3 L179 1536.8 M219.4 1436.5 L219.4 1563.7" stroke-width="3" fill="none" />
<line x1="221.1" y1="1439.2" x2="278.4" y2="1434.1" stroke-width="2.4" stroke-linecap="round"/>
<path d="M281.7 1476.2 L414.7 1437.5 L414.7 1499.8 L283.4 1535.1 Z" stroke-width="2" fill="none" stroke-linejoin="round"/>
<ellipse cx="160.5" cy="1447.6" rx="2.7" ry="6.1" stroke-width="2" fill="#000"/>
<ellipse cx="209.3" cy="1489.7" rx="4" ry="5.4" stroke-width="3.4" fill="none"/>
<path d="M472 1388.7 C473.6 1378.6 477 1371.8 480.4 1373.5 M473.6 1331.4 L480.4 1317.9 L493.8 1307.8" stroke-width="3.2" fill="none" />
</g>
<g id="11_part26" stroke="#000" fill="none" stroke-linejoin="round" stroke-linecap="round">
<path d="M1632.5 962 L1632.5 1205 L1652 1205 L1652 962 Z" fill="#fff" stroke-width="2.8"/>
<path d="M1648.5 965 L1648.5 1205" stroke-width="4"/>
<path d="M1632.5 1205 L1632.5 1226 Q1642 1236 1652 1226 L1652 1205 M1632.5 1212 Q1642 1219 1652 1212" fill="#fff" stroke-width="3"/>
<path d="M1625.5 950 L1625.5 962 Q1642 974 1658.5 962 L1658.5 950" fill="#fff" stroke-width="3.2"/>
<ellipse cx="1642" cy="950" rx="16.5" ry="6.5" stroke-width="3.4" fill="#fff"/>
<ellipse cx="1642" cy="950" rx="8" ry="3" stroke-width="3" fill="none"/>
<path d="M1667.8 1130.2 L1667.8 1284.1 L1742.5 1273.6 L1742.5 1130.2" stroke-width="3" fill="#fff" />
<ellipse cx="1705.1" cy="1130.2" rx="37.3" ry="15.3" stroke-width="3" fill="#fff"/>
<path d="M1671.5 1134.2 C1678.8 1152.6 1731.4 1152.6 1739.3 1134.2" stroke-width="2.4" fill="none" />
<ellipse cx="1703.8" cy="1131" rx="9.5" ry="4.7" stroke-width="4" fill="none"/>
<line x1="1671.5" y1="1134.2" x2="1671.5" y2="1281.5" stroke-width="2" stroke-linecap="round"/>
<path d="M1559.2 1318.3 L1668.3 1284.1 L1757.7 1273.1 L1761.7 1397.2 L1739.3 1401.2 L1607.8 1413 Z" stroke-width="3.2" fill="#fff" />
<path d="M1559.2 1318.3 C1607.8 1297.3 1686.7 1281.5 1739.3 1273.6" stroke-width="5.5" fill="none" />
<path d="M1681.5 1278.9 L1755.1 1273.6 L1755.1 1284.1" stroke-width="3" fill="none" />
<path d="M1744.6 1449.8 L1810.3 1428.8 L1852.4 1405.1 L1870.8 1428.8 L1870.8 1468.2 L1857.7 1481.4 L1856.4 1510.3 L1778.8 1541.9 L1744.6 1552.4 Z" stroke-width="3.2" fill="#fff" />
<path d="M1761.7 1399.8 L1794.6 1430.1 M1744.6 1453.8 L1807.7 1432.7 L1807.7 1520.8 M1818.2 1439.3 L1818.2 1518.2 M1776.1 1481.4 L1776.1 1541.9 M1778.8 1478.7 L1807.7 1468.2" stroke-width="3.2" fill="none" />
<path d="M1814.3 1428.8 L1814.3 1468.2 C1818.2 1481.4 1865.6 1481.4 1870.8 1468.2 L1870.8 1428.8" stroke-width="3.2" fill="#fff" />
<ellipse cx="1842.4" cy="1428.8" rx="28.1" ry="13.2" stroke-width="3.2" fill="#fff"/>
<ellipse cx="1841.9" cy="1430.1" rx="18.4" ry="8.9" stroke-width="3.2" fill="none"/>
<path d="M1823.5 1481.4 L1823.5 1515.6 M1856.4 1481.4 L1856.4 1510.3 M1778.8 1510.3 L1807.7 1499.8" stroke-width="3" fill="none" />
<ellipse cx="1794.6" cy="1482.7" rx="10" ry="5.3" stroke-width="3.2" fill="none"/>
<ellipse cx="1795.1" cy="1481.4" rx="5.3" ry="2.6" stroke-width="3" fill="none"/>
<path d="M1786.7 1486.6 L1786.7 1494.5 C1789.3 1499.8 1802.4 1498.5 1805.1 1493.2" stroke-width="3" fill="none" />
<path d="M1498.7 1376.2 L1498.7 1468.2 C1500 1510.3 1502.6 1541.9 1515.8 1555 C1528.9 1568.2 1581.5 1573.4 1618.3 1565.5 L1618.3 1413 L1607.8 1413 L1603.9 1352.5 C1599.9 1336.7 1586.8 1331.5 1555.2 1315.7 L1528.9 1284.1 L1515.8 1280.2 L1506.5 1294.6 L1500 1336.7 Z" stroke-width="3.2" fill="#fff" />
<path d="M1506.5 1299.9 C1523.6 1315.7 1560.5 1323.6 1592 1336.7 C1599.9 1342 1602.6 1347.2 1603.9 1352.5" stroke-width="4" fill="none" />
<path d="M1500 1384.1 C1515.8 1402.5 1568.4 1410.4 1605.2 1405.1 M1528.9 1518.2 L1597.3 1520.8" stroke-width="3" fill="none" />
<path d="M1506.5 1294.6 C1510.5 1281.5 1526.3 1276.2 1534.2 1289.4 M1513.1 1292 L1526.3 1294.6 L1536.8 1307.8 M1528.9 1299.9 L1555.2 1318.3" stroke-width="3" fill="none" />
<path d="M1510.5 1468.2 C1528.9 1481.4 1539.4 1510.3 1528.9 1531.4 L1510.5 1541.9" stroke-width="3.2" fill="#fff" />
<ellipse cx="1500" cy="1505" rx="23.1" ry="34.7" stroke-width="5" fill="#fff" transform="rotate(-8 1500 1505)"/>
<ellipse cx="1498.7" cy="1506.4" rx="16.3" ry="26.3" stroke-width="3.4" fill="none" transform="rotate(-8 1498.7 1506.4)"/>
<ellipse cx="1497.3" cy="1507.7" rx="10.5" ry="18.9" stroke-width="3" fill="none" transform="rotate(-8 1497.3 1507.7)"/>
<ellipse cx="1495.2" cy="1509" rx="5.8" ry="11.8" stroke-width="3.4" fill="none" transform="rotate(-8 1495.2 1509)"/>
<path d="M1597.3 1413 L1621 1406.4 L1739.3 1401.2 L1744.6 1534 L1744.6 1552.4 L1660.4 1568.2 L1613.1 1562.9 L1613.1 1536.6 L1597.3 1528.7 Z" stroke-width="3.4" fill="#fff" />
<path d="M1603.9 1418.3 C1634.1 1426.1 1686.7 1415.6 1739.3 1405.1" stroke-width="5" fill="none" />
<path d="M1635.4 1423.5 L1639.4 1501.1 L1740.6 1478.7 L1739.3 1405.1" stroke-width="3.2" fill="none" />
<path d="M1667 1402.5 L1667 1568.2 M1740.6 1402.5 L1743.3 1547.1 M1603.9 1419.6 L1603.9 1531.4 M1660.4 1531.4 L1660.4 1568.2 M1689.3 1536.6 L1689.3 1560.3 M1618.3 1541.9 L1657.8 1547.1" stroke-width="2.6" fill="none" />
<path d="M1603.9 1531.4 L1660.4 1541.9 L1744.6 1518.2 M1613.1 1536.6 L1655.2 1544.5 M1670.9 1398.5 L1688 1396.7 L1688 1407.7 M1673.6 1402.5 L1684.1 1414.3" stroke-width="3" fill="none" />
<path d="M1749.8 1520.8 L1749.8 1552.4 M1692 1536.6 L1739.3 1526.1" stroke-width="4" fill="none" />
<ellipse cx="1841.9" cy="1148.7" rx="21.6" ry="11.3" stroke-width="5.5" fill="#fff"/>
<ellipse cx="1841.9" cy="1150" rx="17.9" ry="8.4" stroke-width="3" fill="none"/>
<path d="M1855 1139.5 L1862.9 1139.5 L1868.2 1147.3" stroke-width="5" fill="none" />
<ellipse cx="1841.4" cy="1205.7" rx="26.8" ry="14.5" stroke-width="3.2" fill="#fff"/>
<ellipse cx="1841.4" cy="1206.5" rx="17.4" ry="8.9" stroke-width="3.2" fill="none"/>
<path d="M1813 1260.4 L1813 1294.6 C1818.2 1310.4 1865.6 1310.4 1872.1 1294.6 L1872.1 1260.4" stroke-width="3.4" fill="#fff" />
<path d="M1813 1284.1 C1818.2 1299.9 1865.6 1299.9 1872.1 1284.1" stroke-width="3.4" fill="none" />
<ellipse cx="1842.4" cy="1260.4" rx="29.5" ry="14.7" stroke-width="4" fill="#fff"/>
<ellipse cx="1842.4" cy="1261.8" rx="18.9" ry="9.5" stroke-width="4" fill="#fff"/>
<line x1="1816.9" y1="1271" x2="1816.9" y2="1292" stroke-width="3.4" stroke-linecap="round"/>
<line x1="1823.5" y1="1274.1" x2="1823.5" y2="1295.2" stroke-width="3.4" stroke-linecap="round"/>
<line x1="1831.4" y1="1274.1" x2="1831.4" y2="1295.2" stroke-width="3.4" stroke-linecap="round"/>
<line x1="1840.6" y1="1274.1" x2="1840.6" y2="1295.2" stroke-width="3.4" stroke-linecap="round"/>
<line x1="1849.8" y1="1274.1" x2="1849.8" y2="1295.2" stroke-width="3.4" stroke-linecap="round"/>
<line x1="1859" y1="1274.1" x2="1859" y2="1295.2" stroke-width="3.4" stroke-linecap="round"/>
<line x1="1866.9" y1="1271" x2="1866.9" y2="1292" stroke-width="3.4" stroke-linecap="round"/>
<path d="M1835.3 1257.8 L1835.3 1267 M1841.9 1257.3 L1841.9 1268.3 M1848.5 1257.8 L1848.5 1267 M1836.6 1302.5 L1836.6 1307.8 M1855 1299.9 L1855 1305.2" stroke-width="3.4" fill="none" />
<ellipse cx="1841.4" cy="1353" rx="26.8" ry="13.9" stroke-width="4.5" fill="#fff"/>
<ellipse cx="1841.4" cy="1353.8" rx="17.4" ry="8.4" stroke-width="3.4" fill="none"/>
<ellipse cx="1840.6" cy="1562.1" rx="17.4" ry="9.5" stroke-width="3.6" fill="#fff"/>
<ellipse cx="1840.1" cy="1561.6" rx="6.8" ry="3.7" stroke-width="2" fill="#000"/>
<path d="M1823.5 1564.2 C1828.7 1573.4 1852.4 1573.4 1857.7 1564.2" stroke-width="3" fill="none" />
<path d="M1844.5 1484 L1843 1531 L1813 1542 L1813 1722" stroke-width="4" stroke-dasharray="24 8 5 8" fill="none" stroke-linecap="butt"/>
<ellipse cx="1839.3" cy="1631.6" rx="11.2" ry="5.1" stroke-width="3" fill="#fff"/>
<ellipse cx="1839.3" cy="1629.6" rx="7.1" ry="2.6" stroke-width="2.4" fill="none"/>
<path d="M1833.7 1610.2 L1833.7 1628.1 L1844.9 1628.1 L1844.9 1610.2 C1841.8 1606.1 1836.7 1606.1 1833.7 1610.2 Z" stroke-width="3" fill="#fff" />
<ellipse cx="1812" cy="1743" rx="19" ry="19" stroke-width="4.2" fill="#fff"/>
<line x1="1800.2" y1="1731.2" x2="1823.8" y2="1754.8" stroke-width="4.2" stroke-linecap="butt"/>
<line x1="1800.2" y1="1754.8" x2="1823.8" y2="1731.2" stroke-width="4.2" stroke-linecap="butt"/>
</g>
<g id="12_knob_wires" stroke="#000" fill="none" stroke-linejoin="round" stroke-linecap="round">
<path d="M1323.8 1555.8 L1346 1549.7 L1349.8 1552.8 L1352.9 1563.5 L1351.3 1572.7 L1329.9 1578.8 Z" stroke-width="3.2" fill="#fff" />
<path d="M1185.3 1551.2 C1186.3 1541 1187.4 1540.4 1190.6 1535.9 C1193.8 1531.5 1198.5 1527.6 1204.4 1524.4 C1210.3 1521.3 1218.9 1518.3 1225.8 1516.8 C1232.7 1515.3 1240.1 1514.6 1245.7 1515.3 C1251.3 1515.9 1254.4 1517.9 1259.5 1520.6 C1264.6 1523.3 1271.7 1529 1276.3 1531.3 C1280.9 1533.6 1281.7 1533.4 1287 1534.4 C1292.4 1535.4 1303.1 1534.6 1308.5 1537.5 C1313.8 1540.3 1316.1 1546.4 1319.2 1551.2 C1322.3 1556.1 1325.2 1561.4 1326.8 1566.5 C1328.5 1571.6 1328.9 1576.7 1329.1 1581.8 C1329.4 1586.9 1329 1593.6 1328.4 1597.1 C1327.7 1600.7 1328.4 1600.7 1325.3 1603.3 C1322.3 1605.8 1313.6 1609.4 1310 1612.5 C1306.4 1615.5 1305.9 1617 1303.9 1621.6 C1301.8 1626.2 1300.1 1634.9 1297.8 1640 C1295.5 1645.1 1293.7 1649.2 1290.1 1652.3 C1286.5 1655.3 1281.7 1656.5 1276.3 1658.4 C1271 1660.3 1264.1 1662.2 1258 1663.7 C1251.8 1665.3 1244.2 1667.3 1239.6 1667.6 C1235 1667.8 1234.7 1667.6 1230.4 1665.3 C1226.1 1663 1218.9 1658.8 1213.6 1653.8 C1208.2 1648.8 1202.3 1641.3 1198.3 1635.4 C1194.2 1629.5 1191.4 1625 1189.1 1618.6 C1186.8 1612.2 1185.1 1608.4 1184.5 1597.1 C1183.9 1585.9 1184.2 1561.4 1185.3 1551.2 Z" stroke-width="3.2" fill="#fff" />
<path d="M1202.9 1528.3 C1207.2 1531.6 1221.7 1539.7 1228.9 1548.2 C1236 1556.6 1241.1 1568.1 1245.7 1578.8 C1250.3 1589.5 1254.1 1603 1256.4 1612.5 C1258.7 1621.9 1260.3 1629 1259.5 1635.4 C1258.7 1641.8 1254.6 1646.1 1251.8 1650.7 C1249 1655.3 1244.2 1660.9 1242.7 1663" stroke-width="3.4" fill="none" />
<path d="M1213.6 1522.9 C1217.9 1525.8 1232.2 1531.7 1239.6 1540.5 C1247 1549.3 1253.4 1563.7 1258 1575.7 C1262.6 1587.7 1265.9 1601.2 1267.1 1612.5 C1268.4 1623.7 1267.7 1634.7 1265.6 1643.1 C1263.6 1651.5 1256.7 1659.7 1254.9 1663" stroke-width="3.4" fill="none" />
<path d="M1235 1519.1 C1238.8 1522.4 1251.6 1529.5 1258 1539 C1264.3 1548.4 1269.4 1563.5 1273.3 1575.7 C1277.1 1588 1280.2 1601.2 1280.9 1612.5 C1281.7 1623.7 1279.6 1635.4 1277.9 1643.1 C1276.1 1650.7 1271.5 1655.8 1270.2 1658.4" stroke-width="5.5" fill="none" />
<path d="M1258 1522.1 C1261 1526.5 1271 1538.2 1276.3 1548.2 C1281.7 1558.1 1287 1571.1 1290.1 1581.8 C1293.2 1592.6 1294.2 1603.5 1294.7 1612.5 C1295.2 1621.4 1294.4 1628.8 1293.2 1635.4 C1291.9 1642 1288.1 1649.4 1287 1652.3" stroke-width="3.4" fill="none" />
<path d="M1188.3 1575.7 C1191.3 1578 1199.2 1585.7 1205.9 1589.5 C1212.7 1593.3 1221.2 1596.1 1228.9 1598.7 C1236.5 1601.2 1246.2 1601.7 1251.8 1604.8 C1257.5 1607.9 1260.5 1612.5 1262.6 1617 C1264.6 1621.6 1264.9 1627.8 1264.1 1632.4 C1263.3 1636.9 1260 1642 1258 1644.6 C1255.9 1647.2 1256.7 1648.2 1251.8 1647.7 C1247 1647.2 1236.5 1644.1 1228.9 1641.5 C1221.2 1639 1212 1635.4 1205.9 1632.4 C1199.8 1629.3 1194.4 1624.7 1192.1 1623.2" stroke-width="5" fill="none" />
<path d="M1261 1609.4 C1262 1611.4 1266.1 1617.3 1267.1 1621.6 C1268.2 1626 1268.4 1631.3 1267.1 1635.4 C1265.9 1639.5 1260.8 1644.3 1259.5 1646.1" stroke-width="5.5" fill="none" />
<path d="M1270.2 1531.3 C1274.8 1533.4 1292.1 1539.5 1297.8 1543.6 C1303.4 1547.7 1304.1 1550.5 1303.9 1555.8 C1303.6 1561.2 1294.7 1570.1 1296.2 1575.7 C1297.8 1581.3 1310.3 1585.9 1313.1 1589.5 C1315.9 1593.1 1314.6 1592 1313.1 1597.1 C1311.5 1602.3 1307.2 1611.4 1303.9 1620.1 C1300.6 1628.8 1295 1644.3 1293.2 1649.2" stroke-width="3.6" fill="none" />
<path d="M1285.5 1565 C1287 1567.8 1293.4 1575 1294.7 1581.8 C1296 1588.7 1293.2 1597.7 1293.2 1606.3 C1293.2 1615 1294.4 1629.3 1294.7 1633.9" stroke-width="3.6" fill="none" />
<path d="M1290.1 1575.7 C1291.1 1577.8 1295.5 1584.4 1296.2 1588 C1297 1591.5 1295 1595.6 1294.7 1597.1" stroke-width="3" fill="none" />
<path d="M1225.8 1516.8 C1228.1 1517.4 1234.2 1517.4 1239.6 1520.6 C1245 1523.8 1254.9 1533.4 1258 1535.9" stroke-width="3" fill="none" />
<ellipse cx="1372" cy="1551.2" rx="8.4" ry="23" stroke-width="3.2" fill="none" transform="rotate(-18 1372 1551.2)"/>
<ellipse cx="1377.8" cy="1550" rx="8.4" ry="23" stroke-width="3.2" fill="none" transform="rotate(-18 1377.8 1550)"/>
<ellipse cx="1383.6" cy="1548.8" rx="8.4" ry="23" stroke-width="3.2" fill="none" transform="rotate(-18 1383.6 1548.8)"/>
<ellipse cx="1389.5" cy="1547.6" rx="8.4" ry="23" stroke-width="3.2" fill="none" transform="rotate(-18 1389.5 1547.6)"/>
<ellipse cx="1395.3" cy="1546.3" rx="8.4" ry="23" stroke-width="3.2" fill="none" transform="rotate(-18 1395.3 1546.3)"/>
<ellipse cx="1373.5" cy="1550.9" rx="6.1" ry="18.4" stroke-width="3" fill="none" transform="rotate(-18 1373.5 1550.9)"/>
<path d="M1369.7 1572.7 L1394.2 1566.5" stroke-width="4" fill="none" />
<path d="M1539.8 1621.4 L1539.8 1658.7 A20.2 10.2 0 0 0 1580.1 1658.7 L1580.1 1621.4" stroke-width="3" fill="#fff" />
<ellipse cx="1559.9" cy="1621.4" rx="20.2" ry="10.2" stroke-width="3" fill="#fff"/>
<path d="M1539.8 1693.4 L1539.8 1729.1 A20.2 10.2 0 0 0 1580.1 1729.1 L1580.1 1693.4" stroke-width="3" fill="#fff" />
<ellipse cx="1559.9" cy="1693.4" rx="20.2" ry="10.2" stroke-width="3" fill="#fff"/>
<path d="M1688.8 1635.7 L1688.8 1684.2 A26 12.8 0 0 0 1740.8 1684.2 L1740.8 1635.7" stroke-width="3" fill="#fff" />
<ellipse cx="1714.8" cy="1635.7" rx="26" ry="12.8" stroke-width="3" fill="#fff"/>
<path d="M1688.8 1758.2 L1688.8 1806.6 A26.8 12.8 0 0 0 1742.3 1806.6 L1742.3 1758.2" stroke-width="3" fill="#fff" />
<ellipse cx="1715.6" cy="1758.2" rx="26.8" ry="12.8" stroke-width="3" fill="#fff"/>
<path d="M1689.8 1640.8 C1699 1653.6 1729.6 1653.6 1739.8 1640.8" stroke-width="2.4" fill="none" />
<path d="M1689.8 1763.3 C1699 1776 1729.6 1776 1741.3 1763.3" stroke-width="2.4" fill="none" />
<path d="M1540.8 1625.5 C1548.5 1635.7 1571.4 1635.7 1579.1 1625.5" stroke-width="2.2" fill="none" />
<path d="M1540.8 1696.9 C1548.5 1707.1 1571.4 1707.1 1579.1 1696.9" stroke-width="2.2" fill="none" />
<path d="M509.6 1523.9 L509.6 1697.8 C510.6 1700.2 515.4 1700.2 516.4 1697.8 L516.4 1523.9 C515.4 1521.9 510.6 1521.9 509.6 1523.9 Z" stroke-width="2.2" fill="#fff" />
<line x1="511.4" y1="1524.9" x2="511.4" y2="1696.8" stroke-width="1.2" stroke-linecap="round"/>
<path d="M511 1523.9 L511.6 1507.9 L514.4 1507.9 L515.2 1523.9" stroke-width="2" fill="#fff" />
<path d="M509 1697.8 L508.6 1713.8 L507.4 1727.8 L510.6 1730.8 L512 1723.8 L516 1724.8 L517.4 1713.8 L517 1697.8 Z" stroke-width="3" fill="#fff" />
<path d="M510.6 1701.8 L511 1713.8 M513.4 1699.8 L513.8 1715.8 M508.6 1714.8 L517.4 1714.8 M510 1705.8 L515.4 1708.8" stroke-width="3" fill="none" />
<path d="M550.3 1648.8 L550.3 1699.8 C551.3 1702.2 556.5 1702.2 557.5 1699.8 L557.5 1648.8 C556.5 1646.8 551.3 1646.8 550.3 1648.8 Z" stroke-width="2.2" fill="#fff" />
<line x1="552.1" y1="1649.8" x2="552.1" y2="1698.8" stroke-width="1.2" stroke-linecap="round"/>
<path d="M549.9 1699.8 L549.5 1715.8 L548.3 1729.8 L551.5 1732.7 L552.9 1725.8 L556.9 1726.8 L558.3 1715.8 L557.9 1699.8 Z" stroke-width="3" fill="#fff" />
<path d="M551.5 1703.8 L551.9 1715.8 M554.3 1701.8 L554.7 1717.8 M549.5 1716.8 L558.3 1716.8 M550.9 1707.8 L556.3 1710.8" stroke-width="3" fill="none" />
<path d="M546.9 1567.9 L546.9 1611.8 L549.9 1619.8 L549.9 1641.8 L556.9 1643.8 L556.9 1638.8 L563.9 1637.8 L563.9 1623.8 L559.9 1615.8 L556.9 1599.9 L556.9 1567.9 C554.9 1562.9 549.9 1562.9 546.9 1567.9 Z" stroke-width="3" fill="#fff" />
<path d="M551.9 1559.9 L551.5 1541.9 L553.5 1536.9 L556.9 1539.9 L556.9 1559.9 L554.9 1566.9" stroke-width="2" fill="#000" />
<path d="M556.9 1571.9 L561.9 1583.9 L558.9 1587.9 M549.9 1625.8 L561.9 1621.8 M552.9 1627.8 L552.9 1639.8" stroke-width="3" fill="none" />
<path d="M566.3 1513.9 L566.3 1713.8 C567.3 1716.2 572.5 1716.2 573.5 1713.8 L573.5 1513.9 C572.5 1511.9 567.3 1511.9 566.3 1513.9 Z" stroke-width="2.2" fill="#fff" />
<line x1="568.1" y1="1514.9" x2="568.1" y2="1712.8" stroke-width="1.2" stroke-linecap="round"/>
<line x1="567.5" y1="1639.8" x2="567.5" y2="1713.8" stroke-width="5.5" stroke-linecap="round"/>
<path d="M566.9 1499.9 L599.9 1489.9 L602.3 1495.9 L599.9 1502.9 L589.9 1506.3 L573.9 1503.9 L573.9 1519.9 L566.9 1519.9 Z" stroke-width="3.2" fill="#fff" />
<path d="M566.9 1501.9 L583.9 1495.9 L583.9 1503.9 M588.9 1495.9 L599.9 1493.5 M588.9 1500.9 L599.9 1498.3 M569.9 1507.9 L569.9 1519.9" stroke-width="3.4" fill="none" />
<path d="M610.9 1559.9 L610.9 1610.8 C611.9 1613.2 616.9 1613.2 617.9 1610.8 L617.9 1559.9 C616.9 1557.9 611.9 1557.9 610.9 1559.9 Z" stroke-width="2.2" fill="#fff" />
<line x1="612.7" y1="1560.9" x2="612.7" y2="1609.8" stroke-width="1.2" stroke-linecap="round"/>
<path d="M610.9 1634.8 L610.9 1685.8 C611.9 1688.2 616.9 1688.2 617.9 1685.8 L617.9 1634.8 C616.9 1632.8 611.9 1632.8 610.9 1634.8 Z" stroke-width="2.2" fill="#fff" />
<line x1="612.7" y1="1635.8" x2="612.7" y2="1684.8" stroke-width="1.2" stroke-linecap="round"/>
<path d="M610.3 1684.8 L609.9 1700.8 L608.7 1714.8 L611.9 1717.8 L613.3 1710.8 L617.3 1711.8 L618.7 1700.8 L618.3 1684.8 Z" stroke-width="3" fill="#fff" />
<path d="M611.9 1688.8 L612.3 1700.8 M614.7 1686.8 L615.1 1702.8 M609.9 1701.8 L618.7 1701.8 M611.3 1692.8 L616.7 1695.8" stroke-width="3" fill="none" />
<path d="M610.9 1539.9 L637.9 1528.9 L651.9 1531.9 L645.9 1541.9 L631.9 1544.9 L618.3 1542.9 L618.3 1559.9 L610.9 1559.9 Z" stroke-width="3.2" fill="#fff" />
<path d="M610.9 1541.9 L627.9 1535.9 L627.9 1543.9 M632.9 1535.9 L644.9 1533.5 M632.9 1540.9 L644.3 1538.3" stroke-width="3.4" fill="none" />
<path d="M610.9 1541.9 L617.9 1541.9 L617.9 1559.9 L610.9 1559.9 Z" stroke-width="2" fill="#000" stroke-linejoin="round"/>
<path d="M646.9 1480 L646.9 1525.5 C647.9 1527.9 652.5 1527.9 653.5 1525.5 L653.5 1480 C652.5 1478 647.9 1478 646.9 1480 Z" stroke-width="2.2" fill="#fff" />
<line x1="648.7" y1="1481" x2="648.7" y2="1524.5" stroke-width="1.2" stroke-linecap="round"/>
<path d="M646.9 1532.3 L646.9 1657.8 C647.9 1660.2 652.5 1660.2 653.5 1657.8 L653.5 1532.3 C652.5 1530.3 647.9 1530.3 646.9 1532.3 Z" stroke-width="2.2" fill="#fff" />
<line x1="648.7" y1="1533.3" x2="648.7" y2="1656.8" stroke-width="1.2" stroke-linecap="round"/>
<path d="M645.9 1657.8 L645.5 1673.8 L644.3 1687.8 L647.5 1690.8 L648.9 1683.8 L652.9 1684.8 L654.3 1673.8 L653.9 1657.8 Z" stroke-width="3" fill="#fff" />
<path d="M647.5 1661.8 L647.9 1673.8 M650.3 1659.8 L650.7 1675.8 M645.5 1674.8 L654.3 1674.8 M646.9 1665.8 L652.3 1668.8" stroke-width="3" fill="none" />
<path d="M644.3 1440 L656.9 1440 L656.9 1459 L644.3 1459 Z" stroke-width="2" fill="#000" stroke-linejoin="round"/>
<path d="M646.9 1460 L646.3 1478 L657.9 1479 L654.9 1470 L653.9 1460 Z" stroke-width="3" fill="#fff" />
<line x1="649.9" y1="1461" x2="649.9" y2="1478" stroke-width="3" stroke-linecap="round"/>
</g>
<g id="13_midlower" stroke="#000" fill="none" stroke-linejoin="round" stroke-linecap="round">
<path d="M1640.4 1888.4 L1640.4 1916.8 C1644.1 1945.2 1738.8 1945.2 1741.3 1916.8 L1741.3 1888.4" stroke-width="3.2" fill="#fff" />
<ellipse cx="1690.8" cy="1888.4" rx="50.5" ry="26.3" stroke-width="3.2" fill="#fff"/>
<ellipse cx="1690.8" cy="1889.4" rx="44.6" ry="22.3" stroke-width="2.4" fill="none"/>
<ellipse cx="1690.8" cy="1889.4" rx="32" ry="16.4" stroke-width="3.2" fill="none"/>
<ellipse cx="1690.8" cy="1888.8" rx="24.6" ry="12.2" stroke-width="4" fill="none"/>
<path d="M1640.4 1903.1 C1644.1 1930.5 1738.8 1930.5 1741.3 1903.1" stroke-width="2.4" fill="none" />
<ellipse cx="1691.5" cy="1994.6" rx="27.8" ry="15.1" stroke-width="5" fill="#fff"/>
<ellipse cx="1691.5" cy="1996.1" rx="22.7" ry="11.4" stroke-width="2.4" fill="none"/>
<path d="M1711.5 1981.4 L1716.7 1979.3 L1726.2 1985.1 L1727.2 1990.4 L1722 1991.5" stroke-width="5" fill="none" />
<path d="M1665.2 2048.2 L1665.2 2076.6 C1666.2 2079.8 1670.4 2079.8 1671.5 2076.6 L1671.5 2048.2 C1670.4 2045.1 1666.2 2045.1 1665.2 2048.2 Z" stroke-width="2.6" fill="#fff" />
<path d="M1612.6 2134.5 L1615.1 2151.3 C1623.1 2168.1 1648.3 2176.6 1652.6 2185 L1648.3 2208.1 C1652.6 2218.6 1677.8 2220.7 1684.1 2212.3 L1686.2 2193.4 L1740.9 2172.4 C1757.7 2163.9 1767.2 2151.3 1768.2 2134.5" stroke-width="3.4" fill="#fff" />
<ellipse cx="1690.4" cy="2134.5" rx="77.8" ry="36.8" stroke-width="3.4" fill="#fff"/>
<path d="M1615.1 2149.2 C1629.4 2168.1 1686.2 2176.6 1728.3 2168.1 C1749.3 2162.9 1761.9 2153.4 1767.2 2142.9" stroke-width="3" fill="none" />
<path d="M1629.4 2163.9 L1652.6 2185 M1633.6 2176.6 L1648.3 2189.2 M1686.2 2185 L1740.9 2168.1 L1740.9 2172.4 M1629.4 2163.9 L1677.8 2156.6 L1707.2 2159.7" stroke-width="3.2" fill="none" />
<path d="M1661 2101.9 L1684.1 2097.7 L1719.9 2099.8 L1749.3 2111.4 L1768.2 2134.5 L1764 2142.9 L1734.6 2140.8 C1730.4 2128.2 1719.9 2117.7 1707.2 2115.6 L1673.6 2117.7 L1673.6 2111.4 L1684.1 2100.8" stroke-width="3.4" fill="#fff" />
<path d="M1661 2101.9 L1644.1 2132.4 L1648.3 2151.3 M1658.9 2107.1 L1648.3 2134.5 M1734.6 2140.8 L1761.9 2151.3" stroke-width="3.4" fill="none" />
<ellipse cx="1691.5" cy="2142.9" rx="37.4" ry="20.2" stroke-width="3.4" fill="#fff"/>
<ellipse cx="1691.5" cy="2144" rx="26.9" ry="13.9" stroke-width="4.5" fill="#fff"/>
<path d="M1655.7 2145 C1661 2163.9 1719.9 2165 1728.3 2145" stroke-width="2.6" fill="none" />
<ellipse cx="1720.9" cy="2109.7" rx="6.3" ry="3.2" stroke-width="3.4" fill="none"/>
<ellipse cx="1627.7" cy="2136.6" rx="6.3" ry="3.2" stroke-width="3.4" fill="none"/>
<ellipse cx="1720.9" cy="2162.3" rx="6.3" ry="3.2" stroke-width="3.4" fill="none"/>
<path d="M1733.5 2116.6 L1744.1 2112.4 L1751.4 2116.6 L1750.4 2121.9 L1740.9 2125 L1733.5 2120.8 Z" stroke-width="3.6" fill="#fff" stroke-linejoin="round"/>
<path d="M1733.5 2116.6 L1742 2119.8 L1751.4 2116.6" stroke-width="3" fill="none" stroke-linejoin="round"/>
<path d="M1630.5 2146.5 L1641 2142.3 L1648.3 2146.5 L1647.3 2151.7 L1637.8 2154.9 L1630.5 2150.7 Z" stroke-width="3.6" fill="#fff" stroke-linejoin="round"/>
<path d="M1630.5 2146.5 L1638.9 2149.6 L1648.3 2146.5" stroke-width="3" fill="none" stroke-linejoin="round"/>
<path d="M1652.6 2185 L1654.7 2174.5 L1661 2168.1 L1673.6 2169.2 L1677.8 2176.6 L1686.2 2193.4" stroke-width="3.4" fill="#fff" />
<path d="M1658.9 2172.4 L1666.2 2169.2 L1674.6 2172.4 L1673.6 2178.7 L1666.2 2181.8 L1658.9 2178.2 Z" stroke-width="3.6" fill="#fff" stroke-linejoin="round"/>
<ellipse cx="1665.2" cy="2202.2" rx="12.6" ry="13" stroke-width="4" fill="#fff"/>
<ellipse cx="1631.3" cy="2271.5" rx="14" ry="14.5" stroke-width="2" fill="#000" transform="rotate(20 1631.3 2271.5)"/>
<g stroke="#fff">
<path d="M1626.5 2266.6 L1631.3 2268.6 M1630.1 2272.7 L1635.7 2271 M1627.7 2277.5 L1632.5 2276.3" stroke-width="1.4" fill="none" />
</g>
<path d="M1604.7 2309 C1609.5 2306.5 1616.8 2309 1618 2315 L1609.5 2336.8 L1610.7 2344 L1599.8 2350.1 L1597.4 2356.1 C1592.6 2358.6 1585.3 2356.1 1584.1 2350.1 L1587.7 2334.4 L1597.4 2329.5 Z" stroke-width="3.2" fill="#fff" />
<path d="M1589 2335.6 C1595 2331.9 1604.7 2335.6 1610 2341.6 M1586.5 2344 C1592.6 2341.6 1597.4 2344 1599.8 2350.1 M1597.4 2329.5 C1602.3 2330.7 1607.1 2333.2 1609.5 2336.8 M1603.5 2312.6 C1608.3 2312.6 1613.2 2315 1615.6 2319.8" stroke-width="3" fill="none" />
<ellipse cx="1590.9" cy="2352.5" rx="4.8" ry="3.4" stroke-width="3" fill="none"/>
<path d="M1535.7 2390 L1541.8 2381.5 L1563.6 2380.3 L1585.3 2386.4 L1587.7 2397.3 L1585.3 2414.2 C1578.1 2423.9 1558.7 2426.3 1551.5 2421.5 C1541.8 2416.6 1535.7 2404.5 1535.7 2390 Z" stroke-width="3.4" fill="#fff" />
<path d="M1536.9 2390 C1546.6 2394.9 1568.4 2394.9 1586.5 2391.2" stroke-width="5.5" fill="none" />
<path d="M1553.9 2385.2 L1563.6 2380.3 L1568.4 2385.2 L1575.6 2382.8 L1579.3 2388.1" stroke-width="4" fill="none" />
<ellipse cx="1559.9" cy="2409.4" rx="14" ry="12.1" stroke-width="3.4" fill="#fff"/>
<path d="M1546.6 2406.9 C1549 2397.3 1568.4 2394.9 1574.4 2406.9" stroke-width="3" fill="none" />
<ellipse cx="1721.3" cy="2269.5" rx="11.6" ry="4.8" stroke-width="3.2" fill="#fff"/>
<path d="M1716 2247.3 L1716 2264.2 L1726.9 2264.2 L1726.9 2247.3 C1725.7 2242.4 1717.2 2242.4 1716 2247.3 Z" stroke-width="3.2" fill="#fff" />
<path d="M1716 2250.9 C1718.4 2253.3 1724.5 2253.3 1726.9 2250.9 M1717.2 2244.8 C1719.6 2246.8 1723.2 2246.8 1725.7 2244.8" stroke-width="3" fill="none" />
<path d="M1677.3 2515.8 L1674.1 2569.1 L1674.9 2582.4 C1679.7 2589.6 1706.3 2589.6 1711.1 2579.9 L1711.1 2569.1 L1707.5 2515.8" stroke-width="3.4" fill="#fff" />
<ellipse cx="1692.3" cy="2515.8" rx="15" ry="7.3" stroke-width="3.4" fill="#fff"/>
<path d="M1678.5 2518.2 C1682.1 2525.5 1703.9 2525.5 1706.8 2518.2" stroke-width="2.4" fill="none" />
<path d="M1699.5 2531.6 L1701.5 2569.1 M1679.7 2523.1 L1677.3 2569.1" stroke-width="3.4" fill="none" />
<path d="M1674.1 2569.1 C1679.7 2575.1 1706.3 2575.1 1711.1 2569.1 M1674.9 2575.1 C1679.7 2581.2 1706.3 2581.2 1711.1 2575.1" stroke-width="3.6" fill="none" />
<path d="M1665.2 2651.3 L1665.2 2673.1 C1670 2687.6 1716 2687.6 1720.8 2673.1 L1720.8 2651.3" stroke-width="3.4" fill="#fff" />
<path d="M1659.8 2629.5 L1661.5 2639.2 L1674.9 2655 L1711.1 2653.7 L1724.5 2639.2 L1725.7 2629.5" stroke-width="3.6" fill="#fff" />
<path d="M1674.9 2639.2 L1674.9 2655 M1711.1 2638 L1711.1 2653.7" stroke-width="3.4" fill="none" />
<ellipse cx="1692.3" cy="2629.5" rx="32.9" ry="16" stroke-width="5" fill="#fff"/>
<ellipse cx="1692.3" cy="2630.8" rx="23.7" ry="11.1" stroke-width="4" fill="#fff"/>
<path d="M1674.9 2639.2 C1682.1 2632 1703.9 2632 1711.1 2638" stroke-width="3" fill="none" />
</g>
<g id="14_stator" stroke="#000" fill="none" stroke-linejoin="round" stroke-linecap="round">
<path d="M271 1852.4 C273.9 1855.6 280.2 1866.4 288.3 1871.4 C296.5 1876.4 310.7 1881.4 319.9 1882.4 C329.1 1883.5 335.7 1881.4 343.6 1877.7 C351.4 1874 361.7 1867.7 367.2 1860.3 C372.7 1853 375.1 1838 376.7 1833.5" stroke-width="3.4" fill="none" />
<path d="M280.4 1861.9 C284.4 1864.3 296.2 1873.2 304.1 1876.1 C312 1879 319.9 1880.6 327.8 1879.3 C335.7 1878 344.6 1873.2 351.4 1868.2 C358.3 1863.2 365.9 1852.4 368.8 1849.3" stroke-width="3" fill="none" />
<path d="M321.5 1884 L348.3 1877.7 L354.6 1882.4 L330.9 1891.9 Z" stroke-width="3.4" fill="#fff" stroke-linejoin="round"/>
<path d="M239.4 1617.4 L263.1 1611 L278.9 1623.7 L289.9 1626.8 C312 1634.7 327.8 1648.9 335.7 1666.3 L327.8 1682 L241 1710.4 L233.1 1694.7 C236.3 1663.1 244.2 1639.4 248.9 1634.7 Z" stroke-width="3.2" fill="#fff" />
<path d="M215.8 1669.4 C216.8 1665.7 218.6 1653.9 222.1 1647.3 C225.5 1640.8 232.1 1633.7 236.3 1630 C240.5 1626.3 245.5 1626 247.3 1625.2" stroke-width="7" fill="none" />
<path d="M236.3 1691.5 C236.8 1686.8 237.3 1672.6 239.4 1663.1 C241.5 1653.6 247.3 1639.4 248.9 1634.7" stroke-width="5" fill="none" />
<path d="M239.4 1617.4 L263.1 1611 L278.9 1623.7 L253.6 1633.9 Z" stroke-width="3.4" fill="#fff" stroke-linejoin="round"/>
<ellipse cx="260.7" cy="1621.3" rx="8.7" ry="5" stroke-width="2" fill="#000" transform="rotate(-15 260.7 1621.3)"/>
<path d="M252.8 1669.4 L283.6 1660 L283.6 1671 L254.4 1678.9 Z" stroke-width="3.2" fill="none" stroke-linejoin="round"/>
<path d="M274.1 1663.1 L280.4 1669.4" stroke-width="3" fill="none" stroke-linejoin="round"/>
<path d="M289.9 1626.8 C291 1629.7 292.5 1639.2 296.2 1644.2 C299.9 1649.2 306.7 1656 312 1656.8 C317.3 1657.6 325.1 1650.2 327.8 1648.9" stroke-width="3.2" fill="none" />
<path d="M296.2 1644.2 C298.3 1644.7 304.6 1644.7 308.8 1647.3 C313.1 1650 319.4 1657.9 321.5 1660" stroke-width="3" fill="none" />
<path d="M253.6 1633.9 C252.6 1638.8 249.4 1652.5 247.3 1663.1 C245.2 1673.8 242.1 1692 241 1697.8" stroke-width="3" fill="none" />
<path d="M241 1710.4 C244.2 1691.5 280.4 1675.7 319.9 1675.7 C359.3 1675.7 394 1691.5 394 1710.4 C390.9 1726.2 359.3 1735.7 327.8 1742 L264.7 1751.5 Z" stroke-width="3.2" fill="#fff" />
<path d="M264.7 1726.2 C269.9 1722.3 283.1 1708.3 296.2 1702.6 C309.4 1696.8 330.4 1692.8 343.6 1691.5 C356.7 1690.2 367.2 1692.8 375.1 1694.7 C383 1696.5 388.3 1701.2 390.9 1702.6" stroke-width="3.2" fill="none" />
<path d="M261.5 1724.6 C264.7 1721.8 273.1 1713.3 280.4 1707.3 C287.8 1701.2 301.5 1691.5 305.7 1688.4" stroke-width="6" fill="none" />
<path d="M280.4 1731 C285.7 1728.1 300.2 1718.6 312 1713.6 C323.8 1708.6 339.6 1703.1 351.4 1701 C363.3 1698.9 377.7 1701 383 1701" stroke-width="3" fill="none" />
<path d="M305.7 1688.4 L321.5 1678.9 L348.3 1682 L353 1689.9 L330.9 1696.2 L316.7 1685.2 Z" stroke-width="3.6" fill="#fff" stroke-linejoin="round"/>
<ellipse cx="334.1" cy="1682.8" rx="7.9" ry="5.5" stroke-width="2" fill="#000"/>
<path d="M313.6 1663.1 L335.7 1666.3 L335.7 1678.9 L313.6 1675.7" stroke-width="3" fill="none" stroke-linejoin="round"/>
<path d="M327.8 1648.9 C331.7 1649.4 344.9 1647.6 351.4 1652.1 C358 1656.5 361.2 1669.7 367.2 1675.7 C373.3 1681.8 384.3 1686.3 387.7 1688.4" stroke-width="3.2" fill="none" />
<path d="M349.1 1637.9 L372 1633.9 L375.1 1652.1 L365.6 1655.2 L365.6 1675.7 L354.6 1677.3 L351.4 1652.1 Z" stroke-width="3.6" fill="#fff" />
<path d="M354.6 1641 L355.4 1652.1 M360.9 1639.4 L361.7 1650.5 M367.2 1637.9 L368 1650.5 M351.4 1652.1 L375.1 1652.1 M357.8 1655.2 L357.8 1675.7" stroke-width="4.5" fill="none" />
<path d="M381.4 1664.7 L397.2 1658.4 L401.9 1660 L401.9 1691.5 L390.9 1694.7 L390.9 1710.4 L381.4 1713.6 Z" stroke-width="3.6" fill="#fff" />
<path d="M384.6 1666.3 L384.6 1688.4 M381.4 1688.4 L397.2 1685.2 M397.2 1660 L397.2 1691.5" stroke-width="3.4" fill="none" />
<path d="M375.1 1723.1 C377.2 1721 384.6 1715.2 387.7 1710.4 C390.9 1705.7 393 1697.3 394 1694.7" stroke-width="5" fill="none" />
<path d="M367.2 1719.9 C369.3 1718.3 376.2 1714.1 379.8 1710.4 C383.5 1706.8 387.7 1699.9 389.3 1697.8" stroke-width="3" fill="none" />
<path d="M192.9 1682 L209.4 1669.4 L217.3 1678.9 L217.3 1701 L241 1707.3 L244.2 1724.6 L239.4 1737.3 L223.6 1738.8 L196 1716.8 Z" stroke-width="3.4" fill="#fff" />
<path d="M196.8 1683.6 L196.8 1702.6 M203.1 1678.9 L203.9 1710.4 M209.4 1671 L210.2 1701 M203.9 1697.8 L217.3 1701 M207.9 1710.4 L225.2 1713.6 M225.2 1713.6 L226.8 1737.3 M217.3 1719.9 L220.5 1724.6 M196.8 1688.4 L203.1 1688.4" stroke-width="3.4" fill="none" />
<path d="M231.5 1694.7 C232.6 1693.6 236.3 1686.3 237.8 1688.4 C239.4 1690.5 240.5 1704.1 241 1707.3" stroke-width="6" fill="none" />
<path d="M196 1716.8 L223.6 1738.8 L223.6 1835.1 L196 1811.4 Z" stroke-width="3.2" fill="#fff" stroke-linejoin="round"/>
<path d="M223.6 1738.8 L231.5 1742 L296.2 1754.6 L296.2 1849.3 L233.1 1836.7 L223.6 1835.1 Z" stroke-width="3.2" fill="#fff" stroke-linejoin="round"/>
<path d="M302.5 1753 L381.4 1731 L387.7 1727.8 L398 1716.8 L398 1817.7 L387.7 1820.9 L381.4 1824 L302.5 1844.6 Z" stroke-width="3.2" fill="#fff" stroke-linejoin="round"/>
<path d="M296.2 1751.5 L303.3 1751.5 L303.3 1846.1 L296.2 1849.3 Z" stroke-width="2" fill="#000" stroke-linejoin="round"/>
<path d="M380.6 1731 L387.7 1727.8 L387.7 1820.9 L380.6 1824 Z" stroke-width="2" fill="#000" stroke-linejoin="round"/>
<line x1="228.4" y1="1740.4" x2="228.4" y2="1835.9" stroke-width="2.2" stroke-linecap="round"/>
<line x1="231.8" y1="1742" x2="231.8" y2="1836.7" stroke-width="2.4" stroke-linecap="round"/>
<path d="M231.5 1743.6 C237.1 1744.9 254.9 1750 264.7 1751.5 C274.4 1752.9 285.7 1752.1 289.9 1752.3" stroke-width="6" fill="none" />
<path d="M302.5 1749.9 L387.7 1726.2" stroke-width="4" fill="none" />
<path d="M304.1 1753.8 L380.6 1733.3" stroke-width="2.2" fill="none" />
<path d="M233.1 1836.7 C238.4 1838.2 254.1 1843.9 264.7 1846.1 C275.2 1848.4 291 1849.4 296.2 1850.1" stroke-width="4" fill="none" />
<path d="M239.4 1726.2 L245.7 1724.6 L245.7 1737.3 L289.9 1745.2 L289.9 1738.8 L305.7 1735.7 L305.7 1749.9" stroke-width="3.4" fill="none" stroke-linejoin="round"/>
<path d="M318.3 1734.1 L356.2 1719.9 L359.3 1726.2 L321.5 1740.4 Z" stroke-width="3.4" fill="#fff" stroke-linejoin="round"/>
<path d="M327.8 1734.1 L353 1724.6 M365.6 1724.6 L365.6 1719.9 M365.6 1719.9 L379.8 1716.8 M307.3 1738.8 L316.7 1736.5" stroke-width="4" fill="none" />
<path d="M316.7 1846.1 L356.2 1835.1 L362.5 1846.1 L324.6 1858.8 Z" stroke-width="3.6" fill="#fff" stroke-linejoin="round"/>
<path d="M329.4 1847.7 L343.6 1843.8 L345.1 1849.3 L330.9 1852.4" stroke-width="3.2" fill="none" stroke-linejoin="round"/>
<path d="M346.7 1836.7 L356.2 1846.1 M316.7 1846.1 L321.5 1854" stroke-width="3.4" fill="none" />
<path d="M387.7 1820.9 L398 1817.7 L397.2 1809.8" stroke-width="3" fill="none" stroke-linejoin="round"/>
<path d="M366.3 1880.6 L366.3 2003.1 L380.1 2003.1 L380.1 1880.6 C377.6 1874.5 368.4 1874.5 366.3 1880.6 Z" stroke-width="3" fill="#fff" />
<ellipse cx="373" cy="2007.1" rx="12.2" ry="6.1" stroke-width="4" fill="#fff"/>
<ellipse cx="373" cy="1879.6" rx="6.1" ry="2.6" stroke-width="2" fill="#000"/>
<ellipse cx="297.4" cy="2008.2" rx="32.1" ry="15.8" stroke-width="4" fill="#fff"/>
<ellipse cx="297.4" cy="2009.2" rx="24.5" ry="11.2" stroke-width="3" fill="none"/>
<path d="M265.3 2102.6 L265.3 2120.4 C270.4 2140.8 326.5 2140.8 330.6 2120.4 L330.6 2102.6" stroke-width="3.2" fill="#fff" />
<ellipse cx="298" cy="2102.6" rx="32.7" ry="15.3" stroke-width="4" fill="#fff"/>
<ellipse cx="298" cy="2103.6" rx="21.4" ry="9.7" stroke-width="3.2" fill="none"/>
<ellipse cx="298" cy="2104.1" rx="13.3" ry="5.6" stroke-width="3" fill="none"/>
<path d="M265.3 2112.8 C273 2130.6 324 2130.6 330.6 2112.8" stroke-width="2.4" fill="none" />
</g>
<g id="15_armature" stroke="#000" fill="none" stroke-linejoin="round" stroke-linecap="round">
<path d="M275.8 2514.6 L275.8 2535 C279.2 2548.6 317.6 2548.6 322.2 2535 L322.2 2514.6" stroke-width="3.2" fill="#fff" />
<path d="M273.5 2446.7 L273.5 2514.6 C276.9 2523.7 319.9 2523.7 323.3 2514.6 L323.3 2446.7" stroke-width="3.2" fill="#fff" />
<path d="M273.5 2446.7 C279.2 2455.8 317.6 2455.8 323.3 2446.7 M273.5 2476.2 C279.2 2485.2 317.6 2485.2 323.3 2476.2" stroke-width="4.5" fill="none" />
<ellipse cx="309.7" cy="2493.1" rx="6.3" ry="6.8" stroke-width="3.4" fill="none" transform="rotate(20 309.7 2493.1)"/>
<line x1="307.5" y1="2496.5" x2="313.1" y2="2489.7" stroke-width="2.4" stroke-linecap="round"/>
<path d="M272.4 2417.3 L272.4 2440 C276.9 2449 319.9 2449 324.4 2440 L324.4 2417.3" stroke-width="3.4" fill="#fff" />
<path d="M279.2 2421.9 L279.2 2444.5 M290.5 2426.4 L290.5 2446.7 M304.1 2426.4 L304.1 2446.7 M317.6 2421.9 L317.6 2443.3" stroke-width="3.4" fill="none" />
<path d="M272.4 2433.2 C279.2 2442.2 317.6 2442.2 324.4 2433.2 M290.5 2433.2 L297.3 2428.6 L304.1 2433.2" stroke-width="3" fill="none" />
<path d="M240.7 2360.8 C245.2 2383.4 258.8 2406 272.4 2417.3 C286 2426.4 308.6 2426.4 324.4 2417.3 C335.7 2406 351.6 2383.4 355.7 2360.8 Z" stroke-width="3.2" fill="#fff" />
<path d="M240.7 2268 L240.7 2360.8 C256.6 2394.7 340.3 2394.7 355.7 2360.8 L355.7 2265.7 Z" stroke-width="3.2" fill="#fff" />
<path d="M248.6 2279.3 L248.6 2374.3 M267.9 2288.4 L267.9 2383.4 M274.7 2289.5 L274.7 2384.5 M295 2291.8 L295 2386.8 M301.8 2291.8 L301.8 2386.8 M323.3 2289.5 L323.3 2384.5 M330.1 2288.4 L330.1 2382.9 M348.2 2277.1 L348.2 2373.2" stroke-width="3" fill="none" />
<path d="M244.1 2272.5 L244.1 2365.3 M352 2270.3 L352 2366.4" stroke-width="2" fill="none" />
<path d="M240.7 2360.8 C256.6 2394.7 340.3 2394.7 355.7 2360.8" stroke-width="3.4" fill="none" />
<ellipse cx="260" cy="2383.4" rx="3.2" ry="3.2" stroke-width="1" fill="#000"/>
<ellipse cx="283.7" cy="2389" rx="3.2" ry="3.2" stroke-width="1" fill="#000"/>
<ellipse cx="309.7" cy="2389" rx="3.2" ry="3.2" stroke-width="1" fill="#000"/>
<ellipse cx="334.6" cy="2383.4" rx="3.2" ry="3.2" stroke-width="1" fill="#000"/>
<path d="M254.3 2231.8 C245.2 2247.6 241.9 2259 241.9 2268 C256.6 2299.7 340.3 2299.7 355 2265.7 C353.8 2256.7 349.3 2245.4 340.3 2231.8 Z" stroke-width="3.2" fill="#fff" />
<path d="M241.9 2268 C256.6 2299.7 340.3 2299.7 355 2265.7" stroke-width="3.6" fill="none" />
<path d="M244.8 2263 L250.2 2263 L250.2 2268.5 L244.8 2268.5 Z" stroke-width="1" fill="#000" stroke-linejoin="round"/>
<path d="M257.2 2275.5 L262.7 2275.5 L262.7 2280.9 L257.2 2280.9 Z" stroke-width="1" fill="#000" stroke-linejoin="round"/>
<path d="M282.1 2283.4 L287.6 2283.4 L287.6 2288.8 L282.1 2288.8 Z" stroke-width="1" fill="#000" stroke-linejoin="round"/>
<path d="M309.3 2282.9 L314.7 2282.9 L314.7 2288.4 L309.3 2288.4 Z" stroke-width="1" fill="#000" stroke-linejoin="round"/>
<path d="M333 2274.3 L338.5 2274.3 L338.5 2279.8 L333 2279.8 Z" stroke-width="1" fill="#000" stroke-linejoin="round"/>
<path d="M346.6 2261.9 L352 2261.9 L352 2267.3 L346.6 2267.3 Z" stroke-width="1" fill="#000" stroke-linejoin="round"/>
<path d="M252.5 2175.2 L254.3 2227.3 C263.3 2247.6 331.2 2247.6 340.3 2227.3 L342.5 2175.2" stroke-width="3.2" fill="#fff" />
<line x1="261.1" y1="2192.2" x2="261.1" y2="2232" stroke-width="3" stroke-linecap="round"/>
<line x1="267.9" y1="2192.2" x2="267.9" y2="2232.8" stroke-width="3" stroke-linecap="round"/>
<line x1="275.8" y1="2192.2" x2="275.8" y2="2233.8" stroke-width="3" stroke-linecap="round"/>
<line x1="284.8" y1="2195.6" x2="284.8" y2="2234.8" stroke-width="3" stroke-linecap="round"/>
<line x1="295" y1="2195.6" x2="295" y2="2236.1" stroke-width="3" stroke-linecap="round"/>
<line x1="305.2" y1="2195.6" x2="305.2" y2="2235.4" stroke-width="3" stroke-linecap="round"/>
<line x1="315.4" y1="2195.6" x2="315.4" y2="2234.2" stroke-width="3" stroke-linecap="round"/>
<line x1="324.4" y1="2192.2" x2="324.4" y2="2233.1" stroke-width="3" stroke-linecap="round"/>
<line x1="332.4" y1="2192.2" x2="332.4" y2="2232.1" stroke-width="3" stroke-linecap="round"/>
<line x1="338" y1="2192.2" x2="338" y2="2231.4" stroke-width="3" stroke-linecap="round"/>
<path d="M254.3 2227.3 C263.3 2247.6 331.2 2247.6 340.3 2227.3" stroke-width="4.5" fill="none" />
<ellipse cx="251.6" cy="2218.2" rx="2" ry="2.7" stroke-width="1" fill="#000"/>
<ellipse cx="255.4" cy="2227.3" rx="2" ry="2.7" stroke-width="1" fill="#000"/>
<ellipse cx="267.9" cy="2238.6" rx="2" ry="2.7" stroke-width="1" fill="#000"/>
<ellipse cx="276.9" cy="2240.9" rx="2" ry="2.7" stroke-width="1" fill="#000"/>
<ellipse cx="287.1" cy="2242" rx="2" ry="2.7" stroke-width="1" fill="#000"/>
<ellipse cx="298.4" cy="2242.4" rx="2" ry="2.7" stroke-width="1" fill="#000"/>
<ellipse cx="309.7" cy="2241.5" rx="2" ry="2.7" stroke-width="1" fill="#000"/>
<ellipse cx="319.9" cy="2238.6" rx="2" ry="2.7" stroke-width="1" fill="#000"/>
<ellipse cx="335.7" cy="2229.5" rx="2" ry="2.7" stroke-width="1" fill="#000"/>
<ellipse cx="342.5" cy="2218.2" rx="2" ry="2.7" stroke-width="1" fill="#000"/>
<ellipse cx="297.3" cy="2170.7" rx="45.2" ry="24.9" stroke-width="4" fill="#fff"/>
<ellipse cx="297.3" cy="2173" rx="41.9" ry="21.5" stroke-width="2.4" fill="none"/>
<path d="M252.5 2178.6 C258.8 2204.7 335.7 2204.7 342.5 2178.6" stroke-width="3" fill="none" />
<ellipse cx="297.3" cy="2170.7" rx="25.3" ry="13.1" stroke-width="4" fill="none"/>
<ellipse cx="297.3" cy="2171.2" rx="17.6" ry="8.6" stroke-width="3.4" fill="none"/>
<path d="M287.1 2152.6 L287.1 2170.7 C290.5 2176.4 304.1 2176.4 307.5 2170.7 L307.5 2152.6" stroke-width="3.2" fill="#fff" />
<ellipse cx="297.3" cy="2152.6" rx="10.2" ry="4.5" stroke-width="3.2" fill="#fff"/>
<path d="M167 2540 L196 2536 L198 2550 L204 2576 L216 2582 L233.9 2593.9 L253.9 2586 L253.9 2578 L299.9 2568 L337.9 2536 L359.9 2529 L369.9 2529 L426.8 2578 L426.8 2617.9 L433.8 2621.9 L433.8 2649.9 L429.8 2655.9 L405.8 2649.9 L401.8 2649.9 L287.9 2683.9 L277.9 2669.9 L254.9 2669.9 L255.9 2689.9 L243.9 2707.9 L237.9 2707.9 L237.9 2683.9 L200 2667.9 L176 2649.9 L167 2645.9 Z" stroke-width="3.4" fill="#fff" />
<path d="M174 2556 C182 2570 200 2586 216 2593.9 M167 2645.9 C190 2661.9 210 2673.9 226 2679.9 M174 2556 L174 2647.9 M167 2540 L174 2556 L196 2550 M180 2544 L182 2556 M190 2540 L192 2570 M198 2550 L200 2576" stroke-width="3.4" fill="none" />
<path d="M226 2595.9 L237.9 2597.9 L253.9 2588 L253.9 2669.9 L237.9 2681.9 L226 2679.9 Z" stroke-width="3.4" fill="#fff" stroke-linejoin="round"/>
<line x1="237.9" y1="2597.9" x2="237.9" y2="2681.9" stroke-width="3.4" stroke-linecap="round"/>
<path d="M216 2574 L216 2617.9 L222 2621.9 L222 2593.9 M216 2574 L230 2580 L230 2593.9 M233.9 2586 L243.9 2582 L243.9 2592" stroke-width="3.6" fill="none" />
<path d="M253.9 2595.9 C269.9 2590 299.9 2588 339.9 2597.9 C349.9 2601.9 357.9 2607.9 361.9 2613.9 M297.9 2657.9 C313.9 2656.9 341.9 2649.9 357.9 2639.9 M253.9 2617.9 L255.9 2617.9 L269.9 2619.9 L297.9 2655.9 L297.9 2671.9 L289.9 2669.9 L257.9 2629.9 Z" stroke-width="3.4" fill="none" />
<path d="M299.9 2568 L299.9 2584 L329.9 2558 C349.9 2562 363.9 2570 365.9 2578 L369.9 2590 L397.9 2588 L426.8 2578 M369.9 2590 L361.9 2613.9 L357.9 2639.9 L383.9 2647.9 L397.9 2588 M397.9 2588 L395.9 2625.9 L426.8 2617.9 M337.9 2536 L329.9 2558 M369.9 2529 C389.9 2546 399.9 2566 399.9 2586" stroke-width="3.4" fill="none" />
<path d="M395.9 2627.9 L429.8 2619.9 L429.8 2655.9 M395.9 2627.9 L401.8 2649.9 M405.8 2629.9 L405.8 2649.9" stroke-width="3.6" fill="none" />
<path d="M277.9 2669.9 L287.9 2681.9 L401.8 2647.9" stroke-width="2.6" fill="none" />
<path d="M243.9 2685.9 L243.9 2706.9 M237.9 2683.9 L255.9 2669.9" stroke-width="3.2" fill="none" />
<ellipse cx="342.9" cy="2602.9" rx="2" ry="2" stroke-width="1" fill="#000"/>
<path d="M216 2761.8 L219.4 2781.8 L223.4 2781.8 L230 2759.9" stroke-width="3.6" fill="#fff" stroke-linejoin="round"/>
<line x1="221.4" y1="2769.8" x2="221.4" y2="2781.8" stroke-width="4" stroke-linecap="round"/>
<path d="M232 2771.8 L235.3 2793.8 L239.3 2793.8 L245.9 2769.8" stroke-width="3.6" fill="#fff" stroke-linejoin="round"/>
<line x1="237.3" y1="2781.8" x2="237.3" y2="2793.8" stroke-width="4" stroke-linecap="round"/>
<path d="M253.9 2781.8 L257.3 2802.8 L261.3 2802.8 L267.9 2779.8" stroke-width="3.6" fill="#fff" stroke-linejoin="round"/>
<line x1="259.3" y1="2790.8" x2="259.3" y2="2802.8" stroke-width="4" stroke-linecap="round"/>
<path d="M281.9 2785.8 L284.3 2807.8 L288.3 2807.8 L295.9 2783.8" stroke-width="3.6" fill="#fff" stroke-linejoin="round"/>
<line x1="286.3" y1="2795.8" x2="286.3" y2="2807.8" stroke-width="4" stroke-linecap="round"/>
<path d="M309.9 2785.8 L313.3 2806.8 L317.3 2806.8 L323.9 2783.8" stroke-width="3.6" fill="#fff" stroke-linejoin="round"/>
<line x1="315.3" y1="2794.8" x2="315.3" y2="2806.8" stroke-width="4" stroke-linecap="round"/>
<path d="M337.9 2779.8 L341.3 2798.8 L345.3 2798.8 L351.9 2777.8" stroke-width="3.6" fill="#fff" stroke-linejoin="round"/>
<line x1="343.3" y1="2786.8" x2="343.3" y2="2798.8" stroke-width="4" stroke-linecap="round"/>
<path d="M359.9 2771.8 L362.3 2791.8 L366.3 2791.8 L373.9 2769.8" stroke-width="3.6" fill="#fff" stroke-linejoin="round"/>
<line x1="364.3" y1="2779.8" x2="364.3" y2="2791.8" stroke-width="4" stroke-linecap="round"/>
<path d="M373.9 2759.9 L376.3 2779.8 L380.3 2779.8 L387.9 2757.9" stroke-width="3.6" fill="#fff" stroke-linejoin="round"/>
<line x1="378.3" y1="2767.8" x2="378.3" y2="2779.8" stroke-width="4" stroke-linecap="round"/>
<path d="M215 2746.9 L215 2757.9 C218 2809.8 379.9 2809.8 382.9 2757.9 L382.9 2746.9" stroke-width="3.2" fill="none" />
<path d="M215 2757.9 C218 2805.8 379.9 2805.8 382.9 2757.9" stroke-width="3.4" fill="#fff" />
<ellipse cx="298.9" cy="2746.9" rx="83.9" ry="44.4" stroke-width="3.4" fill="#fff"/>
<ellipse cx="298.9" cy="2745.9" rx="68" ry="33.6" stroke-width="6" fill="#fff"/>
<ellipse cx="298.9" cy="2746.9" rx="60" ry="28.4" stroke-width="3.2" fill="none"/>
<path d="M232 2749.9 C235.9 2781.8 361.9 2781.8 365.9 2749.9" stroke-width="3" fill="none" />
<line x1="244.4" y1="2737.6" x2="266" y2="2745.4" stroke-width="4.5" stroke-linecap="round"/>
<line x1="253.2" y1="2730.2" x2="271.3" y2="2741" stroke-width="4.5" stroke-linecap="round"/>
<line x1="266.5" y1="2724.5" x2="279.4" y2="2737.6" stroke-width="4.5" stroke-linecap="round"/>
<line x1="282.9" y1="2720.9" x2="289.3" y2="2735.5" stroke-width="4.5" stroke-linecap="round"/>
<line x1="300.9" y1="2719.9" x2="300.1" y2="2734.9" stroke-width="4.5" stroke-linecap="round"/>
<line x1="318.7" y1="2721.5" x2="310.9" y2="2735.8" stroke-width="4.5" stroke-linecap="round"/>
<line x1="334.6" y1="2725.6" x2="320.4" y2="2738.3" stroke-width="4.5" stroke-linecap="round"/>
<line x1="347" y1="2731.8" x2="327.9" y2="2741.9" stroke-width="4.5" stroke-linecap="round"/>
<line x1="354.6" y1="2739.4" x2="332.5" y2="2746.4" stroke-width="4.5" stroke-linecap="round"/>
<line x1="353.4" y1="2756.1" x2="331.8" y2="2756.3" stroke-width="3.6" stroke-linecap="round"/>
<line x1="336.2" y1="2767.5" x2="321.4" y2="2763.1" stroke-width="3.6" stroke-linecap="round"/>
<line x1="261.7" y1="2767.5" x2="276.4" y2="2763.1" stroke-width="3.6" stroke-linecap="round"/>
<line x1="244.4" y1="2756.1" x2="266" y2="2756.3" stroke-width="3.6" stroke-linecap="round"/>
<ellipse cx="298.9" cy="2752.9" rx="30.4" ry="14.4" stroke-width="4.5" fill="#fff"/>
<ellipse cx="298.9" cy="2753.9" rx="25" ry="11" stroke-width="3" fill="none"/>
<path d="M279.9 2751.9 L279.9 2747.9 L289.9 2746.9 L292.9 2733.9 L304.9 2733.9 L307.9 2746.9 L317.9 2747.9 L317.9 2751.9" stroke-width="3.6" fill="#fff" />
<path d="M269.9 2757.9 C277.9 2767.8 319.9 2767.8 327.9 2757.9" stroke-width="3.4" fill="none" />
<ellipse cx="300.9" cy="2845.8" rx="29.2" ry="16" stroke-width="5" fill="#fff"/>
<ellipse cx="300.9" cy="2847.4" rx="24.4" ry="12.4" stroke-width="2.4" fill="none"/>
<path d="M319.9 2832.8 L325.9 2830.8 L334.9 2837.8 L334.9 2843.4 L328.9 2844.2" stroke-width="5" fill="none" />
</g>
<g id="99_overlay" stroke="#000" fill="none" stroke-linejoin="round" stroke-linecap="round">
<line x1="331" y1="927.5" x2="355" y2="927.5" stroke-width="4.2" stroke-linecap="butt"/>
</g>
</svg></body></html>
